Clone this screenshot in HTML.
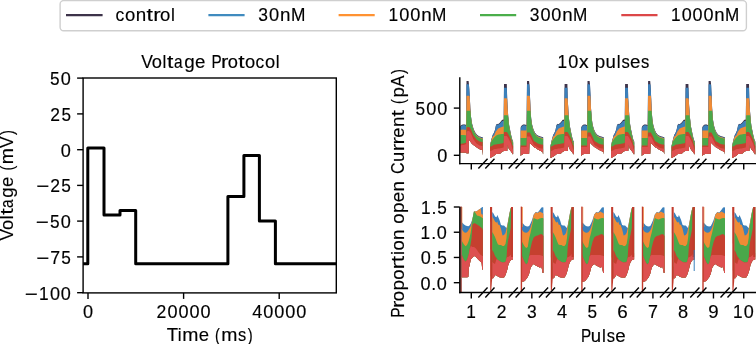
<!DOCTYPE html>
<html><head><meta charset="utf-8"><style>
html,body{margin:0;padding:0;background:#fff;}
svg{display:block;}
text{font-family:"Liberation Sans",sans-serif;font-size:17.7px;fill:#000;stroke:#000;stroke-width:0.15px;}
svg{will-change:transform;}
</style></head><body>
<svg width="756" height="344" viewBox="0 0 756 344">
<rect width="756" height="344" fill="#fff"/>
<path d="M460.2,125.9 L460.5,125.7 L460.9,125.4 L461.2,125.2 L461.6,125.0 L461.9,124.8 L462.3,124.7 L462.6,124.5 L463.0,124.5 L463.3,124.4 L463.7,124.4 L464.0,124.3 L464.4,124.4 L464.7,124.5 L465.1,124.6 L465.4,124.7 L465.8,124.8 L466.1,125.0 L466.5,81.0 L466.8,81.0 L467.2,81.0 L467.5,81.0 L467.9,81.0 L468.2,81.0 L468.6,81.0 L468.9,83.9 L469.3,89.0 L469.6,94.9 L470.0,101.0 L470.3,108.0 L470.7,112.1 L471.0,116.2 L471.4,119.4 L471.7,121.4 L472.1,123.4 L472.4,125.0 L472.8,126.1 L473.1,127.2 L473.5,128.4 L473.8,129.5 L474.2,130.2 L474.5,130.9 L474.9,131.6 L475.2,132.3 L475.6,132.9 L475.9,133.4 L476.3,133.8 L476.6,134.3 L477.0,134.7 L477.3,135.0 L477.7,135.3 L478.0,135.5 L478.4,135.8 L478.7,136.0 L479.1,136.2 L479.4,136.4 L479.8,136.5 L480.1,136.6 L480.5,136.7 L480.8,136.8 L481.2,136.9 L481.5,137.0 L481.9,137.0 L482.2,137.1 L482.6,137.1 L482.6,155.5 L482.2,149.9 L481.9,149.8 L481.5,149.7 L481.2,149.7 L480.8,149.6 L480.5,149.5 L480.1,149.4 L479.8,149.2 L479.4,149.0 L479.1,148.8 L478.7,148.6 L478.4,148.4 L478.0,148.2 L477.7,147.9 L477.3,147.7 L477.0,147.5 L476.6,147.3 L476.3,147.1 L475.9,146.8 L475.6,146.6 L475.2,146.3 L474.9,146.0 L474.5,145.7 L474.2,145.5 L473.8,145.2 L473.5,144.9 L473.1,144.7 L472.8,144.4 L472.4,144.1 L472.1,143.8 L471.7,143.4 L471.4,143.0 L471.0,142.6 L470.7,142.1 L470.3,141.7 L470.0,141.1 L469.6,140.5 L469.3,139.8 L468.9,139.2 L468.6,153.2 L468.2,153.2 L467.9,153.2 L467.5,153.2 L467.2,153.2 L466.8,153.2 L466.5,153.2 L466.1,152.6 L465.8,152.6 L465.4,152.6 L465.1,152.6 L464.7,152.6 L464.4,152.6 L464.0,152.6 L463.7,152.6 L463.3,152.6 L463.0,152.6 L462.6,152.6 L462.3,152.6 L461.9,152.6 L461.6,152.6 L461.2,152.6 L460.9,152.6 L460.5,152.6 L460.2,152.6Z" fill="#3d334a"/>
<path d="M460.2,126.9 L460.5,126.6 L460.9,126.3 L461.2,126.0 L461.6,125.8 L461.9,125.6 L462.3,125.4 L462.6,125.2 L463.0,125.2 L463.3,125.1 L463.7,125.1 L464.0,125.1 L464.4,125.1 L464.7,125.2 L465.1,125.4 L465.4,125.5 L465.8,125.6 L466.1,125.7 L466.5,84.2 L466.8,84.2 L467.2,84.2 L467.5,84.2 L467.9,84.2 L468.2,84.2 L468.6,84.2 L468.9,84.4 L469.3,89.5 L469.6,95.4 L470.0,101.5 L470.3,108.5 L470.7,112.6 L471.0,116.7 L471.4,119.9 L471.7,121.9 L472.1,123.9 L472.4,125.5 L472.8,126.6 L473.1,127.7 L473.5,128.9 L473.8,130.0 L474.2,130.7 L474.5,131.4 L474.9,132.1 L475.2,132.8 L475.6,133.4 L475.9,133.9 L476.3,134.3 L476.6,134.8 L477.0,135.2 L477.3,135.5 L477.7,135.8 L478.0,136.0 L478.4,136.3 L478.7,136.5 L479.1,136.7 L479.4,136.9 L479.8,137.0 L480.1,137.1 L480.5,137.2 L480.8,137.3 L481.2,137.4 L481.5,137.5 L481.9,137.5 L482.2,137.6 L482.6,137.6 L482.6,155.5 L482.2,149.9 L481.9,149.8 L481.5,149.7 L481.2,149.7 L480.8,149.6 L480.5,149.5 L480.1,149.4 L479.8,149.2 L479.4,149.0 L479.1,148.8 L478.7,148.6 L478.4,148.4 L478.0,148.2 L477.7,147.9 L477.3,147.7 L477.0,147.5 L476.6,147.3 L476.3,147.1 L475.9,146.8 L475.6,146.6 L475.2,146.3 L474.9,146.0 L474.5,145.7 L474.2,145.5 L473.8,145.2 L473.5,144.9 L473.1,144.7 L472.8,144.4 L472.4,144.1 L472.1,143.8 L471.7,143.4 L471.4,143.0 L471.0,142.6 L470.7,142.1 L470.3,141.7 L470.0,141.1 L469.6,140.5 L469.3,139.8 L468.9,139.2 L468.6,153.2 L468.2,153.2 L467.9,153.2 L467.5,153.2 L467.2,153.2 L466.8,153.2 L466.5,153.2 L466.1,152.6 L465.8,152.6 L465.4,152.6 L465.1,152.6 L464.7,152.6 L464.4,152.6 L464.0,152.6 L463.7,152.6 L463.3,152.6 L463.0,152.6 L462.6,152.6 L462.3,152.6 L461.9,152.6 L461.6,152.6 L461.2,152.6 L460.9,152.6 L460.5,152.6 L460.2,152.6Z" fill="#3b80bb"/>
<path d="M460.2,129.8 L460.5,129.8 L460.9,129.8 L461.2,129.7 L461.6,129.7 L461.9,129.7 L462.3,129.6 L462.6,129.6 L463.0,129.6 L463.3,129.6 L463.7,129.7 L464.0,129.7 L464.4,129.7 L464.7,129.7 L465.1,129.7 L465.4,129.8 L465.8,129.8 L466.1,129.8 L466.5,95.7 L466.8,95.7 L467.2,95.7 L467.5,95.7 L467.9,95.7 L468.2,95.7 L468.6,95.7 L468.9,95.7 L469.3,95.7 L469.6,95.9 L470.0,102.0 L470.3,109.0 L470.7,113.1 L471.0,117.2 L471.4,120.4 L471.7,122.4 L472.1,124.4 L472.4,126.0 L472.8,127.1 L473.1,128.2 L473.5,129.4 L473.8,130.5 L474.2,131.2 L474.5,131.9 L474.9,132.6 L475.2,133.3 L475.6,133.9 L475.9,134.4 L476.3,134.8 L476.6,135.3 L477.0,135.7 L477.3,136.0 L477.7,136.3 L478.0,136.5 L478.4,136.8 L478.7,137.0 L479.1,137.2 L479.4,137.4 L479.8,137.5 L480.1,137.6 L480.5,137.7 L480.8,137.8 L481.2,137.9 L481.5,138.0 L481.9,138.0 L482.2,138.1 L482.6,138.1 L482.6,155.5 L482.2,149.9 L481.9,149.8 L481.5,149.7 L481.2,149.7 L480.8,149.6 L480.5,149.5 L480.1,149.4 L479.8,149.2 L479.4,149.0 L479.1,148.8 L478.7,148.6 L478.4,148.4 L478.0,148.2 L477.7,147.9 L477.3,147.7 L477.0,147.5 L476.6,147.3 L476.3,147.1 L475.9,146.8 L475.6,146.6 L475.2,146.3 L474.9,146.0 L474.5,145.7 L474.2,145.5 L473.8,145.2 L473.5,144.9 L473.1,144.7 L472.8,144.4 L472.4,144.1 L472.1,143.8 L471.7,143.4 L471.4,143.0 L471.0,142.6 L470.7,142.1 L470.3,141.7 L470.0,141.1 L469.6,140.5 L469.3,139.8 L468.9,139.2 L468.6,153.2 L468.2,153.2 L467.9,153.2 L467.5,153.2 L467.2,153.2 L466.8,153.2 L466.5,153.2 L466.1,152.6 L465.8,152.6 L465.4,152.6 L465.1,152.6 L464.7,152.6 L464.4,152.6 L464.0,152.6 L463.7,152.6 L463.3,152.6 L463.0,152.6 L462.6,152.6 L462.3,152.6 L461.9,152.6 L461.6,152.6 L461.2,152.6 L460.9,152.6 L460.5,152.6 L460.2,152.6Z" fill="#f08b35"/>
<path d="M460.2,135.2 L460.5,135.2 L460.9,135.2 L461.2,135.1 L461.6,135.1 L461.9,135.1 L462.3,135.1 L462.6,135.1 L463.0,135.1 L463.3,135.1 L463.7,135.1 L464.0,135.1 L464.4,135.1 L464.7,135.2 L465.1,135.2 L465.4,135.2 L465.8,135.2 L466.1,135.2 L466.5,110.7 L466.8,110.7 L467.2,110.7 L467.5,110.7 L467.9,110.7 L468.2,110.7 L468.6,110.7 L468.9,110.7 L469.3,110.7 L469.6,110.7 L470.0,110.7 L470.3,110.7 L470.7,113.7 L471.0,117.8 L471.4,121.0 L471.7,123.0 L472.1,125.0 L472.4,126.6 L472.8,127.7 L473.1,128.8 L473.5,130.0 L473.8,131.1 L474.2,131.8 L474.5,132.5 L474.9,133.2 L475.2,133.9 L475.6,134.5 L475.9,135.0 L476.3,135.4 L476.6,135.9 L477.0,136.3 L477.3,136.6 L477.7,136.9 L478.0,137.1 L478.4,137.4 L478.7,137.6 L479.1,137.8 L479.4,138.0 L479.8,138.1 L480.1,138.2 L480.5,138.3 L480.8,138.4 L481.2,138.5 L481.5,138.6 L481.9,138.6 L482.2,138.7 L482.6,138.7 L482.6,155.5 L482.2,149.9 L481.9,149.8 L481.5,149.7 L481.2,149.7 L480.8,149.6 L480.5,149.5 L480.1,149.4 L479.8,149.2 L479.4,149.0 L479.1,148.8 L478.7,148.6 L478.4,148.4 L478.0,148.2 L477.7,147.9 L477.3,147.7 L477.0,147.5 L476.6,147.3 L476.3,147.1 L475.9,146.8 L475.6,146.6 L475.2,146.3 L474.9,146.0 L474.5,145.7 L474.2,145.5 L473.8,145.2 L473.5,144.9 L473.1,144.7 L472.8,144.4 L472.4,144.1 L472.1,143.8 L471.7,143.4 L471.4,143.0 L471.0,142.6 L470.7,142.1 L470.3,141.7 L470.0,141.1 L469.6,140.5 L469.3,139.8 L468.9,139.2 L468.6,153.2 L468.2,153.2 L467.9,153.2 L467.5,153.2 L467.2,153.2 L466.8,153.2 L466.5,153.2 L466.1,152.6 L465.8,152.6 L465.4,152.6 L465.1,152.6 L464.7,152.6 L464.4,152.6 L464.0,152.6 L463.7,152.6 L463.3,152.6 L463.0,152.6 L462.6,152.6 L462.3,152.6 L461.9,152.6 L461.6,152.6 L461.2,152.6 L460.9,152.6 L460.5,152.6 L460.2,152.6Z" fill="#4aa84a"/>
<path d="M460.2,143.9 L460.5,143.9 L460.9,143.8 L461.2,143.8 L461.6,143.7 L461.9,143.7 L462.3,143.6 L462.6,143.5 L463.0,143.5 L463.3,143.4 L463.7,143.4 L464.0,143.3 L464.4,143.2 L464.7,143.1 L465.1,143.0 L465.4,142.8 L465.8,142.7 L466.1,142.6 L466.5,127.5 L466.8,127.4 L467.2,127.3 L467.5,127.2 L467.9,127.1 L468.2,127.1 L468.6,127.0 L468.9,127.1 L469.3,127.3 L469.6,127.4 L470.0,127.7 L470.3,128.3 L470.7,129.0 L471.0,129.6 L471.4,130.4 L471.7,131.2 L472.1,132.1 L472.4,133.0 L472.8,133.9 L473.1,134.8 L473.5,135.4 L473.8,135.8 L474.2,136.3 L474.5,136.8 L474.9,137.3 L475.2,137.8 L475.6,138.3 L475.9,138.8 L476.3,139.3 L476.6,139.6 L477.0,139.9 L477.3,140.1 L477.7,140.3 L478.0,140.5 L478.4,140.8 L478.7,141.0 L479.1,141.2 L479.4,141.4 L479.8,141.4 L480.1,141.5 L480.5,141.6 L480.8,141.7 L481.2,141.8 L481.5,141.9 L481.9,141.9 L482.2,142.0 L482.6,142.1 L482.6,155.5 L482.2,149.9 L481.9,149.8 L481.5,149.7 L481.2,149.7 L480.8,149.6 L480.5,149.5 L480.1,149.4 L479.8,149.2 L479.4,149.0 L479.1,148.8 L478.7,148.6 L478.4,148.4 L478.0,148.2 L477.7,147.9 L477.3,147.7 L477.0,147.5 L476.6,147.3 L476.3,147.1 L475.9,146.8 L475.6,146.6 L475.2,146.3 L474.9,146.0 L474.5,145.7 L474.2,145.5 L473.8,145.2 L473.5,144.9 L473.1,144.7 L472.8,144.4 L472.4,144.1 L472.1,143.8 L471.7,143.4 L471.4,143.0 L471.0,142.6 L470.7,142.1 L470.3,141.7 L470.0,141.1 L469.6,140.5 L469.3,139.8 L468.9,139.2 L468.6,153.2 L468.2,153.2 L467.9,153.2 L467.5,153.2 L467.2,153.2 L466.8,153.2 L466.5,153.2 L466.1,152.6 L465.8,152.6 L465.4,152.6 L465.1,152.6 L464.7,152.6 L464.4,152.6 L464.0,152.6 L463.7,152.6 L463.3,152.6 L463.0,152.6 L462.6,152.6 L462.3,152.6 L461.9,152.6 L461.6,152.6 L461.2,152.6 L460.9,152.6 L460.5,152.6 L460.2,152.6Z" fill="#c5402f"/>
<path d="M460.2,145.4 L460.5,145.4 L460.9,145.3 L461.2,145.3 L461.6,145.2 L461.9,145.2 L462.3,145.1 L462.6,145.0 L463.0,145.0 L463.3,144.9 L463.7,144.9 L464.0,144.8 L464.4,144.7 L464.7,144.6 L465.1,144.5 L465.4,144.3 L465.8,144.2 L466.1,144.1 L466.5,131.5 L466.8,131.4 L467.2,131.3 L467.5,131.2 L467.9,131.1 L468.2,131.1 L468.6,131.0 L468.9,131.1 L469.3,131.3 L469.6,131.4 L470.0,131.7 L470.3,132.3 L470.7,133.0 L471.0,133.6 L471.4,134.4 L471.7,135.2 L472.1,136.1 L472.4,137.0 L472.8,137.9 L473.1,138.8 L473.5,139.4 L473.8,139.8 L474.2,140.3 L474.5,140.8 L474.9,141.3 L475.2,141.8 L475.6,142.3 L475.9,142.8 L476.3,143.3 L476.6,143.6 L477.0,143.9 L477.3,144.1 L477.7,144.3 L478.0,144.5 L478.4,144.8 L478.7,145.0 L479.1,145.2 L479.4,145.4 L479.8,145.4 L480.1,145.5 L480.5,145.6 L480.8,145.7 L481.2,145.8 L481.5,145.9 L481.9,145.9 L482.2,146.0 L482.6,146.1 L482.6,155.5 L482.2,149.9 L481.9,149.8 L481.5,149.7 L481.2,149.7 L480.8,149.6 L480.5,149.5 L480.1,149.4 L479.8,149.2 L479.4,149.0 L479.1,148.8 L478.7,148.6 L478.4,148.4 L478.0,148.2 L477.7,147.9 L477.3,147.7 L477.0,147.5 L476.6,147.3 L476.3,147.1 L475.9,146.8 L475.6,146.6 L475.2,146.3 L474.9,146.0 L474.5,145.7 L474.2,145.5 L473.8,145.2 L473.5,144.9 L473.1,144.7 L472.8,144.4 L472.4,144.1 L472.1,143.8 L471.7,143.4 L471.4,143.0 L471.0,142.6 L470.7,142.1 L470.3,141.7 L470.0,141.1 L469.6,140.5 L469.3,139.8 L468.9,139.2 L468.6,153.2 L468.2,153.2 L467.9,153.2 L467.5,153.2 L467.2,153.2 L466.8,153.2 L466.5,153.2 L466.1,152.6 L465.8,152.6 L465.4,152.6 L465.1,152.6 L464.7,152.6 L464.4,152.6 L464.0,152.6 L463.7,152.6 L463.3,152.6 L463.0,152.6 L462.6,152.6 L462.3,152.6 L461.9,152.6 L461.6,152.6 L461.2,152.6 L460.9,152.6 L460.5,152.6 L460.2,152.6Z" fill="#dd5050"/>
<path d="M490.0,145.5 L490.4,143.9 L490.7,142.3 L491.1,140.7 L491.4,139.3 L491.8,138.0 L492.1,136.8 L492.5,135.5 L492.8,134.6 L493.2,134.0 L493.5,133.4 L493.9,132.8 L494.2,131.9 L494.6,131.0 L494.9,130.0 L495.3,128.4 L495.6,126.8 L496.0,125.1 L496.3,124.6 L496.7,124.2 L497.0,123.8 L497.4,124.0 L497.7,124.1 L498.1,124.3 L498.4,123.9 L498.8,123.6 L499.1,123.3 L499.5,123.0 L499.8,122.7 L500.2,122.3 L500.5,121.8 L500.9,121.4 L501.2,120.9 L501.6,120.5 L501.9,120.0 L502.3,119.8 L502.6,119.8 L503.0,119.7 L503.3,119.6 L503.7,119.6 L504.0,83.9 L504.4,83.9 L504.7,83.9 L505.1,83.9 L505.4,83.9 L505.8,83.9 L506.1,83.9 L506.5,83.9 L506.8,83.9 L507.2,98.4 L507.5,105.2 L507.9,110.9 L508.2,116.0 L508.6,119.6 L508.9,123.2 L509.3,125.9 L509.6,127.6 L510.0,129.3 L510.3,131.1 L510.7,132.8 L511.0,134.6 L511.4,136.0 L511.7,137.4 L512.1,138.7 L512.4,140.0 L512.8,140.7 L513.1,141.3 L513.1,154.3 L512.8,154.2 L512.4,153.6 L512.1,153.0 L511.7,152.5 L511.4,152.1 L511.0,151.6 L510.7,151.1 L510.3,150.7 L510.0,150.2 L509.6,149.8 L509.3,149.3 L508.9,148.8 L508.6,147.9 L508.2,147.0 L507.9,145.9 L507.5,144.7 L507.2,151.0 L506.8,151.0 L506.5,151.0 L506.1,151.0 L505.8,151.0 L505.4,151.0 L505.1,151.0 L504.7,151.0 L504.4,151.0 L504.0,151.0 L503.7,151.1 L503.3,151.2 L503.0,151.3 L502.6,151.4 L502.3,151.6 L501.9,151.9 L501.6,152.2 L501.2,152.6 L500.9,152.9 L500.5,153.2 L500.2,153.5 L499.8,153.6 L499.5,153.7 L499.1,153.7 L498.8,153.7 L498.4,153.8 L498.1,153.8 L497.7,153.8 L497.4,153.9 L497.0,153.9 L496.7,153.9 L496.3,154.0 L496.0,154.0 L495.6,154.4 L495.3,154.7 L494.9,155.0 L494.6,155.3 L494.2,155.6 L493.9,155.9 L493.5,156.1 L493.2,156.3 L492.8,156.5 L492.5,156.7 L492.1,156.9 L491.8,157.1 L491.4,157.3 L491.1,157.5 L490.7,157.7 L490.4,157.9 L490.0,158.0Z" fill="#3d334a"/>
<path d="M490.0,145.8 L490.4,144.2 L490.7,142.6 L491.1,141.0 L491.4,139.6 L491.8,138.4 L492.1,137.1 L492.5,135.9 L492.8,135.0 L493.2,134.4 L493.5,133.8 L493.9,133.2 L494.2,132.4 L494.6,131.4 L494.9,130.4 L495.3,128.8 L495.6,127.2 L496.0,125.6 L496.3,125.0 L496.7,124.7 L497.0,124.3 L497.4,124.5 L497.7,124.6 L498.1,124.8 L498.4,124.5 L498.8,124.3 L499.1,124.0 L499.5,123.8 L499.8,123.5 L500.2,123.2 L500.5,122.8 L500.9,122.4 L501.2,122.0 L501.6,121.6 L501.9,121.2 L502.3,121.1 L502.6,121.1 L503.0,121.0 L503.3,120.9 L503.7,120.9 L504.0,87.8 L504.4,87.8 L504.7,87.8 L505.1,87.8 L505.4,87.8 L505.8,87.8 L506.1,87.8 L506.5,87.8 L506.8,87.8 L507.2,98.9 L507.5,105.7 L507.9,111.4 L508.2,116.5 L508.6,120.1 L508.9,123.7 L509.3,126.4 L509.6,128.1 L510.0,129.8 L510.3,131.6 L510.7,133.3 L511.0,135.1 L511.4,136.5 L511.7,137.9 L512.1,139.2 L512.4,140.5 L512.8,141.2 L513.1,141.8 L513.1,154.3 L512.8,154.2 L512.4,153.6 L512.1,153.0 L511.7,152.5 L511.4,152.1 L511.0,151.6 L510.7,151.1 L510.3,150.7 L510.0,150.2 L509.6,149.8 L509.3,149.3 L508.9,148.8 L508.6,147.9 L508.2,147.0 L507.9,145.9 L507.5,144.7 L507.2,151.0 L506.8,151.0 L506.5,151.0 L506.1,151.0 L505.8,151.0 L505.4,151.0 L505.1,151.0 L504.7,151.0 L504.4,151.0 L504.0,151.0 L503.7,151.1 L503.3,151.2 L503.0,151.3 L502.6,151.4 L502.3,151.6 L501.9,151.9 L501.6,152.2 L501.2,152.6 L500.9,152.9 L500.5,153.2 L500.2,153.5 L499.8,153.6 L499.5,153.7 L499.1,153.7 L498.8,153.7 L498.4,153.8 L498.1,153.8 L497.7,153.8 L497.4,153.9 L497.0,153.9 L496.7,153.9 L496.3,154.0 L496.0,154.0 L495.6,154.4 L495.3,154.7 L494.9,155.0 L494.6,155.3 L494.2,155.6 L493.9,155.9 L493.5,156.1 L493.2,156.3 L492.8,156.5 L492.5,156.7 L492.1,156.9 L491.8,157.1 L491.4,157.3 L491.1,157.5 L490.7,157.7 L490.4,157.9 L490.0,158.0Z" fill="#3b80bb"/>
<path d="M490.0,145.9 L490.4,144.3 L490.7,142.7 L491.1,141.2 L491.4,139.9 L491.8,138.9 L492.1,137.9 L492.5,136.9 L492.8,136.4 L493.2,136.1 L493.5,135.9 L493.9,135.7 L494.2,135.2 L494.6,134.4 L494.9,133.6 L495.3,132.8 L495.6,132.1 L496.0,131.3 L496.3,130.8 L496.7,130.4 L497.0,129.9 L497.4,129.4 L497.7,129.0 L498.1,128.6 L498.4,128.4 L498.8,128.3 L499.1,128.1 L499.5,127.9 L499.8,127.8 L500.2,127.6 L500.5,127.5 L500.9,127.4 L501.2,127.2 L501.6,127.1 L501.9,126.9 L502.3,126.8 L502.6,126.8 L503.0,126.7 L503.3,126.6 L503.7,126.6 L504.0,98.3 L504.4,98.3 L504.7,98.3 L505.1,98.3 L505.4,98.3 L505.8,98.3 L506.1,98.3 L506.5,98.3 L506.8,98.3 L507.2,99.4 L507.5,106.2 L507.9,111.9 L508.2,117.0 L508.6,120.6 L508.9,124.2 L509.3,126.9 L509.6,128.6 L510.0,130.3 L510.3,132.1 L510.7,133.8 L511.0,135.6 L511.4,137.0 L511.7,138.4 L512.1,139.7 L512.4,141.0 L512.8,141.7 L513.1,142.3 L513.1,154.3 L512.8,154.2 L512.4,153.6 L512.1,153.0 L511.7,152.5 L511.4,152.1 L511.0,151.6 L510.7,151.1 L510.3,150.7 L510.0,150.2 L509.6,149.8 L509.3,149.3 L508.9,148.8 L508.6,147.9 L508.2,147.0 L507.9,145.9 L507.5,144.7 L507.2,151.0 L506.8,151.0 L506.5,151.0 L506.1,151.0 L505.8,151.0 L505.4,151.0 L505.1,151.0 L504.7,151.0 L504.4,151.0 L504.0,151.0 L503.7,151.1 L503.3,151.2 L503.0,151.3 L502.6,151.4 L502.3,151.6 L501.9,151.9 L501.6,152.2 L501.2,152.6 L500.9,152.9 L500.5,153.2 L500.2,153.5 L499.8,153.6 L499.5,153.7 L499.1,153.7 L498.8,153.7 L498.4,153.8 L498.1,153.8 L497.7,153.8 L497.4,153.9 L497.0,153.9 L496.7,153.9 L496.3,154.0 L496.0,154.0 L495.6,154.4 L495.3,154.7 L494.9,155.0 L494.6,155.3 L494.2,155.6 L493.9,155.9 L493.5,156.1 L493.2,156.3 L492.8,156.5 L492.5,156.7 L492.1,156.9 L491.8,157.1 L491.4,157.3 L491.1,157.5 L490.7,157.7 L490.4,157.9 L490.0,158.0Z" fill="#f08b35"/>
<path d="M490.0,146.2 L490.4,144.8 L490.7,143.5 L491.1,142.1 L491.4,141.2 L491.8,140.7 L492.1,140.2 L492.5,139.7 L492.8,139.3 L493.2,138.8 L493.5,138.3 L493.9,137.9 L494.2,137.5 L494.6,137.1 L494.9,136.8 L495.3,136.4 L495.6,136.0 L496.0,135.7 L496.3,135.5 L496.7,135.3 L497.0,135.1 L497.4,135.0 L497.7,134.8 L498.1,134.7 L498.4,134.6 L498.8,134.6 L499.1,134.5 L499.5,134.4 L499.8,134.3 L500.2,134.3 L500.5,134.2 L500.9,134.2 L501.2,134.1 L501.6,134.1 L501.9,134.1 L502.3,134.0 L502.6,134.0 L503.0,133.9 L503.3,133.9 L503.7,133.8 L504.0,115.3 L504.4,115.3 L504.7,115.3 L505.1,115.3 L505.4,115.3 L505.8,115.3 L506.1,115.3 L506.5,115.3 L506.8,115.3 L507.2,115.3 L507.5,115.3 L507.9,115.3 L508.2,117.6 L508.6,121.2 L508.9,124.8 L509.3,127.5 L509.6,129.2 L510.0,130.9 L510.3,132.7 L510.7,134.4 L511.0,136.2 L511.4,137.6 L511.7,139.0 L512.1,140.3 L512.4,141.6 L512.8,142.3 L513.1,142.9 L513.1,154.3 L512.8,154.2 L512.4,153.6 L512.1,153.0 L511.7,152.5 L511.4,152.1 L511.0,151.6 L510.7,151.1 L510.3,150.7 L510.0,150.2 L509.6,149.8 L509.3,149.3 L508.9,148.8 L508.6,147.9 L508.2,147.0 L507.9,145.9 L507.5,144.7 L507.2,151.0 L506.8,151.0 L506.5,151.0 L506.1,151.0 L505.8,151.0 L505.4,151.0 L505.1,151.0 L504.7,151.0 L504.4,151.0 L504.0,151.0 L503.7,151.1 L503.3,151.2 L503.0,151.3 L502.6,151.4 L502.3,151.6 L501.9,151.9 L501.6,152.2 L501.2,152.6 L500.9,152.9 L500.5,153.2 L500.2,153.5 L499.8,153.6 L499.5,153.7 L499.1,153.7 L498.8,153.7 L498.4,153.8 L498.1,153.8 L497.7,153.8 L497.4,153.9 L497.0,153.9 L496.7,153.9 L496.3,154.0 L496.0,154.0 L495.6,154.4 L495.3,154.7 L494.9,155.0 L494.6,155.3 L494.2,155.6 L493.9,155.9 L493.5,156.1 L493.2,156.3 L492.8,156.5 L492.5,156.7 L492.1,156.9 L491.8,157.1 L491.4,157.3 L491.1,157.5 L490.7,157.7 L490.4,157.9 L490.0,158.0Z" fill="#4aa84a"/>
<path d="M490.0,146.8 L490.4,146.6 L490.7,146.5 L491.1,146.4 L491.4,146.2 L491.8,146.1 L492.1,145.9 L492.5,145.7 L492.8,145.5 L493.2,145.3 L493.5,145.0 L493.9,144.8 L494.2,144.7 L494.6,144.6 L494.9,144.6 L495.3,144.5 L495.6,144.5 L496.0,144.4 L496.3,144.4 L496.7,144.3 L497.0,144.2 L497.4,144.2 L497.7,144.1 L498.1,144.1 L498.4,144.0 L498.8,144.0 L499.1,143.9 L499.5,143.9 L499.8,143.8 L500.2,143.8 L500.5,143.7 L500.9,143.6 L501.2,143.6 L501.6,143.5 L501.9,143.4 L502.3,143.3 L502.6,143.3 L503.0,143.2 L503.3,143.1 L503.7,143.1 L504.0,132.0 L504.4,132.0 L504.7,132.0 L505.1,132.0 L505.4,132.0 L505.8,132.0 L506.1,132.0 L506.5,132.0 L506.8,132.0 L507.2,132.4 L507.5,133.0 L507.9,133.6 L508.2,134.1 L508.6,134.7 L508.9,135.4 L509.3,136.1 L509.6,136.8 L510.0,137.5 L510.3,138.2 L510.7,138.9 L511.0,139.6 L511.4,140.9 L511.7,142.3 L512.1,143.7 L512.4,145.0 L512.8,145.5 L513.1,145.9 L513.1,154.3 L512.8,154.2 L512.4,153.6 L512.1,153.0 L511.7,152.5 L511.4,152.1 L511.0,151.6 L510.7,151.1 L510.3,150.7 L510.0,150.2 L509.6,149.8 L509.3,149.3 L508.9,148.8 L508.6,147.9 L508.2,147.0 L507.9,145.9 L507.5,144.7 L507.2,151.0 L506.8,151.0 L506.5,151.0 L506.1,151.0 L505.8,151.0 L505.4,151.0 L505.1,151.0 L504.7,151.0 L504.4,151.0 L504.0,151.0 L503.7,151.1 L503.3,151.2 L503.0,151.3 L502.6,151.4 L502.3,151.6 L501.9,151.9 L501.6,152.2 L501.2,152.6 L500.9,152.9 L500.5,153.2 L500.2,153.5 L499.8,153.6 L499.5,153.7 L499.1,153.7 L498.8,153.7 L498.4,153.8 L498.1,153.8 L497.7,153.8 L497.4,153.9 L497.0,153.9 L496.7,153.9 L496.3,154.0 L496.0,154.0 L495.6,154.4 L495.3,154.7 L494.9,155.0 L494.6,155.3 L494.2,155.6 L493.9,155.9 L493.5,156.1 L493.2,156.3 L492.8,156.5 L492.5,156.7 L492.1,156.9 L491.8,157.1 L491.4,157.3 L491.1,157.5 L490.7,157.7 L490.4,157.9 L490.0,158.0Z" fill="#c5402f"/>
<path d="M490.0,151.3 L490.4,151.1 L490.7,151.0 L491.1,150.9 L491.4,150.7 L491.8,150.6 L492.1,150.4 L492.5,150.2 L492.8,150.0 L493.2,149.8 L493.5,149.5 L493.9,149.3 L494.2,149.2 L494.6,149.1 L494.9,149.1 L495.3,149.0 L495.6,149.0 L496.0,148.9 L496.3,148.9 L496.7,148.8 L497.0,148.8 L497.4,148.7 L497.7,148.6 L498.1,148.6 L498.4,148.5 L498.8,148.5 L499.1,148.4 L499.5,148.4 L499.8,148.3 L500.2,148.3 L500.5,148.2 L500.9,148.1 L501.2,148.1 L501.6,148.0 L501.9,147.9 L502.3,147.8 L502.6,147.8 L503.0,147.7 L503.3,147.6 L503.7,147.6 L504.0,136.0 L504.4,136.0 L504.7,136.0 L505.1,136.0 L505.4,136.0 L505.8,136.0 L506.1,136.0 L506.5,136.0 L506.8,136.0 L507.2,136.4 L507.5,137.0 L507.9,137.6 L508.2,138.1 L508.6,138.7 L508.9,139.4 L509.3,140.1 L509.6,140.8 L510.0,141.5 L510.3,142.2 L510.7,142.9 L511.0,143.6 L511.4,144.9 L511.7,146.3 L512.1,147.7 L512.4,149.0 L512.8,149.5 L513.1,149.9 L513.1,154.3 L512.8,154.2 L512.4,153.6 L512.1,153.0 L511.7,152.5 L511.4,152.1 L511.0,151.6 L510.7,151.1 L510.3,150.7 L510.0,150.2 L509.6,149.8 L509.3,149.3 L508.9,148.8 L508.6,147.9 L508.2,147.0 L507.9,145.9 L507.5,144.7 L507.2,151.0 L506.8,151.0 L506.5,151.0 L506.1,151.0 L505.8,151.0 L505.4,151.0 L505.1,151.0 L504.7,151.0 L504.4,151.0 L504.0,151.0 L503.7,151.1 L503.3,151.2 L503.0,151.3 L502.6,151.4 L502.3,151.6 L501.9,151.9 L501.6,152.2 L501.2,152.6 L500.9,152.9 L500.5,153.2 L500.2,153.5 L499.8,153.6 L499.5,153.7 L499.1,153.7 L498.8,153.7 L498.4,153.8 L498.1,153.8 L497.7,153.8 L497.4,153.9 L497.0,153.9 L496.7,153.9 L496.3,154.0 L496.0,154.0 L495.6,154.4 L495.3,154.7 L494.9,155.0 L494.6,155.3 L494.2,155.6 L493.9,155.9 L493.5,156.1 L493.2,156.3 L492.8,156.5 L492.5,156.7 L492.1,156.9 L491.8,157.1 L491.4,157.3 L491.1,157.5 L490.7,157.7 L490.4,157.9 L490.0,158.0Z" fill="#dd5050"/>
<path d="M520.7,127.2 L521.0,126.6 L521.4,126.0 L521.7,125.5 L522.1,125.2 L522.4,125.0 L522.8,124.8 L523.1,124.5 L523.5,124.5 L523.8,124.5 L524.2,124.5 L524.5,124.6 L524.9,124.6 L525.2,124.6 L525.6,124.8 L525.9,124.9 L526.3,125.0 L526.6,125.1 L527.0,81.0 L527.3,81.0 L527.7,81.0 L528.0,81.0 L528.4,81.0 L528.7,81.0 L529.1,81.0 L529.4,84.6 L529.8,91.2 L530.1,98.9 L530.5,108.0 L530.8,113.2 L531.2,118.5 L531.5,120.8 L531.9,123.2 L532.2,125.0 L532.6,126.3 L532.9,127.5 L533.3,128.8 L533.6,129.8 L534.0,130.5 L534.3,131.3 L534.7,132.0 L535.0,132.7 L535.4,133.2 L535.7,133.6 L536.1,134.0 L536.4,134.4 L536.8,134.8 L537.1,135.0 L537.5,135.2 L537.8,135.4 L538.2,135.6 L538.5,135.8 L538.9,136.0 L539.2,136.1 L539.6,136.2 L539.9,136.3 L540.3,136.4 L540.6,136.5 L541.0,136.6 L541.3,136.7 L541.7,136.8 L542.0,136.9 L542.4,137.0 L542.7,137.0 L543.1,137.1 L543.1,154.5 L542.7,152.0 L542.4,151.8 L542.0,151.6 L541.7,151.4 L541.3,151.3 L541.0,151.1 L540.6,150.9 L540.3,150.7 L539.9,150.5 L539.6,150.4 L539.2,150.2 L538.9,150.0 L538.5,149.8 L538.2,149.6 L537.8,149.4 L537.5,149.2 L537.1,148.9 L536.8,148.7 L536.4,148.5 L536.1,148.3 L535.7,148.1 L535.4,147.9 L535.0,147.7 L534.7,147.5 L534.3,147.3 L534.0,147.1 L533.6,146.8 L533.3,146.4 L532.9,146.1 L532.6,145.8 L532.2,145.5 L531.9,145.1 L531.5,144.8 L531.2,144.5 L530.8,144.1 L530.5,143.7 L530.1,143.3 L529.8,142.9 L529.4,142.5 L529.1,153.8 L528.7,153.8 L528.4,153.8 L528.0,153.8 L527.7,153.8 L527.3,153.8 L527.0,153.8 L526.6,153.8 L526.3,153.8 L525.9,153.8 L525.6,153.9 L525.2,153.9 L524.9,153.9 L524.5,153.9 L524.2,153.9 L523.8,154.0 L523.5,154.0 L523.1,154.0 L522.8,154.2 L522.4,154.4 L522.1,154.6 L521.7,154.7 L521.4,154.9 L521.0,155.4 L520.7,156.2Z" fill="#3d334a"/>
<path d="M520.7,128.1 L521.0,127.5 L521.4,126.9 L521.7,126.3 L522.1,126.0 L522.4,125.8 L522.8,125.5 L523.1,125.2 L523.5,125.2 L523.8,125.3 L524.2,125.3 L524.5,125.3 L524.9,125.3 L525.2,125.4 L525.6,125.5 L525.9,125.7 L526.3,125.8 L526.6,125.9 L527.0,84.2 L527.3,84.2 L527.7,84.2 L528.0,84.2 L528.4,84.2 L528.7,84.2 L529.1,84.2 L529.4,85.1 L529.8,91.7 L530.1,99.4 L530.5,108.5 L530.8,113.7 L531.2,119.0 L531.5,121.3 L531.9,123.7 L532.2,125.5 L532.6,126.8 L532.9,128.0 L533.3,129.3 L533.6,130.3 L534.0,131.0 L534.3,131.8 L534.7,132.5 L535.0,133.2 L535.4,133.7 L535.7,134.1 L536.1,134.5 L536.4,134.9 L536.8,135.3 L537.1,135.5 L537.5,135.7 L537.8,135.9 L538.2,136.1 L538.5,136.3 L538.9,136.5 L539.2,136.6 L539.6,136.7 L539.9,136.8 L540.3,136.9 L540.6,137.0 L541.0,137.1 L541.3,137.2 L541.7,137.3 L542.0,137.4 L542.4,137.5 L542.7,137.5 L543.1,137.6 L543.1,154.5 L542.7,152.0 L542.4,151.8 L542.0,151.6 L541.7,151.4 L541.3,151.3 L541.0,151.1 L540.6,150.9 L540.3,150.7 L539.9,150.5 L539.6,150.4 L539.2,150.2 L538.9,150.0 L538.5,149.8 L538.2,149.6 L537.8,149.4 L537.5,149.2 L537.1,148.9 L536.8,148.7 L536.4,148.5 L536.1,148.3 L535.7,148.1 L535.4,147.9 L535.0,147.7 L534.7,147.5 L534.3,147.3 L534.0,147.1 L533.6,146.8 L533.3,146.4 L532.9,146.1 L532.6,145.8 L532.2,145.5 L531.9,145.1 L531.5,144.8 L531.2,144.5 L530.8,144.1 L530.5,143.7 L530.1,143.3 L529.8,142.9 L529.4,142.5 L529.1,153.8 L528.7,153.8 L528.4,153.8 L528.0,153.8 L527.7,153.8 L527.3,153.8 L527.0,153.8 L526.6,153.8 L526.3,153.8 L525.9,153.8 L525.6,153.9 L525.2,153.9 L524.9,153.9 L524.5,153.9 L524.2,153.9 L523.8,154.0 L523.5,154.0 L523.1,154.0 L522.8,154.2 L522.4,154.4 L522.1,154.6 L521.7,154.7 L521.4,154.9 L521.0,155.4 L520.7,156.2Z" fill="#3b80bb"/>
<path d="M520.7,130.6 L521.0,130.6 L521.4,130.6 L521.7,130.6 L522.1,130.6 L522.4,130.6 L522.8,130.6 L523.1,130.6 L523.5,130.6 L523.8,130.6 L524.2,130.6 L524.5,130.6 L524.9,130.6 L525.2,130.6 L525.6,130.6 L525.9,130.6 L526.3,130.6 L526.6,130.6 L527.0,95.7 L527.3,95.7 L527.7,95.7 L528.0,95.7 L528.4,95.7 L528.7,95.7 L529.1,95.7 L529.4,95.7 L529.8,95.7 L530.1,99.9 L530.5,109.0 L530.8,114.2 L531.2,119.5 L531.5,121.8 L531.9,124.2 L532.2,126.0 L532.6,127.3 L532.9,128.5 L533.3,129.8 L533.6,130.8 L534.0,131.5 L534.3,132.3 L534.7,133.0 L535.0,133.7 L535.4,134.2 L535.7,134.6 L536.1,135.0 L536.4,135.4 L536.8,135.8 L537.1,136.0 L537.5,136.2 L537.8,136.4 L538.2,136.6 L538.5,136.8 L538.9,137.0 L539.2,137.1 L539.6,137.2 L539.9,137.3 L540.3,137.4 L540.6,137.5 L541.0,137.6 L541.3,137.7 L541.7,137.8 L542.0,137.9 L542.4,138.0 L542.7,138.0 L543.1,138.1 L543.1,154.5 L542.7,152.0 L542.4,151.8 L542.0,151.6 L541.7,151.4 L541.3,151.3 L541.0,151.1 L540.6,150.9 L540.3,150.7 L539.9,150.5 L539.6,150.4 L539.2,150.2 L538.9,150.0 L538.5,149.8 L538.2,149.6 L537.8,149.4 L537.5,149.2 L537.1,148.9 L536.8,148.7 L536.4,148.5 L536.1,148.3 L535.7,148.1 L535.4,147.9 L535.0,147.7 L534.7,147.5 L534.3,147.3 L534.0,147.1 L533.6,146.8 L533.3,146.4 L532.9,146.1 L532.6,145.8 L532.2,145.5 L531.9,145.1 L531.5,144.8 L531.2,144.5 L530.8,144.1 L530.5,143.7 L530.1,143.3 L529.8,142.9 L529.4,142.5 L529.1,153.8 L528.7,153.8 L528.4,153.8 L528.0,153.8 L527.7,153.8 L527.3,153.8 L527.0,153.8 L526.6,153.8 L526.3,153.8 L525.9,153.8 L525.6,153.9 L525.2,153.9 L524.9,153.9 L524.5,153.9 L524.2,153.9 L523.8,154.0 L523.5,154.0 L523.1,154.0 L522.8,154.2 L522.4,154.4 L522.1,154.6 L521.7,154.7 L521.4,154.9 L521.0,155.4 L520.7,156.2Z" fill="#f08b35"/>
<path d="M520.7,137.9 L521.0,137.9 L521.4,137.9 L521.7,137.9 L522.1,137.9 L522.4,137.9 L522.8,137.9 L523.1,137.9 L523.5,137.9 L523.8,137.9 L524.2,137.9 L524.5,137.9 L524.9,137.9 L525.2,137.9 L525.6,137.9 L525.9,137.9 L526.3,137.9 L526.6,137.9 L527.0,110.7 L527.3,110.7 L527.7,110.7 L528.0,110.7 L528.4,110.7 L528.7,110.7 L529.1,110.7 L529.4,110.7 L529.8,110.7 L530.1,110.7 L530.5,110.7 L530.8,114.8 L531.2,120.1 L531.5,122.4 L531.9,124.8 L532.2,126.6 L532.6,127.9 L532.9,129.1 L533.3,130.4 L533.6,131.4 L534.0,132.1 L534.3,132.9 L534.7,133.6 L535.0,134.3 L535.4,134.8 L535.7,135.2 L536.1,135.6 L536.4,136.0 L536.8,136.4 L537.1,136.6 L537.5,136.8 L537.8,137.0 L538.2,137.2 L538.5,137.4 L538.9,137.6 L539.2,137.7 L539.6,137.8 L539.9,137.9 L540.3,138.0 L540.6,138.1 L541.0,138.2 L541.3,138.3 L541.7,138.4 L542.0,138.5 L542.4,138.6 L542.7,138.6 L543.1,138.7 L543.1,154.5 L542.7,152.0 L542.4,151.8 L542.0,151.6 L541.7,151.4 L541.3,151.3 L541.0,151.1 L540.6,150.9 L540.3,150.7 L539.9,150.5 L539.6,150.4 L539.2,150.2 L538.9,150.0 L538.5,149.8 L538.2,149.6 L537.8,149.4 L537.5,149.2 L537.1,148.9 L536.8,148.7 L536.4,148.5 L536.1,148.3 L535.7,148.1 L535.4,147.9 L535.0,147.7 L534.7,147.5 L534.3,147.3 L534.0,147.1 L533.6,146.8 L533.3,146.4 L532.9,146.1 L532.6,145.8 L532.2,145.5 L531.9,145.1 L531.5,144.8 L531.2,144.5 L530.8,144.1 L530.5,143.7 L530.1,143.3 L529.8,142.9 L529.4,142.5 L529.1,153.8 L528.7,153.8 L528.4,153.8 L528.0,153.8 L527.7,153.8 L527.3,153.8 L527.0,153.8 L526.6,153.8 L526.3,153.8 L525.9,153.8 L525.6,153.9 L525.2,153.9 L524.9,153.9 L524.5,153.9 L524.2,153.9 L523.8,154.0 L523.5,154.0 L523.1,154.0 L522.8,154.2 L522.4,154.4 L522.1,154.6 L521.7,154.7 L521.4,154.9 L521.0,155.4 L520.7,156.2Z" fill="#4aa84a"/>
<path d="M520.7,145.5 L521.0,145.5 L521.4,145.5 L521.7,145.5 L522.1,145.5 L522.4,145.5 L522.8,145.5 L523.1,145.5 L523.5,145.5 L523.8,145.5 L524.2,145.5 L524.5,145.5 L524.9,145.5 L525.2,145.5 L525.6,145.5 L525.9,145.5 L526.3,145.5 L526.6,145.5 L527.0,132.6 L527.3,132.6 L527.7,132.6 L528.0,132.6 L528.4,132.6 L528.7,132.6 L529.1,132.6 L529.4,132.6 L529.8,132.6 L530.1,133.1 L530.5,133.7 L530.8,134.4 L531.2,135.1 L531.5,135.7 L531.9,136.5 L532.2,137.2 L532.6,138.0 L532.9,138.8 L533.3,139.6 L533.6,140.4 L534.0,141.1 L534.3,141.3 L534.7,141.5 L535.0,141.7 L535.4,141.9 L535.7,142.1 L536.1,142.3 L536.4,142.5 L536.8,142.7 L537.1,142.9 L537.5,143.2 L537.8,143.4 L538.2,143.6 L538.5,143.8 L538.9,144.0 L539.2,144.1 L539.6,144.1 L539.9,144.2 L540.3,144.2 L540.6,144.3 L541.0,144.4 L541.3,144.4 L541.7,144.5 L542.0,144.5 L542.4,144.6 L542.7,144.7 L543.1,144.7 L543.1,154.5 L542.7,152.0 L542.4,151.8 L542.0,151.6 L541.7,151.4 L541.3,151.3 L541.0,151.1 L540.6,150.9 L540.3,150.7 L539.9,150.5 L539.6,150.4 L539.2,150.2 L538.9,150.0 L538.5,149.8 L538.2,149.6 L537.8,149.4 L537.5,149.2 L537.1,148.9 L536.8,148.7 L536.4,148.5 L536.1,148.3 L535.7,148.1 L535.4,147.9 L535.0,147.7 L534.7,147.5 L534.3,147.3 L534.0,147.1 L533.6,146.8 L533.3,146.4 L532.9,146.1 L532.6,145.8 L532.2,145.5 L531.9,145.1 L531.5,144.8 L531.2,144.5 L530.8,144.1 L530.5,143.7 L530.1,143.3 L529.8,142.9 L529.4,142.5 L529.1,153.8 L528.7,153.8 L528.4,153.8 L528.0,153.8 L527.7,153.8 L527.3,153.8 L527.0,153.8 L526.6,153.8 L526.3,153.8 L525.9,153.8 L525.6,153.9 L525.2,153.9 L524.9,153.9 L524.5,153.9 L524.2,153.9 L523.8,154.0 L523.5,154.0 L523.1,154.0 L522.8,154.2 L522.4,154.4 L522.1,154.6 L521.7,154.7 L521.4,154.9 L521.0,155.4 L520.7,156.2Z" fill="#c5402f"/>
<path d="M520.7,147.0 L521.0,147.0 L521.4,147.0 L521.7,147.0 L522.1,147.0 L522.4,147.0 L522.8,147.0 L523.1,147.0 L523.5,147.0 L523.8,147.0 L524.2,147.0 L524.5,147.0 L524.9,147.0 L525.2,147.0 L525.6,147.0 L525.9,147.0 L526.3,147.0 L526.6,147.0 L527.0,136.6 L527.3,136.6 L527.7,136.6 L528.0,136.6 L528.4,136.6 L528.7,136.6 L529.1,136.6 L529.4,136.6 L529.8,136.6 L530.1,137.1 L530.5,137.7 L530.8,138.4 L531.2,139.1 L531.5,139.7 L531.9,140.5 L532.2,141.2 L532.6,142.0 L532.9,142.8 L533.3,143.6 L533.6,144.4 L534.0,145.1 L534.3,145.3 L534.7,145.5 L535.0,145.7 L535.4,145.9 L535.7,146.1 L536.1,146.3 L536.4,146.5 L536.8,146.7 L537.1,146.9 L537.5,147.2 L537.8,147.4 L538.2,147.6 L538.5,147.8 L538.9,148.0 L539.2,148.1 L539.6,148.1 L539.9,148.2 L540.3,148.2 L540.6,148.3 L541.0,148.4 L541.3,148.4 L541.7,148.5 L542.0,148.5 L542.4,148.6 L542.7,148.7 L543.1,148.7 L543.1,154.5 L542.7,152.0 L542.4,151.8 L542.0,151.6 L541.7,151.4 L541.3,151.3 L541.0,151.1 L540.6,150.9 L540.3,150.7 L539.9,150.5 L539.6,150.4 L539.2,150.2 L538.9,150.0 L538.5,149.8 L538.2,149.6 L537.8,149.4 L537.5,149.2 L537.1,148.9 L536.8,148.7 L536.4,148.5 L536.1,148.3 L535.7,148.1 L535.4,147.9 L535.0,147.7 L534.7,147.5 L534.3,147.3 L534.0,147.1 L533.6,146.8 L533.3,146.4 L532.9,146.1 L532.6,145.8 L532.2,145.5 L531.9,145.1 L531.5,144.8 L531.2,144.5 L530.8,144.1 L530.5,143.7 L530.1,143.3 L529.8,142.9 L529.4,142.5 L529.1,153.8 L528.7,153.8 L528.4,153.8 L528.0,153.8 L527.7,153.8 L527.3,153.8 L527.0,153.8 L526.6,153.8 L526.3,153.8 L525.9,153.8 L525.6,153.9 L525.2,153.9 L524.9,153.9 L524.5,153.9 L524.2,153.9 L523.8,154.0 L523.5,154.0 L523.1,154.0 L522.8,154.2 L522.4,154.4 L522.1,154.6 L521.7,154.7 L521.4,154.9 L521.0,155.4 L520.7,156.2Z" fill="#dd5050"/>
<path d="M550.6,145.5 L550.9,143.9 L551.3,142.3 L551.6,140.7 L552.0,139.3 L552.3,138.0 L552.7,136.8 L553.0,135.5 L553.4,134.6 L553.7,134.0 L554.1,133.4 L554.4,132.8 L554.8,131.9 L555.1,131.0 L555.5,130.0 L555.8,128.4 L556.2,126.8 L556.5,125.1 L556.9,124.6 L557.2,124.2 L557.6,123.8 L557.9,124.0 L558.3,124.1 L558.6,124.3 L559.0,123.9 L559.3,123.6 L559.7,123.3 L560.0,123.0 L560.4,122.7 L560.7,122.3 L561.1,121.8 L561.4,121.4 L561.8,120.9 L562.1,120.5 L562.5,120.0 L562.8,119.8 L563.2,119.8 L563.5,119.7 L563.9,119.6 L564.2,119.6 L564.6,83.9 L564.9,83.9 L565.3,83.9 L565.6,83.9 L566.0,83.9 L566.3,83.9 L566.7,83.9 L567.0,83.9 L567.4,83.9 L567.7,98.4 L568.1,105.2 L568.4,110.9 L568.8,116.0 L569.1,119.6 L569.5,123.2 L569.8,125.9 L570.2,127.6 L570.5,129.3 L570.9,131.1 L571.2,132.8 L571.6,134.6 L571.9,136.0 L572.3,137.4 L572.6,138.7 L573.0,140.0 L573.3,140.7 L573.7,141.3 L573.7,154.3 L573.3,154.2 L573.0,153.6 L572.6,153.0 L572.3,152.5 L571.9,152.1 L571.6,151.6 L571.2,151.1 L570.9,150.7 L570.5,150.2 L570.2,149.8 L569.8,149.3 L569.5,148.8 L569.1,147.9 L568.8,147.0 L568.4,145.9 L568.1,144.7 L567.7,151.0 L567.4,151.0 L567.0,151.0 L566.7,151.0 L566.3,151.0 L566.0,151.0 L565.6,151.0 L565.3,151.0 L564.9,151.0 L564.6,151.0 L564.2,151.1 L563.9,151.2 L563.5,151.3 L563.2,151.4 L562.8,151.6 L562.5,151.9 L562.1,152.2 L561.8,152.6 L561.4,152.9 L561.1,153.2 L560.7,153.5 L560.4,153.6 L560.0,153.7 L559.7,153.7 L559.3,153.7 L559.0,153.8 L558.6,153.8 L558.3,153.8 L557.9,153.9 L557.6,153.9 L557.2,153.9 L556.9,154.0 L556.5,154.0 L556.2,154.4 L555.8,154.7 L555.5,155.0 L555.1,155.3 L554.8,155.6 L554.4,155.9 L554.1,156.1 L553.7,156.3 L553.4,156.5 L553.0,156.7 L552.7,156.9 L552.3,157.1 L552.0,157.3 L551.6,157.5 L551.3,157.7 L550.9,157.9 L550.6,158.0Z" fill="#3d334a"/>
<path d="M550.6,145.8 L550.9,144.2 L551.3,142.6 L551.6,141.0 L552.0,139.6 L552.3,138.4 L552.7,137.1 L553.0,135.9 L553.4,135.0 L553.7,134.4 L554.1,133.8 L554.4,133.2 L554.8,132.4 L555.1,131.4 L555.5,130.4 L555.8,128.8 L556.2,127.2 L556.5,125.6 L556.9,125.0 L557.2,124.7 L557.6,124.3 L557.9,124.5 L558.3,124.6 L558.6,124.8 L559.0,124.5 L559.3,124.3 L559.7,124.0 L560.0,123.8 L560.4,123.5 L560.7,123.2 L561.1,122.8 L561.4,122.4 L561.8,122.0 L562.1,121.6 L562.5,121.2 L562.8,121.1 L563.2,121.1 L563.5,121.0 L563.9,120.9 L564.2,120.9 L564.6,87.8 L564.9,87.8 L565.3,87.8 L565.6,87.8 L566.0,87.8 L566.3,87.8 L566.7,87.8 L567.0,87.8 L567.4,87.8 L567.7,98.9 L568.1,105.7 L568.4,111.4 L568.8,116.5 L569.1,120.1 L569.5,123.7 L569.8,126.4 L570.2,128.1 L570.5,129.8 L570.9,131.6 L571.2,133.3 L571.6,135.1 L571.9,136.5 L572.3,137.9 L572.6,139.2 L573.0,140.5 L573.3,141.2 L573.7,141.8 L573.7,154.3 L573.3,154.2 L573.0,153.6 L572.6,153.0 L572.3,152.5 L571.9,152.1 L571.6,151.6 L571.2,151.1 L570.9,150.7 L570.5,150.2 L570.2,149.8 L569.8,149.3 L569.5,148.8 L569.1,147.9 L568.8,147.0 L568.4,145.9 L568.1,144.7 L567.7,151.0 L567.4,151.0 L567.0,151.0 L566.7,151.0 L566.3,151.0 L566.0,151.0 L565.6,151.0 L565.3,151.0 L564.9,151.0 L564.6,151.0 L564.2,151.1 L563.9,151.2 L563.5,151.3 L563.2,151.4 L562.8,151.6 L562.5,151.9 L562.1,152.2 L561.8,152.6 L561.4,152.9 L561.1,153.2 L560.7,153.5 L560.4,153.6 L560.0,153.7 L559.7,153.7 L559.3,153.7 L559.0,153.8 L558.6,153.8 L558.3,153.8 L557.9,153.9 L557.6,153.9 L557.2,153.9 L556.9,154.0 L556.5,154.0 L556.2,154.4 L555.8,154.7 L555.5,155.0 L555.1,155.3 L554.8,155.6 L554.4,155.9 L554.1,156.1 L553.7,156.3 L553.4,156.5 L553.0,156.7 L552.7,156.9 L552.3,157.1 L552.0,157.3 L551.6,157.5 L551.3,157.7 L550.9,157.9 L550.6,158.0Z" fill="#3b80bb"/>
<path d="M550.6,145.9 L550.9,144.3 L551.3,142.7 L551.6,141.2 L552.0,139.9 L552.3,138.9 L552.7,137.9 L553.0,136.9 L553.4,136.4 L553.7,136.1 L554.1,135.9 L554.4,135.7 L554.8,135.2 L555.1,134.4 L555.5,133.6 L555.8,132.8 L556.2,132.1 L556.5,131.3 L556.9,130.8 L557.2,130.4 L557.6,129.9 L557.9,129.4 L558.3,129.0 L558.6,128.6 L559.0,128.4 L559.3,128.3 L559.7,128.1 L560.0,127.9 L560.4,127.8 L560.7,127.6 L561.1,127.5 L561.4,127.4 L561.8,127.2 L562.1,127.1 L562.5,126.9 L562.8,126.8 L563.2,126.8 L563.5,126.7 L563.9,126.6 L564.2,126.6 L564.6,98.3 L564.9,98.3 L565.3,98.3 L565.6,98.3 L566.0,98.3 L566.3,98.3 L566.7,98.3 L567.0,98.3 L567.4,98.3 L567.7,99.4 L568.1,106.2 L568.4,111.9 L568.8,117.0 L569.1,120.6 L569.5,124.2 L569.8,126.9 L570.2,128.6 L570.5,130.3 L570.9,132.1 L571.2,133.8 L571.6,135.6 L571.9,137.0 L572.3,138.4 L572.6,139.7 L573.0,141.0 L573.3,141.7 L573.7,142.3 L573.7,154.3 L573.3,154.2 L573.0,153.6 L572.6,153.0 L572.3,152.5 L571.9,152.1 L571.6,151.6 L571.2,151.1 L570.9,150.7 L570.5,150.2 L570.2,149.8 L569.8,149.3 L569.5,148.8 L569.1,147.9 L568.8,147.0 L568.4,145.9 L568.1,144.7 L567.7,151.0 L567.4,151.0 L567.0,151.0 L566.7,151.0 L566.3,151.0 L566.0,151.0 L565.6,151.0 L565.3,151.0 L564.9,151.0 L564.6,151.0 L564.2,151.1 L563.9,151.2 L563.5,151.3 L563.2,151.4 L562.8,151.6 L562.5,151.9 L562.1,152.2 L561.8,152.6 L561.4,152.9 L561.1,153.2 L560.7,153.5 L560.4,153.6 L560.0,153.7 L559.7,153.7 L559.3,153.7 L559.0,153.8 L558.6,153.8 L558.3,153.8 L557.9,153.9 L557.6,153.9 L557.2,153.9 L556.9,154.0 L556.5,154.0 L556.2,154.4 L555.8,154.7 L555.5,155.0 L555.1,155.3 L554.8,155.6 L554.4,155.9 L554.1,156.1 L553.7,156.3 L553.4,156.5 L553.0,156.7 L552.7,156.9 L552.3,157.1 L552.0,157.3 L551.6,157.5 L551.3,157.7 L550.9,157.9 L550.6,158.0Z" fill="#f08b35"/>
<path d="M550.6,146.2 L550.9,144.8 L551.3,143.5 L551.6,142.1 L552.0,141.2 L552.3,140.7 L552.7,140.2 L553.0,139.7 L553.4,139.3 L553.7,138.8 L554.1,138.3 L554.4,137.9 L554.8,137.5 L555.1,137.1 L555.5,136.8 L555.8,136.4 L556.2,136.0 L556.5,135.7 L556.9,135.5 L557.2,135.3 L557.6,135.1 L557.9,135.0 L558.3,134.8 L558.6,134.7 L559.0,134.6 L559.3,134.6 L559.7,134.5 L560.0,134.4 L560.4,134.3 L560.7,134.3 L561.1,134.2 L561.4,134.2 L561.8,134.1 L562.1,134.1 L562.5,134.1 L562.8,134.0 L563.2,134.0 L563.5,133.9 L563.9,133.9 L564.2,133.8 L564.6,115.3 L564.9,115.3 L565.3,115.3 L565.6,115.3 L566.0,115.3 L566.3,115.3 L566.7,115.3 L567.0,115.3 L567.4,115.3 L567.7,115.3 L568.1,115.3 L568.4,115.3 L568.8,117.6 L569.1,121.2 L569.5,124.8 L569.8,127.5 L570.2,129.2 L570.5,130.9 L570.9,132.7 L571.2,134.4 L571.6,136.2 L571.9,137.6 L572.3,139.0 L572.6,140.3 L573.0,141.6 L573.3,142.3 L573.7,142.9 L573.7,154.3 L573.3,154.2 L573.0,153.6 L572.6,153.0 L572.3,152.5 L571.9,152.1 L571.6,151.6 L571.2,151.1 L570.9,150.7 L570.5,150.2 L570.2,149.8 L569.8,149.3 L569.5,148.8 L569.1,147.9 L568.8,147.0 L568.4,145.9 L568.1,144.7 L567.7,151.0 L567.4,151.0 L567.0,151.0 L566.7,151.0 L566.3,151.0 L566.0,151.0 L565.6,151.0 L565.3,151.0 L564.9,151.0 L564.6,151.0 L564.2,151.1 L563.9,151.2 L563.5,151.3 L563.2,151.4 L562.8,151.6 L562.5,151.9 L562.1,152.2 L561.8,152.6 L561.4,152.9 L561.1,153.2 L560.7,153.5 L560.4,153.6 L560.0,153.7 L559.7,153.7 L559.3,153.7 L559.0,153.8 L558.6,153.8 L558.3,153.8 L557.9,153.9 L557.6,153.9 L557.2,153.9 L556.9,154.0 L556.5,154.0 L556.2,154.4 L555.8,154.7 L555.5,155.0 L555.1,155.3 L554.8,155.6 L554.4,155.9 L554.1,156.1 L553.7,156.3 L553.4,156.5 L553.0,156.7 L552.7,156.9 L552.3,157.1 L552.0,157.3 L551.6,157.5 L551.3,157.7 L550.9,157.9 L550.6,158.0Z" fill="#4aa84a"/>
<path d="M550.6,146.8 L550.9,146.6 L551.3,146.5 L551.6,146.4 L552.0,146.2 L552.3,146.1 L552.7,145.9 L553.0,145.7 L553.4,145.5 L553.7,145.3 L554.1,145.0 L554.4,144.8 L554.8,144.7 L555.1,144.6 L555.5,144.6 L555.8,144.5 L556.2,144.5 L556.5,144.4 L556.9,144.4 L557.2,144.3 L557.6,144.2 L557.9,144.2 L558.3,144.1 L558.6,144.1 L559.0,144.0 L559.3,144.0 L559.7,143.9 L560.0,143.9 L560.4,143.8 L560.7,143.8 L561.1,143.7 L561.4,143.6 L561.8,143.6 L562.1,143.5 L562.5,143.4 L562.8,143.3 L563.2,143.3 L563.5,143.2 L563.9,143.1 L564.2,143.1 L564.6,132.0 L564.9,132.0 L565.3,132.0 L565.6,132.0 L566.0,132.0 L566.3,132.0 L566.7,132.0 L567.0,132.0 L567.4,132.0 L567.7,132.4 L568.1,133.0 L568.4,133.6 L568.8,134.1 L569.1,134.7 L569.5,135.4 L569.8,136.1 L570.2,136.8 L570.5,137.5 L570.9,138.2 L571.2,138.9 L571.6,139.6 L571.9,140.9 L572.3,142.3 L572.6,143.7 L573.0,145.0 L573.3,145.5 L573.7,145.9 L573.7,154.3 L573.3,154.2 L573.0,153.6 L572.6,153.0 L572.3,152.5 L571.9,152.1 L571.6,151.6 L571.2,151.1 L570.9,150.7 L570.5,150.2 L570.2,149.8 L569.8,149.3 L569.5,148.8 L569.1,147.9 L568.8,147.0 L568.4,145.9 L568.1,144.7 L567.7,151.0 L567.4,151.0 L567.0,151.0 L566.7,151.0 L566.3,151.0 L566.0,151.0 L565.6,151.0 L565.3,151.0 L564.9,151.0 L564.6,151.0 L564.2,151.1 L563.9,151.2 L563.5,151.3 L563.2,151.4 L562.8,151.6 L562.5,151.9 L562.1,152.2 L561.8,152.6 L561.4,152.9 L561.1,153.2 L560.7,153.5 L560.4,153.6 L560.0,153.7 L559.7,153.7 L559.3,153.7 L559.0,153.8 L558.6,153.8 L558.3,153.8 L557.9,153.9 L557.6,153.9 L557.2,153.9 L556.9,154.0 L556.5,154.0 L556.2,154.4 L555.8,154.7 L555.5,155.0 L555.1,155.3 L554.8,155.6 L554.4,155.9 L554.1,156.1 L553.7,156.3 L553.4,156.5 L553.0,156.7 L552.7,156.9 L552.3,157.1 L552.0,157.3 L551.6,157.5 L551.3,157.7 L550.9,157.9 L550.6,158.0Z" fill="#c5402f"/>
<path d="M550.6,151.3 L550.9,151.1 L551.3,151.0 L551.6,150.9 L552.0,150.7 L552.3,150.6 L552.7,150.4 L553.0,150.2 L553.4,150.0 L553.7,149.8 L554.1,149.5 L554.4,149.3 L554.8,149.2 L555.1,149.1 L555.5,149.1 L555.8,149.0 L556.2,149.0 L556.5,148.9 L556.9,148.9 L557.2,148.8 L557.6,148.8 L557.9,148.7 L558.3,148.6 L558.6,148.6 L559.0,148.5 L559.3,148.5 L559.7,148.4 L560.0,148.4 L560.4,148.3 L560.7,148.3 L561.1,148.2 L561.4,148.1 L561.8,148.1 L562.1,148.0 L562.5,147.9 L562.8,147.8 L563.2,147.8 L563.5,147.7 L563.9,147.6 L564.2,147.6 L564.6,136.0 L564.9,136.0 L565.3,136.0 L565.6,136.0 L566.0,136.0 L566.3,136.0 L566.7,136.0 L567.0,136.0 L567.4,136.0 L567.7,136.4 L568.1,137.0 L568.4,137.6 L568.8,138.1 L569.1,138.7 L569.5,139.4 L569.8,140.1 L570.2,140.8 L570.5,141.5 L570.9,142.2 L571.2,142.9 L571.6,143.6 L571.9,144.9 L572.3,146.3 L572.6,147.7 L573.0,149.0 L573.3,149.5 L573.7,149.9 L573.7,154.3 L573.3,154.2 L573.0,153.6 L572.6,153.0 L572.3,152.5 L571.9,152.1 L571.6,151.6 L571.2,151.1 L570.9,150.7 L570.5,150.2 L570.2,149.8 L569.8,149.3 L569.5,148.8 L569.1,147.9 L568.8,147.0 L568.4,145.9 L568.1,144.7 L567.7,151.0 L567.4,151.0 L567.0,151.0 L566.7,151.0 L566.3,151.0 L566.0,151.0 L565.6,151.0 L565.3,151.0 L564.9,151.0 L564.6,151.0 L564.2,151.1 L563.9,151.2 L563.5,151.3 L563.2,151.4 L562.8,151.6 L562.5,151.9 L562.1,152.2 L561.8,152.6 L561.4,152.9 L561.1,153.2 L560.7,153.5 L560.4,153.6 L560.0,153.7 L559.7,153.7 L559.3,153.7 L559.0,153.8 L558.6,153.8 L558.3,153.8 L557.9,153.9 L557.6,153.9 L557.2,153.9 L556.9,154.0 L556.5,154.0 L556.2,154.4 L555.8,154.7 L555.5,155.0 L555.1,155.3 L554.8,155.6 L554.4,155.9 L554.1,156.1 L553.7,156.3 L553.4,156.5 L553.0,156.7 L552.7,156.9 L552.3,157.1 L552.0,157.3 L551.6,157.5 L551.3,157.7 L550.9,157.9 L550.6,158.0Z" fill="#dd5050"/>
<path d="M581.2,127.2 L581.6,126.6 L581.9,126.0 L582.3,125.5 L582.6,125.2 L583.0,125.0 L583.3,124.8 L583.7,124.5 L584.0,124.5 L584.4,124.5 L584.7,124.5 L585.1,124.6 L585.4,124.6 L585.8,124.6 L586.1,124.8 L586.5,124.9 L586.8,125.0 L587.2,125.1 L587.5,81.0 L587.9,81.0 L588.2,81.0 L588.6,81.0 L588.9,81.0 L589.3,81.0 L589.6,81.0 L590.0,84.6 L590.3,91.2 L590.7,98.9 L591.0,108.0 L591.4,113.2 L591.7,118.5 L592.1,120.8 L592.4,123.2 L592.8,125.0 L593.1,126.3 L593.5,127.5 L593.8,128.8 L594.2,129.8 L594.5,130.5 L594.9,131.3 L595.2,132.0 L595.6,132.7 L595.9,133.2 L596.3,133.6 L596.6,134.0 L597.0,134.4 L597.3,134.8 L597.7,135.0 L598.0,135.2 L598.4,135.4 L598.7,135.6 L599.1,135.8 L599.4,136.0 L599.8,136.1 L600.1,136.2 L600.5,136.3 L600.8,136.4 L601.2,136.5 L601.5,136.6 L601.9,136.7 L602.2,136.8 L602.6,136.9 L602.9,137.0 L603.3,137.0 L603.6,137.1 L603.6,154.5 L603.3,152.0 L602.9,151.8 L602.6,151.6 L602.2,151.4 L601.9,151.3 L601.5,151.1 L601.2,150.9 L600.8,150.7 L600.5,150.5 L600.1,150.4 L599.8,150.2 L599.4,150.0 L599.1,149.8 L598.7,149.6 L598.4,149.4 L598.0,149.2 L597.7,148.9 L597.3,148.7 L597.0,148.5 L596.6,148.3 L596.3,148.1 L595.9,147.9 L595.6,147.7 L595.2,147.5 L594.9,147.3 L594.5,147.1 L594.2,146.8 L593.8,146.4 L593.5,146.1 L593.1,145.8 L592.8,145.5 L592.4,145.1 L592.1,144.8 L591.7,144.5 L591.4,144.1 L591.0,143.7 L590.7,143.3 L590.3,142.9 L590.0,142.5 L589.6,153.8 L589.3,153.8 L588.9,153.8 L588.6,153.8 L588.2,153.8 L587.9,153.8 L587.5,153.8 L587.2,153.8 L586.8,153.8 L586.5,153.8 L586.1,153.9 L585.8,153.9 L585.4,153.9 L585.1,153.9 L584.7,153.9 L584.4,154.0 L584.0,154.0 L583.7,154.0 L583.3,154.2 L583.0,154.4 L582.6,154.6 L582.3,154.7 L581.9,154.9 L581.6,155.4 L581.2,156.2Z" fill="#3d334a"/>
<path d="M581.2,128.1 L581.6,127.5 L581.9,126.9 L582.3,126.3 L582.6,126.0 L583.0,125.8 L583.3,125.5 L583.7,125.2 L584.0,125.2 L584.4,125.3 L584.7,125.3 L585.1,125.3 L585.4,125.3 L585.8,125.4 L586.1,125.5 L586.5,125.7 L586.8,125.8 L587.2,125.9 L587.5,84.2 L587.9,84.2 L588.2,84.2 L588.6,84.2 L588.9,84.2 L589.3,84.2 L589.6,84.2 L590.0,85.1 L590.3,91.7 L590.7,99.4 L591.0,108.5 L591.4,113.7 L591.7,119.0 L592.1,121.3 L592.4,123.7 L592.8,125.5 L593.1,126.8 L593.5,128.0 L593.8,129.3 L594.2,130.3 L594.5,131.0 L594.9,131.8 L595.2,132.5 L595.6,133.2 L595.9,133.7 L596.3,134.1 L596.6,134.5 L597.0,134.9 L597.3,135.3 L597.7,135.5 L598.0,135.7 L598.4,135.9 L598.7,136.1 L599.1,136.3 L599.4,136.5 L599.8,136.6 L600.1,136.7 L600.5,136.8 L600.8,136.9 L601.2,137.0 L601.5,137.1 L601.9,137.2 L602.2,137.3 L602.6,137.4 L602.9,137.5 L603.3,137.5 L603.6,137.6 L603.6,154.5 L603.3,152.0 L602.9,151.8 L602.6,151.6 L602.2,151.4 L601.9,151.3 L601.5,151.1 L601.2,150.9 L600.8,150.7 L600.5,150.5 L600.1,150.4 L599.8,150.2 L599.4,150.0 L599.1,149.8 L598.7,149.6 L598.4,149.4 L598.0,149.2 L597.7,148.9 L597.3,148.7 L597.0,148.5 L596.6,148.3 L596.3,148.1 L595.9,147.9 L595.6,147.7 L595.2,147.5 L594.9,147.3 L594.5,147.1 L594.2,146.8 L593.8,146.4 L593.5,146.1 L593.1,145.8 L592.8,145.5 L592.4,145.1 L592.1,144.8 L591.7,144.5 L591.4,144.1 L591.0,143.7 L590.7,143.3 L590.3,142.9 L590.0,142.5 L589.6,153.8 L589.3,153.8 L588.9,153.8 L588.6,153.8 L588.2,153.8 L587.9,153.8 L587.5,153.8 L587.2,153.8 L586.8,153.8 L586.5,153.8 L586.1,153.9 L585.8,153.9 L585.4,153.9 L585.1,153.9 L584.7,153.9 L584.4,154.0 L584.0,154.0 L583.7,154.0 L583.3,154.2 L583.0,154.4 L582.6,154.6 L582.3,154.7 L581.9,154.9 L581.6,155.4 L581.2,156.2Z" fill="#3b80bb"/>
<path d="M581.2,130.6 L581.6,130.6 L581.9,130.6 L582.3,130.6 L582.6,130.6 L583.0,130.6 L583.3,130.6 L583.7,130.6 L584.0,130.6 L584.4,130.6 L584.7,130.6 L585.1,130.6 L585.4,130.6 L585.8,130.6 L586.1,130.6 L586.5,130.6 L586.8,130.6 L587.2,130.6 L587.5,95.7 L587.9,95.7 L588.2,95.7 L588.6,95.7 L588.9,95.7 L589.3,95.7 L589.6,95.7 L590.0,95.7 L590.3,95.7 L590.7,99.9 L591.0,109.0 L591.4,114.2 L591.7,119.5 L592.1,121.8 L592.4,124.2 L592.8,126.0 L593.1,127.3 L593.5,128.5 L593.8,129.8 L594.2,130.8 L594.5,131.5 L594.9,132.3 L595.2,133.0 L595.6,133.7 L595.9,134.2 L596.3,134.6 L596.6,135.0 L597.0,135.4 L597.3,135.8 L597.7,136.0 L598.0,136.2 L598.4,136.4 L598.7,136.6 L599.1,136.8 L599.4,137.0 L599.8,137.1 L600.1,137.2 L600.5,137.3 L600.8,137.4 L601.2,137.5 L601.5,137.6 L601.9,137.7 L602.2,137.8 L602.6,137.9 L602.9,138.0 L603.3,138.0 L603.6,138.1 L603.6,154.5 L603.3,152.0 L602.9,151.8 L602.6,151.6 L602.2,151.4 L601.9,151.3 L601.5,151.1 L601.2,150.9 L600.8,150.7 L600.5,150.5 L600.1,150.4 L599.8,150.2 L599.4,150.0 L599.1,149.8 L598.7,149.6 L598.4,149.4 L598.0,149.2 L597.7,148.9 L597.3,148.7 L597.0,148.5 L596.6,148.3 L596.3,148.1 L595.9,147.9 L595.6,147.7 L595.2,147.5 L594.9,147.3 L594.5,147.1 L594.2,146.8 L593.8,146.4 L593.5,146.1 L593.1,145.8 L592.8,145.5 L592.4,145.1 L592.1,144.8 L591.7,144.5 L591.4,144.1 L591.0,143.7 L590.7,143.3 L590.3,142.9 L590.0,142.5 L589.6,153.8 L589.3,153.8 L588.9,153.8 L588.6,153.8 L588.2,153.8 L587.9,153.8 L587.5,153.8 L587.2,153.8 L586.8,153.8 L586.5,153.8 L586.1,153.9 L585.8,153.9 L585.4,153.9 L585.1,153.9 L584.7,153.9 L584.4,154.0 L584.0,154.0 L583.7,154.0 L583.3,154.2 L583.0,154.4 L582.6,154.6 L582.3,154.7 L581.9,154.9 L581.6,155.4 L581.2,156.2Z" fill="#f08b35"/>
<path d="M581.2,137.9 L581.6,137.9 L581.9,137.9 L582.3,137.9 L582.6,137.9 L583.0,137.9 L583.3,137.9 L583.7,137.9 L584.0,137.9 L584.4,137.9 L584.7,137.9 L585.1,137.9 L585.4,137.9 L585.8,137.9 L586.1,137.9 L586.5,137.9 L586.8,137.9 L587.2,137.9 L587.5,110.7 L587.9,110.7 L588.2,110.7 L588.6,110.7 L588.9,110.7 L589.3,110.7 L589.6,110.7 L590.0,110.7 L590.3,110.7 L590.7,110.7 L591.0,110.7 L591.4,114.8 L591.7,120.1 L592.1,122.4 L592.4,124.8 L592.8,126.6 L593.1,127.9 L593.5,129.1 L593.8,130.4 L594.2,131.4 L594.5,132.1 L594.9,132.9 L595.2,133.6 L595.6,134.3 L595.9,134.8 L596.3,135.2 L596.6,135.6 L597.0,136.0 L597.3,136.4 L597.7,136.6 L598.0,136.8 L598.4,137.0 L598.7,137.2 L599.1,137.4 L599.4,137.6 L599.8,137.7 L600.1,137.8 L600.5,137.9 L600.8,138.0 L601.2,138.1 L601.5,138.2 L601.9,138.3 L602.2,138.4 L602.6,138.5 L602.9,138.6 L603.3,138.6 L603.6,138.7 L603.6,154.5 L603.3,152.0 L602.9,151.8 L602.6,151.6 L602.2,151.4 L601.9,151.3 L601.5,151.1 L601.2,150.9 L600.8,150.7 L600.5,150.5 L600.1,150.4 L599.8,150.2 L599.4,150.0 L599.1,149.8 L598.7,149.6 L598.4,149.4 L598.0,149.2 L597.7,148.9 L597.3,148.7 L597.0,148.5 L596.6,148.3 L596.3,148.1 L595.9,147.9 L595.6,147.7 L595.2,147.5 L594.9,147.3 L594.5,147.1 L594.2,146.8 L593.8,146.4 L593.5,146.1 L593.1,145.8 L592.8,145.5 L592.4,145.1 L592.1,144.8 L591.7,144.5 L591.4,144.1 L591.0,143.7 L590.7,143.3 L590.3,142.9 L590.0,142.5 L589.6,153.8 L589.3,153.8 L588.9,153.8 L588.6,153.8 L588.2,153.8 L587.9,153.8 L587.5,153.8 L587.2,153.8 L586.8,153.8 L586.5,153.8 L586.1,153.9 L585.8,153.9 L585.4,153.9 L585.1,153.9 L584.7,153.9 L584.4,154.0 L584.0,154.0 L583.7,154.0 L583.3,154.2 L583.0,154.4 L582.6,154.6 L582.3,154.7 L581.9,154.9 L581.6,155.4 L581.2,156.2Z" fill="#4aa84a"/>
<path d="M581.2,145.5 L581.6,145.5 L581.9,145.5 L582.3,145.5 L582.6,145.5 L583.0,145.5 L583.3,145.5 L583.7,145.5 L584.0,145.5 L584.4,145.5 L584.7,145.5 L585.1,145.5 L585.4,145.5 L585.8,145.5 L586.1,145.5 L586.5,145.5 L586.8,145.5 L587.2,145.5 L587.5,132.6 L587.9,132.6 L588.2,132.6 L588.6,132.6 L588.9,132.6 L589.3,132.6 L589.6,132.6 L590.0,132.6 L590.3,132.6 L590.7,133.1 L591.0,133.7 L591.4,134.4 L591.7,135.1 L592.1,135.7 L592.4,136.5 L592.8,137.2 L593.1,138.0 L593.5,138.8 L593.8,139.6 L594.2,140.4 L594.5,141.1 L594.9,141.3 L595.2,141.5 L595.6,141.7 L595.9,141.9 L596.3,142.1 L596.6,142.3 L597.0,142.5 L597.3,142.7 L597.7,142.9 L598.0,143.2 L598.4,143.4 L598.7,143.6 L599.1,143.8 L599.4,144.0 L599.8,144.1 L600.1,144.1 L600.5,144.2 L600.8,144.2 L601.2,144.3 L601.5,144.4 L601.9,144.4 L602.2,144.5 L602.6,144.5 L602.9,144.6 L603.3,144.7 L603.6,144.7 L603.6,154.5 L603.3,152.0 L602.9,151.8 L602.6,151.6 L602.2,151.4 L601.9,151.3 L601.5,151.1 L601.2,150.9 L600.8,150.7 L600.5,150.5 L600.1,150.4 L599.8,150.2 L599.4,150.0 L599.1,149.8 L598.7,149.6 L598.4,149.4 L598.0,149.2 L597.7,148.9 L597.3,148.7 L597.0,148.5 L596.6,148.3 L596.3,148.1 L595.9,147.9 L595.6,147.7 L595.2,147.5 L594.9,147.3 L594.5,147.1 L594.2,146.8 L593.8,146.4 L593.5,146.1 L593.1,145.8 L592.8,145.5 L592.4,145.1 L592.1,144.8 L591.7,144.5 L591.4,144.1 L591.0,143.7 L590.7,143.3 L590.3,142.9 L590.0,142.5 L589.6,153.8 L589.3,153.8 L588.9,153.8 L588.6,153.8 L588.2,153.8 L587.9,153.8 L587.5,153.8 L587.2,153.8 L586.8,153.8 L586.5,153.8 L586.1,153.9 L585.8,153.9 L585.4,153.9 L585.1,153.9 L584.7,153.9 L584.4,154.0 L584.0,154.0 L583.7,154.0 L583.3,154.2 L583.0,154.4 L582.6,154.6 L582.3,154.7 L581.9,154.9 L581.6,155.4 L581.2,156.2Z" fill="#c5402f"/>
<path d="M581.2,147.0 L581.6,147.0 L581.9,147.0 L582.3,147.0 L582.6,147.0 L583.0,147.0 L583.3,147.0 L583.7,147.0 L584.0,147.0 L584.4,147.0 L584.7,147.0 L585.1,147.0 L585.4,147.0 L585.8,147.0 L586.1,147.0 L586.5,147.0 L586.8,147.0 L587.2,147.0 L587.5,136.6 L587.9,136.6 L588.2,136.6 L588.6,136.6 L588.9,136.6 L589.3,136.6 L589.6,136.6 L590.0,136.6 L590.3,136.6 L590.7,137.1 L591.0,137.7 L591.4,138.4 L591.7,139.1 L592.1,139.7 L592.4,140.5 L592.8,141.2 L593.1,142.0 L593.5,142.8 L593.8,143.6 L594.2,144.4 L594.5,145.1 L594.9,145.3 L595.2,145.5 L595.6,145.7 L595.9,145.9 L596.3,146.1 L596.6,146.3 L597.0,146.5 L597.3,146.7 L597.7,146.9 L598.0,147.2 L598.4,147.4 L598.7,147.6 L599.1,147.8 L599.4,148.0 L599.8,148.1 L600.1,148.1 L600.5,148.2 L600.8,148.2 L601.2,148.3 L601.5,148.4 L601.9,148.4 L602.2,148.5 L602.6,148.5 L602.9,148.6 L603.3,148.7 L603.6,148.7 L603.6,154.5 L603.3,152.0 L602.9,151.8 L602.6,151.6 L602.2,151.4 L601.9,151.3 L601.5,151.1 L601.2,150.9 L600.8,150.7 L600.5,150.5 L600.1,150.4 L599.8,150.2 L599.4,150.0 L599.1,149.8 L598.7,149.6 L598.4,149.4 L598.0,149.2 L597.7,148.9 L597.3,148.7 L597.0,148.5 L596.6,148.3 L596.3,148.1 L595.9,147.9 L595.6,147.7 L595.2,147.5 L594.9,147.3 L594.5,147.1 L594.2,146.8 L593.8,146.4 L593.5,146.1 L593.1,145.8 L592.8,145.5 L592.4,145.1 L592.1,144.8 L591.7,144.5 L591.4,144.1 L591.0,143.7 L590.7,143.3 L590.3,142.9 L590.0,142.5 L589.6,153.8 L589.3,153.8 L588.9,153.8 L588.6,153.8 L588.2,153.8 L587.9,153.8 L587.5,153.8 L587.2,153.8 L586.8,153.8 L586.5,153.8 L586.1,153.9 L585.8,153.9 L585.4,153.9 L585.1,153.9 L584.7,153.9 L584.4,154.0 L584.0,154.0 L583.7,154.0 L583.3,154.2 L583.0,154.4 L582.6,154.6 L582.3,154.7 L581.9,154.9 L581.6,155.4 L581.2,156.2Z" fill="#dd5050"/>
<path d="M611.1,145.5 L611.5,143.9 L611.8,142.3 L612.1,140.7 L612.5,139.3 L612.9,138.0 L613.2,136.8 L613.5,135.5 L613.9,134.6 L614.2,134.0 L614.6,133.4 L615.0,132.8 L615.3,131.9 L615.6,131.0 L616.0,130.0 L616.4,128.4 L616.7,126.8 L617.0,125.1 L617.4,124.6 L617.8,124.2 L618.1,123.8 L618.5,124.0 L618.8,124.1 L619.1,124.3 L619.5,123.9 L619.9,123.6 L620.2,123.3 L620.5,123.0 L620.9,122.7 L621.2,122.3 L621.6,121.8 L622.0,121.4 L622.3,120.9 L622.6,120.5 L623.0,120.0 L623.4,119.8 L623.7,119.8 L624.0,119.7 L624.4,119.6 L624.8,119.6 L625.1,83.9 L625.5,83.9 L625.8,83.9 L626.1,83.9 L626.5,83.9 L626.9,83.9 L627.2,83.9 L627.5,83.9 L627.9,83.9 L628.2,98.4 L628.6,105.2 L629.0,110.9 L629.3,116.0 L629.6,119.6 L630.0,123.2 L630.4,125.9 L630.7,127.6 L631.0,129.3 L631.4,131.1 L631.8,132.8 L632.1,134.6 L632.5,136.0 L632.8,137.4 L633.1,138.7 L633.5,140.0 L633.9,140.7 L634.2,141.3 L634.2,154.3 L633.9,154.2 L633.5,153.6 L633.1,153.0 L632.8,152.5 L632.5,152.1 L632.1,151.6 L631.8,151.1 L631.4,150.7 L631.0,150.2 L630.7,149.8 L630.4,149.3 L630.0,148.8 L629.6,147.9 L629.3,147.0 L629.0,145.9 L628.6,144.7 L628.2,151.0 L627.9,151.0 L627.5,151.0 L627.2,151.0 L626.9,151.0 L626.5,151.0 L626.1,151.0 L625.8,151.0 L625.5,151.0 L625.1,151.0 L624.8,151.1 L624.4,151.2 L624.0,151.3 L623.7,151.4 L623.4,151.6 L623.0,151.9 L622.6,152.2 L622.3,152.6 L622.0,152.9 L621.6,153.2 L621.2,153.5 L620.9,153.6 L620.5,153.7 L620.2,153.7 L619.9,153.7 L619.5,153.8 L619.1,153.8 L618.8,153.8 L618.5,153.9 L618.1,153.9 L617.8,153.9 L617.4,154.0 L617.0,154.0 L616.7,154.4 L616.4,154.7 L616.0,155.0 L615.6,155.3 L615.3,155.6 L615.0,155.9 L614.6,156.1 L614.2,156.3 L613.9,156.5 L613.5,156.7 L613.2,156.9 L612.9,157.1 L612.5,157.3 L612.1,157.5 L611.8,157.7 L611.5,157.9 L611.1,158.0Z" fill="#3d334a"/>
<path d="M611.1,145.8 L611.5,144.2 L611.8,142.6 L612.1,141.0 L612.5,139.6 L612.9,138.4 L613.2,137.1 L613.5,135.9 L613.9,135.0 L614.2,134.4 L614.6,133.8 L615.0,133.2 L615.3,132.4 L615.6,131.4 L616.0,130.4 L616.4,128.8 L616.7,127.2 L617.0,125.6 L617.4,125.0 L617.8,124.7 L618.1,124.3 L618.5,124.5 L618.8,124.6 L619.1,124.8 L619.5,124.5 L619.9,124.3 L620.2,124.0 L620.5,123.8 L620.9,123.5 L621.2,123.2 L621.6,122.8 L622.0,122.4 L622.3,122.0 L622.6,121.6 L623.0,121.2 L623.4,121.1 L623.7,121.1 L624.0,121.0 L624.4,120.9 L624.8,120.9 L625.1,87.8 L625.5,87.8 L625.8,87.8 L626.1,87.8 L626.5,87.8 L626.9,87.8 L627.2,87.8 L627.5,87.8 L627.9,87.8 L628.2,98.9 L628.6,105.7 L629.0,111.4 L629.3,116.5 L629.6,120.1 L630.0,123.7 L630.4,126.4 L630.7,128.1 L631.0,129.8 L631.4,131.6 L631.8,133.3 L632.1,135.1 L632.5,136.5 L632.8,137.9 L633.1,139.2 L633.5,140.5 L633.9,141.2 L634.2,141.8 L634.2,154.3 L633.9,154.2 L633.5,153.6 L633.1,153.0 L632.8,152.5 L632.5,152.1 L632.1,151.6 L631.8,151.1 L631.4,150.7 L631.0,150.2 L630.7,149.8 L630.4,149.3 L630.0,148.8 L629.6,147.9 L629.3,147.0 L629.0,145.9 L628.6,144.7 L628.2,151.0 L627.9,151.0 L627.5,151.0 L627.2,151.0 L626.9,151.0 L626.5,151.0 L626.1,151.0 L625.8,151.0 L625.5,151.0 L625.1,151.0 L624.8,151.1 L624.4,151.2 L624.0,151.3 L623.7,151.4 L623.4,151.6 L623.0,151.9 L622.6,152.2 L622.3,152.6 L622.0,152.9 L621.6,153.2 L621.2,153.5 L620.9,153.6 L620.5,153.7 L620.2,153.7 L619.9,153.7 L619.5,153.8 L619.1,153.8 L618.8,153.8 L618.5,153.9 L618.1,153.9 L617.8,153.9 L617.4,154.0 L617.0,154.0 L616.7,154.4 L616.4,154.7 L616.0,155.0 L615.6,155.3 L615.3,155.6 L615.0,155.9 L614.6,156.1 L614.2,156.3 L613.9,156.5 L613.5,156.7 L613.2,156.9 L612.9,157.1 L612.5,157.3 L612.1,157.5 L611.8,157.7 L611.5,157.9 L611.1,158.0Z" fill="#3b80bb"/>
<path d="M611.1,145.9 L611.5,144.3 L611.8,142.7 L612.1,141.2 L612.5,139.9 L612.9,138.9 L613.2,137.9 L613.5,136.9 L613.9,136.4 L614.2,136.1 L614.6,135.9 L615.0,135.7 L615.3,135.2 L615.6,134.4 L616.0,133.6 L616.4,132.8 L616.7,132.1 L617.0,131.3 L617.4,130.8 L617.8,130.4 L618.1,129.9 L618.5,129.4 L618.8,129.0 L619.1,128.6 L619.5,128.4 L619.9,128.3 L620.2,128.1 L620.5,127.9 L620.9,127.8 L621.2,127.6 L621.6,127.5 L622.0,127.4 L622.3,127.2 L622.6,127.1 L623.0,126.9 L623.4,126.8 L623.7,126.8 L624.0,126.7 L624.4,126.6 L624.8,126.6 L625.1,98.3 L625.5,98.3 L625.8,98.3 L626.1,98.3 L626.5,98.3 L626.9,98.3 L627.2,98.3 L627.5,98.3 L627.9,98.3 L628.2,99.4 L628.6,106.2 L629.0,111.9 L629.3,117.0 L629.6,120.6 L630.0,124.2 L630.4,126.9 L630.7,128.6 L631.0,130.3 L631.4,132.1 L631.8,133.8 L632.1,135.6 L632.5,137.0 L632.8,138.4 L633.1,139.7 L633.5,141.0 L633.9,141.7 L634.2,142.3 L634.2,154.3 L633.9,154.2 L633.5,153.6 L633.1,153.0 L632.8,152.5 L632.5,152.1 L632.1,151.6 L631.8,151.1 L631.4,150.7 L631.0,150.2 L630.7,149.8 L630.4,149.3 L630.0,148.8 L629.6,147.9 L629.3,147.0 L629.0,145.9 L628.6,144.7 L628.2,151.0 L627.9,151.0 L627.5,151.0 L627.2,151.0 L626.9,151.0 L626.5,151.0 L626.1,151.0 L625.8,151.0 L625.5,151.0 L625.1,151.0 L624.8,151.1 L624.4,151.2 L624.0,151.3 L623.7,151.4 L623.4,151.6 L623.0,151.9 L622.6,152.2 L622.3,152.6 L622.0,152.9 L621.6,153.2 L621.2,153.5 L620.9,153.6 L620.5,153.7 L620.2,153.7 L619.9,153.7 L619.5,153.8 L619.1,153.8 L618.8,153.8 L618.5,153.9 L618.1,153.9 L617.8,153.9 L617.4,154.0 L617.0,154.0 L616.7,154.4 L616.4,154.7 L616.0,155.0 L615.6,155.3 L615.3,155.6 L615.0,155.9 L614.6,156.1 L614.2,156.3 L613.9,156.5 L613.5,156.7 L613.2,156.9 L612.9,157.1 L612.5,157.3 L612.1,157.5 L611.8,157.7 L611.5,157.9 L611.1,158.0Z" fill="#f08b35"/>
<path d="M611.1,146.2 L611.5,144.8 L611.8,143.5 L612.1,142.1 L612.5,141.2 L612.9,140.7 L613.2,140.2 L613.5,139.7 L613.9,139.3 L614.2,138.8 L614.6,138.3 L615.0,137.9 L615.3,137.5 L615.6,137.1 L616.0,136.8 L616.4,136.4 L616.7,136.0 L617.0,135.7 L617.4,135.5 L617.8,135.3 L618.1,135.1 L618.5,135.0 L618.8,134.8 L619.1,134.7 L619.5,134.6 L619.9,134.6 L620.2,134.5 L620.5,134.4 L620.9,134.3 L621.2,134.3 L621.6,134.2 L622.0,134.2 L622.3,134.1 L622.6,134.1 L623.0,134.1 L623.4,134.0 L623.7,134.0 L624.0,133.9 L624.4,133.9 L624.8,133.8 L625.1,115.3 L625.5,115.3 L625.8,115.3 L626.1,115.3 L626.5,115.3 L626.9,115.3 L627.2,115.3 L627.5,115.3 L627.9,115.3 L628.2,115.3 L628.6,115.3 L629.0,115.3 L629.3,117.6 L629.6,121.2 L630.0,124.8 L630.4,127.5 L630.7,129.2 L631.0,130.9 L631.4,132.7 L631.8,134.4 L632.1,136.2 L632.5,137.6 L632.8,139.0 L633.1,140.3 L633.5,141.6 L633.9,142.3 L634.2,142.9 L634.2,154.3 L633.9,154.2 L633.5,153.6 L633.1,153.0 L632.8,152.5 L632.5,152.1 L632.1,151.6 L631.8,151.1 L631.4,150.7 L631.0,150.2 L630.7,149.8 L630.4,149.3 L630.0,148.8 L629.6,147.9 L629.3,147.0 L629.0,145.9 L628.6,144.7 L628.2,151.0 L627.9,151.0 L627.5,151.0 L627.2,151.0 L626.9,151.0 L626.5,151.0 L626.1,151.0 L625.8,151.0 L625.5,151.0 L625.1,151.0 L624.8,151.1 L624.4,151.2 L624.0,151.3 L623.7,151.4 L623.4,151.6 L623.0,151.9 L622.6,152.2 L622.3,152.6 L622.0,152.9 L621.6,153.2 L621.2,153.5 L620.9,153.6 L620.5,153.7 L620.2,153.7 L619.9,153.7 L619.5,153.8 L619.1,153.8 L618.8,153.8 L618.5,153.9 L618.1,153.9 L617.8,153.9 L617.4,154.0 L617.0,154.0 L616.7,154.4 L616.4,154.7 L616.0,155.0 L615.6,155.3 L615.3,155.6 L615.0,155.9 L614.6,156.1 L614.2,156.3 L613.9,156.5 L613.5,156.7 L613.2,156.9 L612.9,157.1 L612.5,157.3 L612.1,157.5 L611.8,157.7 L611.5,157.9 L611.1,158.0Z" fill="#4aa84a"/>
<path d="M611.1,146.8 L611.5,146.6 L611.8,146.5 L612.1,146.4 L612.5,146.2 L612.9,146.1 L613.2,145.9 L613.5,145.7 L613.9,145.5 L614.2,145.3 L614.6,145.0 L615.0,144.8 L615.3,144.7 L615.6,144.6 L616.0,144.6 L616.4,144.5 L616.7,144.5 L617.0,144.4 L617.4,144.4 L617.8,144.3 L618.1,144.2 L618.5,144.2 L618.8,144.1 L619.1,144.1 L619.5,144.0 L619.9,144.0 L620.2,143.9 L620.5,143.9 L620.9,143.8 L621.2,143.8 L621.6,143.7 L622.0,143.6 L622.3,143.6 L622.6,143.5 L623.0,143.4 L623.4,143.3 L623.7,143.3 L624.0,143.2 L624.4,143.1 L624.8,143.1 L625.1,132.0 L625.5,132.0 L625.8,132.0 L626.1,132.0 L626.5,132.0 L626.9,132.0 L627.2,132.0 L627.5,132.0 L627.9,132.0 L628.2,132.4 L628.6,133.0 L629.0,133.6 L629.3,134.1 L629.6,134.7 L630.0,135.4 L630.4,136.1 L630.7,136.8 L631.0,137.5 L631.4,138.2 L631.8,138.9 L632.1,139.6 L632.5,140.9 L632.8,142.3 L633.1,143.7 L633.5,145.0 L633.9,145.5 L634.2,145.9 L634.2,154.3 L633.9,154.2 L633.5,153.6 L633.1,153.0 L632.8,152.5 L632.5,152.1 L632.1,151.6 L631.8,151.1 L631.4,150.7 L631.0,150.2 L630.7,149.8 L630.4,149.3 L630.0,148.8 L629.6,147.9 L629.3,147.0 L629.0,145.9 L628.6,144.7 L628.2,151.0 L627.9,151.0 L627.5,151.0 L627.2,151.0 L626.9,151.0 L626.5,151.0 L626.1,151.0 L625.8,151.0 L625.5,151.0 L625.1,151.0 L624.8,151.1 L624.4,151.2 L624.0,151.3 L623.7,151.4 L623.4,151.6 L623.0,151.9 L622.6,152.2 L622.3,152.6 L622.0,152.9 L621.6,153.2 L621.2,153.5 L620.9,153.6 L620.5,153.7 L620.2,153.7 L619.9,153.7 L619.5,153.8 L619.1,153.8 L618.8,153.8 L618.5,153.9 L618.1,153.9 L617.8,153.9 L617.4,154.0 L617.0,154.0 L616.7,154.4 L616.4,154.7 L616.0,155.0 L615.6,155.3 L615.3,155.6 L615.0,155.9 L614.6,156.1 L614.2,156.3 L613.9,156.5 L613.5,156.7 L613.2,156.9 L612.9,157.1 L612.5,157.3 L612.1,157.5 L611.8,157.7 L611.5,157.9 L611.1,158.0Z" fill="#c5402f"/>
<path d="M611.1,151.3 L611.5,151.1 L611.8,151.0 L612.1,150.9 L612.5,150.7 L612.9,150.6 L613.2,150.4 L613.5,150.2 L613.9,150.0 L614.2,149.8 L614.6,149.5 L615.0,149.3 L615.3,149.2 L615.6,149.1 L616.0,149.1 L616.4,149.0 L616.7,149.0 L617.0,148.9 L617.4,148.9 L617.8,148.8 L618.1,148.8 L618.5,148.7 L618.8,148.6 L619.1,148.6 L619.5,148.5 L619.9,148.5 L620.2,148.4 L620.5,148.4 L620.9,148.3 L621.2,148.3 L621.6,148.2 L622.0,148.1 L622.3,148.1 L622.6,148.0 L623.0,147.9 L623.4,147.8 L623.7,147.8 L624.0,147.7 L624.4,147.6 L624.8,147.6 L625.1,136.0 L625.5,136.0 L625.8,136.0 L626.1,136.0 L626.5,136.0 L626.9,136.0 L627.2,136.0 L627.5,136.0 L627.9,136.0 L628.2,136.4 L628.6,137.0 L629.0,137.6 L629.3,138.1 L629.6,138.7 L630.0,139.4 L630.4,140.1 L630.7,140.8 L631.0,141.5 L631.4,142.2 L631.8,142.9 L632.1,143.6 L632.5,144.9 L632.8,146.3 L633.1,147.7 L633.5,149.0 L633.9,149.5 L634.2,149.9 L634.2,154.3 L633.9,154.2 L633.5,153.6 L633.1,153.0 L632.8,152.5 L632.5,152.1 L632.1,151.6 L631.8,151.1 L631.4,150.7 L631.0,150.2 L630.7,149.8 L630.4,149.3 L630.0,148.8 L629.6,147.9 L629.3,147.0 L629.0,145.9 L628.6,144.7 L628.2,151.0 L627.9,151.0 L627.5,151.0 L627.2,151.0 L626.9,151.0 L626.5,151.0 L626.1,151.0 L625.8,151.0 L625.5,151.0 L625.1,151.0 L624.8,151.1 L624.4,151.2 L624.0,151.3 L623.7,151.4 L623.4,151.6 L623.0,151.9 L622.6,152.2 L622.3,152.6 L622.0,152.9 L621.6,153.2 L621.2,153.5 L620.9,153.6 L620.5,153.7 L620.2,153.7 L619.9,153.7 L619.5,153.8 L619.1,153.8 L618.8,153.8 L618.5,153.9 L618.1,153.9 L617.8,153.9 L617.4,154.0 L617.0,154.0 L616.7,154.4 L616.4,154.7 L616.0,155.0 L615.6,155.3 L615.3,155.6 L615.0,155.9 L614.6,156.1 L614.2,156.3 L613.9,156.5 L613.5,156.7 L613.2,156.9 L612.9,157.1 L612.5,157.3 L612.1,157.5 L611.8,157.7 L611.5,157.9 L611.1,158.0Z" fill="#dd5050"/>
<path d="M641.8,127.2 L642.1,126.6 L642.5,126.0 L642.8,125.5 L643.2,125.2 L643.5,125.0 L643.9,124.8 L644.2,124.5 L644.6,124.5 L644.9,124.5 L645.3,124.5 L645.6,124.6 L646.0,124.6 L646.3,124.6 L646.7,124.8 L647.0,124.9 L647.4,125.0 L647.7,125.1 L648.1,81.0 L648.4,81.0 L648.8,81.0 L649.1,81.0 L649.5,81.0 L649.8,81.0 L650.2,81.0 L650.5,84.6 L650.9,91.2 L651.2,98.9 L651.6,108.0 L651.9,113.2 L652.3,118.5 L652.6,120.8 L653.0,123.2 L653.3,125.0 L653.7,126.3 L654.0,127.5 L654.4,128.8 L654.7,129.8 L655.1,130.5 L655.4,131.3 L655.8,132.0 L656.1,132.7 L656.5,133.2 L656.8,133.6 L657.2,134.0 L657.5,134.4 L657.9,134.8 L658.2,135.0 L658.6,135.2 L658.9,135.4 L659.3,135.6 L659.6,135.8 L660.0,136.0 L660.3,136.1 L660.7,136.2 L661.0,136.3 L661.4,136.4 L661.7,136.5 L662.1,136.6 L662.4,136.7 L662.8,136.8 L663.1,136.9 L663.5,137.0 L663.8,137.0 L664.2,137.1 L664.2,154.5 L663.8,152.0 L663.5,151.8 L663.1,151.6 L662.8,151.4 L662.4,151.3 L662.1,151.1 L661.7,150.9 L661.4,150.7 L661.0,150.5 L660.7,150.4 L660.3,150.2 L660.0,150.0 L659.6,149.8 L659.3,149.6 L658.9,149.4 L658.6,149.2 L658.2,148.9 L657.9,148.7 L657.5,148.5 L657.2,148.3 L656.8,148.1 L656.5,147.9 L656.1,147.7 L655.8,147.5 L655.4,147.3 L655.1,147.1 L654.7,146.8 L654.4,146.4 L654.0,146.1 L653.7,145.8 L653.3,145.5 L653.0,145.1 L652.6,144.8 L652.3,144.5 L651.9,144.1 L651.6,143.7 L651.2,143.3 L650.9,142.9 L650.5,142.5 L650.2,153.8 L649.8,153.8 L649.5,153.8 L649.1,153.8 L648.8,153.8 L648.4,153.8 L648.1,153.8 L647.7,153.8 L647.4,153.8 L647.0,153.8 L646.7,153.9 L646.3,153.9 L646.0,153.9 L645.6,153.9 L645.3,153.9 L644.9,154.0 L644.6,154.0 L644.2,154.0 L643.9,154.2 L643.5,154.4 L643.2,154.6 L642.8,154.7 L642.5,154.9 L642.1,155.4 L641.8,156.2Z" fill="#3d334a"/>
<path d="M641.8,128.1 L642.1,127.5 L642.5,126.9 L642.8,126.3 L643.2,126.0 L643.5,125.8 L643.9,125.5 L644.2,125.2 L644.6,125.2 L644.9,125.3 L645.3,125.3 L645.6,125.3 L646.0,125.3 L646.3,125.4 L646.7,125.5 L647.0,125.7 L647.4,125.8 L647.7,125.9 L648.1,84.2 L648.4,84.2 L648.8,84.2 L649.1,84.2 L649.5,84.2 L649.8,84.2 L650.2,84.2 L650.5,85.1 L650.9,91.7 L651.2,99.4 L651.6,108.5 L651.9,113.7 L652.3,119.0 L652.6,121.3 L653.0,123.7 L653.3,125.5 L653.7,126.8 L654.0,128.0 L654.4,129.3 L654.7,130.3 L655.1,131.0 L655.4,131.8 L655.8,132.5 L656.1,133.2 L656.5,133.7 L656.8,134.1 L657.2,134.5 L657.5,134.9 L657.9,135.3 L658.2,135.5 L658.6,135.7 L658.9,135.9 L659.3,136.1 L659.6,136.3 L660.0,136.5 L660.3,136.6 L660.7,136.7 L661.0,136.8 L661.4,136.9 L661.7,137.0 L662.1,137.1 L662.4,137.2 L662.8,137.3 L663.1,137.4 L663.5,137.5 L663.8,137.5 L664.2,137.6 L664.2,154.5 L663.8,152.0 L663.5,151.8 L663.1,151.6 L662.8,151.4 L662.4,151.3 L662.1,151.1 L661.7,150.9 L661.4,150.7 L661.0,150.5 L660.7,150.4 L660.3,150.2 L660.0,150.0 L659.6,149.8 L659.3,149.6 L658.9,149.4 L658.6,149.2 L658.2,148.9 L657.9,148.7 L657.5,148.5 L657.2,148.3 L656.8,148.1 L656.5,147.9 L656.1,147.7 L655.8,147.5 L655.4,147.3 L655.1,147.1 L654.7,146.8 L654.4,146.4 L654.0,146.1 L653.7,145.8 L653.3,145.5 L653.0,145.1 L652.6,144.8 L652.3,144.5 L651.9,144.1 L651.6,143.7 L651.2,143.3 L650.9,142.9 L650.5,142.5 L650.2,153.8 L649.8,153.8 L649.5,153.8 L649.1,153.8 L648.8,153.8 L648.4,153.8 L648.1,153.8 L647.7,153.8 L647.4,153.8 L647.0,153.8 L646.7,153.9 L646.3,153.9 L646.0,153.9 L645.6,153.9 L645.3,153.9 L644.9,154.0 L644.6,154.0 L644.2,154.0 L643.9,154.2 L643.5,154.4 L643.2,154.6 L642.8,154.7 L642.5,154.9 L642.1,155.4 L641.8,156.2Z" fill="#3b80bb"/>
<path d="M641.8,130.6 L642.1,130.6 L642.5,130.6 L642.8,130.6 L643.2,130.6 L643.5,130.6 L643.9,130.6 L644.2,130.6 L644.6,130.6 L644.9,130.6 L645.3,130.6 L645.6,130.6 L646.0,130.6 L646.3,130.6 L646.7,130.6 L647.0,130.6 L647.4,130.6 L647.7,130.6 L648.1,95.7 L648.4,95.7 L648.8,95.7 L649.1,95.7 L649.5,95.7 L649.8,95.7 L650.2,95.7 L650.5,95.7 L650.9,95.7 L651.2,99.9 L651.6,109.0 L651.9,114.2 L652.3,119.5 L652.6,121.8 L653.0,124.2 L653.3,126.0 L653.7,127.3 L654.0,128.5 L654.4,129.8 L654.7,130.8 L655.1,131.5 L655.4,132.3 L655.8,133.0 L656.1,133.7 L656.5,134.2 L656.8,134.6 L657.2,135.0 L657.5,135.4 L657.9,135.8 L658.2,136.0 L658.6,136.2 L658.9,136.4 L659.3,136.6 L659.6,136.8 L660.0,137.0 L660.3,137.1 L660.7,137.2 L661.0,137.3 L661.4,137.4 L661.7,137.5 L662.1,137.6 L662.4,137.7 L662.8,137.8 L663.1,137.9 L663.5,138.0 L663.8,138.0 L664.2,138.1 L664.2,154.5 L663.8,152.0 L663.5,151.8 L663.1,151.6 L662.8,151.4 L662.4,151.3 L662.1,151.1 L661.7,150.9 L661.4,150.7 L661.0,150.5 L660.7,150.4 L660.3,150.2 L660.0,150.0 L659.6,149.8 L659.3,149.6 L658.9,149.4 L658.6,149.2 L658.2,148.9 L657.9,148.7 L657.5,148.5 L657.2,148.3 L656.8,148.1 L656.5,147.9 L656.1,147.7 L655.8,147.5 L655.4,147.3 L655.1,147.1 L654.7,146.8 L654.4,146.4 L654.0,146.1 L653.7,145.8 L653.3,145.5 L653.0,145.1 L652.6,144.8 L652.3,144.5 L651.9,144.1 L651.6,143.7 L651.2,143.3 L650.9,142.9 L650.5,142.5 L650.2,153.8 L649.8,153.8 L649.5,153.8 L649.1,153.8 L648.8,153.8 L648.4,153.8 L648.1,153.8 L647.7,153.8 L647.4,153.8 L647.0,153.8 L646.7,153.9 L646.3,153.9 L646.0,153.9 L645.6,153.9 L645.3,153.9 L644.9,154.0 L644.6,154.0 L644.2,154.0 L643.9,154.2 L643.5,154.4 L643.2,154.6 L642.8,154.7 L642.5,154.9 L642.1,155.4 L641.8,156.2Z" fill="#f08b35"/>
<path d="M641.8,137.9 L642.1,137.9 L642.5,137.9 L642.8,137.9 L643.2,137.9 L643.5,137.9 L643.9,137.9 L644.2,137.9 L644.6,137.9 L644.9,137.9 L645.3,137.9 L645.6,137.9 L646.0,137.9 L646.3,137.9 L646.7,137.9 L647.0,137.9 L647.4,137.9 L647.7,137.9 L648.1,110.7 L648.4,110.7 L648.8,110.7 L649.1,110.7 L649.5,110.7 L649.8,110.7 L650.2,110.7 L650.5,110.7 L650.9,110.7 L651.2,110.7 L651.6,110.7 L651.9,114.8 L652.3,120.1 L652.6,122.4 L653.0,124.8 L653.3,126.6 L653.7,127.9 L654.0,129.1 L654.4,130.4 L654.7,131.4 L655.1,132.1 L655.4,132.9 L655.8,133.6 L656.1,134.3 L656.5,134.8 L656.8,135.2 L657.2,135.6 L657.5,136.0 L657.9,136.4 L658.2,136.6 L658.6,136.8 L658.9,137.0 L659.3,137.2 L659.6,137.4 L660.0,137.6 L660.3,137.7 L660.7,137.8 L661.0,137.9 L661.4,138.0 L661.7,138.1 L662.1,138.2 L662.4,138.3 L662.8,138.4 L663.1,138.5 L663.5,138.6 L663.8,138.6 L664.2,138.7 L664.2,154.5 L663.8,152.0 L663.5,151.8 L663.1,151.6 L662.8,151.4 L662.4,151.3 L662.1,151.1 L661.7,150.9 L661.4,150.7 L661.0,150.5 L660.7,150.4 L660.3,150.2 L660.0,150.0 L659.6,149.8 L659.3,149.6 L658.9,149.4 L658.6,149.2 L658.2,148.9 L657.9,148.7 L657.5,148.5 L657.2,148.3 L656.8,148.1 L656.5,147.9 L656.1,147.7 L655.8,147.5 L655.4,147.3 L655.1,147.1 L654.7,146.8 L654.4,146.4 L654.0,146.1 L653.7,145.8 L653.3,145.5 L653.0,145.1 L652.6,144.8 L652.3,144.5 L651.9,144.1 L651.6,143.7 L651.2,143.3 L650.9,142.9 L650.5,142.5 L650.2,153.8 L649.8,153.8 L649.5,153.8 L649.1,153.8 L648.8,153.8 L648.4,153.8 L648.1,153.8 L647.7,153.8 L647.4,153.8 L647.0,153.8 L646.7,153.9 L646.3,153.9 L646.0,153.9 L645.6,153.9 L645.3,153.9 L644.9,154.0 L644.6,154.0 L644.2,154.0 L643.9,154.2 L643.5,154.4 L643.2,154.6 L642.8,154.7 L642.5,154.9 L642.1,155.4 L641.8,156.2Z" fill="#4aa84a"/>
<path d="M641.8,145.5 L642.1,145.5 L642.5,145.5 L642.8,145.5 L643.2,145.5 L643.5,145.5 L643.9,145.5 L644.2,145.5 L644.6,145.5 L644.9,145.5 L645.3,145.5 L645.6,145.5 L646.0,145.5 L646.3,145.5 L646.7,145.5 L647.0,145.5 L647.4,145.5 L647.7,145.5 L648.1,132.6 L648.4,132.6 L648.8,132.6 L649.1,132.6 L649.5,132.6 L649.8,132.6 L650.2,132.6 L650.5,132.6 L650.9,132.6 L651.2,133.1 L651.6,133.7 L651.9,134.4 L652.3,135.1 L652.6,135.7 L653.0,136.5 L653.3,137.2 L653.7,138.0 L654.0,138.8 L654.4,139.6 L654.7,140.4 L655.1,141.1 L655.4,141.3 L655.8,141.5 L656.1,141.7 L656.5,141.9 L656.8,142.1 L657.2,142.3 L657.5,142.5 L657.9,142.7 L658.2,142.9 L658.6,143.2 L658.9,143.4 L659.3,143.6 L659.6,143.8 L660.0,144.0 L660.3,144.1 L660.7,144.1 L661.0,144.2 L661.4,144.2 L661.7,144.3 L662.1,144.4 L662.4,144.4 L662.8,144.5 L663.1,144.5 L663.5,144.6 L663.8,144.7 L664.2,144.7 L664.2,154.5 L663.8,152.0 L663.5,151.8 L663.1,151.6 L662.8,151.4 L662.4,151.3 L662.1,151.1 L661.7,150.9 L661.4,150.7 L661.0,150.5 L660.7,150.4 L660.3,150.2 L660.0,150.0 L659.6,149.8 L659.3,149.6 L658.9,149.4 L658.6,149.2 L658.2,148.9 L657.9,148.7 L657.5,148.5 L657.2,148.3 L656.8,148.1 L656.5,147.9 L656.1,147.7 L655.8,147.5 L655.4,147.3 L655.1,147.1 L654.7,146.8 L654.4,146.4 L654.0,146.1 L653.7,145.8 L653.3,145.5 L653.0,145.1 L652.6,144.8 L652.3,144.5 L651.9,144.1 L651.6,143.7 L651.2,143.3 L650.9,142.9 L650.5,142.5 L650.2,153.8 L649.8,153.8 L649.5,153.8 L649.1,153.8 L648.8,153.8 L648.4,153.8 L648.1,153.8 L647.7,153.8 L647.4,153.8 L647.0,153.8 L646.7,153.9 L646.3,153.9 L646.0,153.9 L645.6,153.9 L645.3,153.9 L644.9,154.0 L644.6,154.0 L644.2,154.0 L643.9,154.2 L643.5,154.4 L643.2,154.6 L642.8,154.7 L642.5,154.9 L642.1,155.4 L641.8,156.2Z" fill="#c5402f"/>
<path d="M641.8,147.0 L642.1,147.0 L642.5,147.0 L642.8,147.0 L643.2,147.0 L643.5,147.0 L643.9,147.0 L644.2,147.0 L644.6,147.0 L644.9,147.0 L645.3,147.0 L645.6,147.0 L646.0,147.0 L646.3,147.0 L646.7,147.0 L647.0,147.0 L647.4,147.0 L647.7,147.0 L648.1,136.6 L648.4,136.6 L648.8,136.6 L649.1,136.6 L649.5,136.6 L649.8,136.6 L650.2,136.6 L650.5,136.6 L650.9,136.6 L651.2,137.1 L651.6,137.7 L651.9,138.4 L652.3,139.1 L652.6,139.7 L653.0,140.5 L653.3,141.2 L653.7,142.0 L654.0,142.8 L654.4,143.6 L654.7,144.4 L655.1,145.1 L655.4,145.3 L655.8,145.5 L656.1,145.7 L656.5,145.9 L656.8,146.1 L657.2,146.3 L657.5,146.5 L657.9,146.7 L658.2,146.9 L658.6,147.2 L658.9,147.4 L659.3,147.6 L659.6,147.8 L660.0,148.0 L660.3,148.1 L660.7,148.1 L661.0,148.2 L661.4,148.2 L661.7,148.3 L662.1,148.4 L662.4,148.4 L662.8,148.5 L663.1,148.5 L663.5,148.6 L663.8,148.7 L664.2,148.7 L664.2,154.5 L663.8,152.0 L663.5,151.8 L663.1,151.6 L662.8,151.4 L662.4,151.3 L662.1,151.1 L661.7,150.9 L661.4,150.7 L661.0,150.5 L660.7,150.4 L660.3,150.2 L660.0,150.0 L659.6,149.8 L659.3,149.6 L658.9,149.4 L658.6,149.2 L658.2,148.9 L657.9,148.7 L657.5,148.5 L657.2,148.3 L656.8,148.1 L656.5,147.9 L656.1,147.7 L655.8,147.5 L655.4,147.3 L655.1,147.1 L654.7,146.8 L654.4,146.4 L654.0,146.1 L653.7,145.8 L653.3,145.5 L653.0,145.1 L652.6,144.8 L652.3,144.5 L651.9,144.1 L651.6,143.7 L651.2,143.3 L650.9,142.9 L650.5,142.5 L650.2,153.8 L649.8,153.8 L649.5,153.8 L649.1,153.8 L648.8,153.8 L648.4,153.8 L648.1,153.8 L647.7,153.8 L647.4,153.8 L647.0,153.8 L646.7,153.9 L646.3,153.9 L646.0,153.9 L645.6,153.9 L645.3,153.9 L644.9,154.0 L644.6,154.0 L644.2,154.0 L643.9,154.2 L643.5,154.4 L643.2,154.6 L642.8,154.7 L642.5,154.9 L642.1,155.4 L641.8,156.2Z" fill="#dd5050"/>
<path d="M671.6,145.5 L672.0,143.9 L672.3,142.3 L672.7,140.7 L673.0,139.3 L673.4,138.0 L673.7,136.8 L674.1,135.5 L674.4,134.6 L674.8,134.0 L675.1,133.4 L675.5,132.8 L675.8,131.9 L676.2,131.0 L676.5,130.0 L676.9,128.4 L677.2,126.8 L677.6,125.1 L677.9,124.6 L678.3,124.2 L678.6,123.8 L679.0,124.0 L679.3,124.1 L679.7,124.3 L680.0,123.9 L680.4,123.6 L680.7,123.3 L681.1,123.0 L681.4,122.7 L681.8,122.3 L682.1,121.8 L682.5,121.4 L682.8,120.9 L683.2,120.5 L683.5,120.0 L683.9,119.8 L684.2,119.8 L684.6,119.7 L684.9,119.6 L685.3,119.6 L685.6,83.9 L686.0,83.9 L686.3,83.9 L686.7,83.9 L687.0,83.9 L687.4,83.9 L687.7,83.9 L688.1,83.9 L688.4,83.9 L688.8,98.4 L689.1,105.2 L689.5,110.9 L689.8,116.0 L690.2,119.6 L690.5,123.2 L690.9,125.9 L691.2,127.6 L691.6,129.3 L691.9,131.1 L692.3,132.8 L692.6,134.6 L693.0,136.0 L693.3,137.4 L693.7,138.7 L694.0,140.0 L694.4,140.7 L694.7,141.3 L694.7,154.3 L694.4,154.2 L694.0,153.6 L693.7,153.0 L693.3,152.5 L693.0,152.1 L692.6,151.6 L692.3,151.1 L691.9,150.7 L691.6,150.2 L691.2,149.8 L690.9,149.3 L690.5,148.8 L690.2,147.9 L689.8,147.0 L689.5,145.9 L689.1,144.7 L688.8,151.0 L688.4,151.0 L688.1,151.0 L687.7,151.0 L687.4,151.0 L687.0,151.0 L686.7,151.0 L686.3,151.0 L686.0,151.0 L685.6,151.0 L685.3,151.1 L684.9,151.2 L684.6,151.3 L684.2,151.4 L683.9,151.6 L683.5,151.9 L683.2,152.2 L682.8,152.6 L682.5,152.9 L682.1,153.2 L681.8,153.5 L681.4,153.6 L681.1,153.7 L680.7,153.7 L680.4,153.7 L680.0,153.8 L679.7,153.8 L679.3,153.8 L679.0,153.9 L678.6,153.9 L678.3,153.9 L677.9,154.0 L677.6,154.0 L677.2,154.4 L676.9,154.7 L676.5,155.0 L676.2,155.3 L675.8,155.6 L675.5,155.9 L675.1,156.1 L674.8,156.3 L674.4,156.5 L674.1,156.7 L673.7,156.9 L673.4,157.1 L673.0,157.3 L672.7,157.5 L672.3,157.7 L672.0,157.9 L671.6,158.0Z" fill="#3d334a"/>
<path d="M671.6,145.8 L672.0,144.2 L672.3,142.6 L672.7,141.0 L673.0,139.6 L673.4,138.4 L673.7,137.1 L674.1,135.9 L674.4,135.0 L674.8,134.4 L675.1,133.8 L675.5,133.2 L675.8,132.4 L676.2,131.4 L676.5,130.4 L676.9,128.8 L677.2,127.2 L677.6,125.6 L677.9,125.0 L678.3,124.7 L678.6,124.3 L679.0,124.5 L679.3,124.6 L679.7,124.8 L680.0,124.5 L680.4,124.3 L680.7,124.0 L681.1,123.8 L681.4,123.5 L681.8,123.2 L682.1,122.8 L682.5,122.4 L682.8,122.0 L683.2,121.6 L683.5,121.2 L683.9,121.1 L684.2,121.1 L684.6,121.0 L684.9,120.9 L685.3,120.9 L685.6,87.8 L686.0,87.8 L686.3,87.8 L686.7,87.8 L687.0,87.8 L687.4,87.8 L687.7,87.8 L688.1,87.8 L688.4,87.8 L688.8,98.9 L689.1,105.7 L689.5,111.4 L689.8,116.5 L690.2,120.1 L690.5,123.7 L690.9,126.4 L691.2,128.1 L691.6,129.8 L691.9,131.6 L692.3,133.3 L692.6,135.1 L693.0,136.5 L693.3,137.9 L693.7,139.2 L694.0,140.5 L694.4,141.2 L694.7,141.8 L694.7,154.3 L694.4,154.2 L694.0,153.6 L693.7,153.0 L693.3,152.5 L693.0,152.1 L692.6,151.6 L692.3,151.1 L691.9,150.7 L691.6,150.2 L691.2,149.8 L690.9,149.3 L690.5,148.8 L690.2,147.9 L689.8,147.0 L689.5,145.9 L689.1,144.7 L688.8,151.0 L688.4,151.0 L688.1,151.0 L687.7,151.0 L687.4,151.0 L687.0,151.0 L686.7,151.0 L686.3,151.0 L686.0,151.0 L685.6,151.0 L685.3,151.1 L684.9,151.2 L684.6,151.3 L684.2,151.4 L683.9,151.6 L683.5,151.9 L683.2,152.2 L682.8,152.6 L682.5,152.9 L682.1,153.2 L681.8,153.5 L681.4,153.6 L681.1,153.7 L680.7,153.7 L680.4,153.7 L680.0,153.8 L679.7,153.8 L679.3,153.8 L679.0,153.9 L678.6,153.9 L678.3,153.9 L677.9,154.0 L677.6,154.0 L677.2,154.4 L676.9,154.7 L676.5,155.0 L676.2,155.3 L675.8,155.6 L675.5,155.9 L675.1,156.1 L674.8,156.3 L674.4,156.5 L674.1,156.7 L673.7,156.9 L673.4,157.1 L673.0,157.3 L672.7,157.5 L672.3,157.7 L672.0,157.9 L671.6,158.0Z" fill="#3b80bb"/>
<path d="M671.6,145.9 L672.0,144.3 L672.3,142.7 L672.7,141.2 L673.0,139.9 L673.4,138.9 L673.7,137.9 L674.1,136.9 L674.4,136.4 L674.8,136.1 L675.1,135.9 L675.5,135.7 L675.8,135.2 L676.2,134.4 L676.5,133.6 L676.9,132.8 L677.2,132.1 L677.6,131.3 L677.9,130.8 L678.3,130.4 L678.6,129.9 L679.0,129.4 L679.3,129.0 L679.7,128.6 L680.0,128.4 L680.4,128.3 L680.7,128.1 L681.1,127.9 L681.4,127.8 L681.8,127.6 L682.1,127.5 L682.5,127.4 L682.8,127.2 L683.2,127.1 L683.5,126.9 L683.9,126.8 L684.2,126.8 L684.6,126.7 L684.9,126.6 L685.3,126.6 L685.6,98.3 L686.0,98.3 L686.3,98.3 L686.7,98.3 L687.0,98.3 L687.4,98.3 L687.7,98.3 L688.1,98.3 L688.4,98.3 L688.8,99.4 L689.1,106.2 L689.5,111.9 L689.8,117.0 L690.2,120.6 L690.5,124.2 L690.9,126.9 L691.2,128.6 L691.6,130.3 L691.9,132.1 L692.3,133.8 L692.6,135.6 L693.0,137.0 L693.3,138.4 L693.7,139.7 L694.0,141.0 L694.4,141.7 L694.7,142.3 L694.7,154.3 L694.4,154.2 L694.0,153.6 L693.7,153.0 L693.3,152.5 L693.0,152.1 L692.6,151.6 L692.3,151.1 L691.9,150.7 L691.6,150.2 L691.2,149.8 L690.9,149.3 L690.5,148.8 L690.2,147.9 L689.8,147.0 L689.5,145.9 L689.1,144.7 L688.8,151.0 L688.4,151.0 L688.1,151.0 L687.7,151.0 L687.4,151.0 L687.0,151.0 L686.7,151.0 L686.3,151.0 L686.0,151.0 L685.6,151.0 L685.3,151.1 L684.9,151.2 L684.6,151.3 L684.2,151.4 L683.9,151.6 L683.5,151.9 L683.2,152.2 L682.8,152.6 L682.5,152.9 L682.1,153.2 L681.8,153.5 L681.4,153.6 L681.1,153.7 L680.7,153.7 L680.4,153.7 L680.0,153.8 L679.7,153.8 L679.3,153.8 L679.0,153.9 L678.6,153.9 L678.3,153.9 L677.9,154.0 L677.6,154.0 L677.2,154.4 L676.9,154.7 L676.5,155.0 L676.2,155.3 L675.8,155.6 L675.5,155.9 L675.1,156.1 L674.8,156.3 L674.4,156.5 L674.1,156.7 L673.7,156.9 L673.4,157.1 L673.0,157.3 L672.7,157.5 L672.3,157.7 L672.0,157.9 L671.6,158.0Z" fill="#f08b35"/>
<path d="M671.6,146.2 L672.0,144.8 L672.3,143.5 L672.7,142.1 L673.0,141.2 L673.4,140.7 L673.7,140.2 L674.1,139.7 L674.4,139.3 L674.8,138.8 L675.1,138.3 L675.5,137.9 L675.8,137.5 L676.2,137.1 L676.5,136.8 L676.9,136.4 L677.2,136.0 L677.6,135.7 L677.9,135.5 L678.3,135.3 L678.6,135.1 L679.0,135.0 L679.3,134.8 L679.7,134.7 L680.0,134.6 L680.4,134.6 L680.7,134.5 L681.1,134.4 L681.4,134.3 L681.8,134.3 L682.1,134.2 L682.5,134.2 L682.8,134.1 L683.2,134.1 L683.5,134.1 L683.9,134.0 L684.2,134.0 L684.6,133.9 L684.9,133.9 L685.3,133.8 L685.6,115.3 L686.0,115.3 L686.3,115.3 L686.7,115.3 L687.0,115.3 L687.4,115.3 L687.7,115.3 L688.1,115.3 L688.4,115.3 L688.8,115.3 L689.1,115.3 L689.5,115.3 L689.8,117.6 L690.2,121.2 L690.5,124.8 L690.9,127.5 L691.2,129.2 L691.6,130.9 L691.9,132.7 L692.3,134.4 L692.6,136.2 L693.0,137.6 L693.3,139.0 L693.7,140.3 L694.0,141.6 L694.4,142.3 L694.7,142.9 L694.7,154.3 L694.4,154.2 L694.0,153.6 L693.7,153.0 L693.3,152.5 L693.0,152.1 L692.6,151.6 L692.3,151.1 L691.9,150.7 L691.6,150.2 L691.2,149.8 L690.9,149.3 L690.5,148.8 L690.2,147.9 L689.8,147.0 L689.5,145.9 L689.1,144.7 L688.8,151.0 L688.4,151.0 L688.1,151.0 L687.7,151.0 L687.4,151.0 L687.0,151.0 L686.7,151.0 L686.3,151.0 L686.0,151.0 L685.6,151.0 L685.3,151.1 L684.9,151.2 L684.6,151.3 L684.2,151.4 L683.9,151.6 L683.5,151.9 L683.2,152.2 L682.8,152.6 L682.5,152.9 L682.1,153.2 L681.8,153.5 L681.4,153.6 L681.1,153.7 L680.7,153.7 L680.4,153.7 L680.0,153.8 L679.7,153.8 L679.3,153.8 L679.0,153.9 L678.6,153.9 L678.3,153.9 L677.9,154.0 L677.6,154.0 L677.2,154.4 L676.9,154.7 L676.5,155.0 L676.2,155.3 L675.8,155.6 L675.5,155.9 L675.1,156.1 L674.8,156.3 L674.4,156.5 L674.1,156.7 L673.7,156.9 L673.4,157.1 L673.0,157.3 L672.7,157.5 L672.3,157.7 L672.0,157.9 L671.6,158.0Z" fill="#4aa84a"/>
<path d="M671.6,146.8 L672.0,146.6 L672.3,146.5 L672.7,146.4 L673.0,146.2 L673.4,146.1 L673.7,145.9 L674.1,145.7 L674.4,145.5 L674.8,145.3 L675.1,145.0 L675.5,144.8 L675.8,144.7 L676.2,144.6 L676.5,144.6 L676.9,144.5 L677.2,144.5 L677.6,144.4 L677.9,144.4 L678.3,144.3 L678.6,144.2 L679.0,144.2 L679.3,144.1 L679.7,144.1 L680.0,144.0 L680.4,144.0 L680.7,143.9 L681.1,143.9 L681.4,143.8 L681.8,143.8 L682.1,143.7 L682.5,143.6 L682.8,143.6 L683.2,143.5 L683.5,143.4 L683.9,143.3 L684.2,143.3 L684.6,143.2 L684.9,143.1 L685.3,143.1 L685.6,132.0 L686.0,132.0 L686.3,132.0 L686.7,132.0 L687.0,132.0 L687.4,132.0 L687.7,132.0 L688.1,132.0 L688.4,132.0 L688.8,132.4 L689.1,133.0 L689.5,133.6 L689.8,134.1 L690.2,134.7 L690.5,135.4 L690.9,136.1 L691.2,136.8 L691.6,137.5 L691.9,138.2 L692.3,138.9 L692.6,139.6 L693.0,140.9 L693.3,142.3 L693.7,143.7 L694.0,145.0 L694.4,145.5 L694.7,145.9 L694.7,154.3 L694.4,154.2 L694.0,153.6 L693.7,153.0 L693.3,152.5 L693.0,152.1 L692.6,151.6 L692.3,151.1 L691.9,150.7 L691.6,150.2 L691.2,149.8 L690.9,149.3 L690.5,148.8 L690.2,147.9 L689.8,147.0 L689.5,145.9 L689.1,144.7 L688.8,151.0 L688.4,151.0 L688.1,151.0 L687.7,151.0 L687.4,151.0 L687.0,151.0 L686.7,151.0 L686.3,151.0 L686.0,151.0 L685.6,151.0 L685.3,151.1 L684.9,151.2 L684.6,151.3 L684.2,151.4 L683.9,151.6 L683.5,151.9 L683.2,152.2 L682.8,152.6 L682.5,152.9 L682.1,153.2 L681.8,153.5 L681.4,153.6 L681.1,153.7 L680.7,153.7 L680.4,153.7 L680.0,153.8 L679.7,153.8 L679.3,153.8 L679.0,153.9 L678.6,153.9 L678.3,153.9 L677.9,154.0 L677.6,154.0 L677.2,154.4 L676.9,154.7 L676.5,155.0 L676.2,155.3 L675.8,155.6 L675.5,155.9 L675.1,156.1 L674.8,156.3 L674.4,156.5 L674.1,156.7 L673.7,156.9 L673.4,157.1 L673.0,157.3 L672.7,157.5 L672.3,157.7 L672.0,157.9 L671.6,158.0Z" fill="#c5402f"/>
<path d="M671.6,151.3 L672.0,151.1 L672.3,151.0 L672.7,150.9 L673.0,150.7 L673.4,150.6 L673.7,150.4 L674.1,150.2 L674.4,150.0 L674.8,149.8 L675.1,149.5 L675.5,149.3 L675.8,149.2 L676.2,149.1 L676.5,149.1 L676.9,149.0 L677.2,149.0 L677.6,148.9 L677.9,148.9 L678.3,148.8 L678.6,148.8 L679.0,148.7 L679.3,148.6 L679.7,148.6 L680.0,148.5 L680.4,148.5 L680.7,148.4 L681.1,148.4 L681.4,148.3 L681.8,148.3 L682.1,148.2 L682.5,148.1 L682.8,148.1 L683.2,148.0 L683.5,147.9 L683.9,147.8 L684.2,147.8 L684.6,147.7 L684.9,147.6 L685.3,147.6 L685.6,136.0 L686.0,136.0 L686.3,136.0 L686.7,136.0 L687.0,136.0 L687.4,136.0 L687.7,136.0 L688.1,136.0 L688.4,136.0 L688.8,136.4 L689.1,137.0 L689.5,137.6 L689.8,138.1 L690.2,138.7 L690.5,139.4 L690.9,140.1 L691.2,140.8 L691.6,141.5 L691.9,142.2 L692.3,142.9 L692.6,143.6 L693.0,144.9 L693.3,146.3 L693.7,147.7 L694.0,149.0 L694.4,149.5 L694.7,149.9 L694.7,154.3 L694.4,154.2 L694.0,153.6 L693.7,153.0 L693.3,152.5 L693.0,152.1 L692.6,151.6 L692.3,151.1 L691.9,150.7 L691.6,150.2 L691.2,149.8 L690.9,149.3 L690.5,148.8 L690.2,147.9 L689.8,147.0 L689.5,145.9 L689.1,144.7 L688.8,151.0 L688.4,151.0 L688.1,151.0 L687.7,151.0 L687.4,151.0 L687.0,151.0 L686.7,151.0 L686.3,151.0 L686.0,151.0 L685.6,151.0 L685.3,151.1 L684.9,151.2 L684.6,151.3 L684.2,151.4 L683.9,151.6 L683.5,151.9 L683.2,152.2 L682.8,152.6 L682.5,152.9 L682.1,153.2 L681.8,153.5 L681.4,153.6 L681.1,153.7 L680.7,153.7 L680.4,153.7 L680.0,153.8 L679.7,153.8 L679.3,153.8 L679.0,153.9 L678.6,153.9 L678.3,153.9 L677.9,154.0 L677.6,154.0 L677.2,154.4 L676.9,154.7 L676.5,155.0 L676.2,155.3 L675.8,155.6 L675.5,155.9 L675.1,156.1 L674.8,156.3 L674.4,156.5 L674.1,156.7 L673.7,156.9 L673.4,157.1 L673.0,157.3 L672.7,157.5 L672.3,157.7 L672.0,157.9 L671.6,158.0Z" fill="#dd5050"/>
<path d="M702.3,127.2 L702.7,126.6 L703.0,126.0 L703.4,125.5 L703.7,125.2 L704.1,125.0 L704.4,124.8 L704.8,124.5 L705.1,124.5 L705.5,124.5 L705.8,124.5 L706.2,124.6 L706.5,124.6 L706.9,124.6 L707.2,124.8 L707.6,124.9 L707.9,125.0 L708.3,125.1 L708.6,81.0 L709.0,81.0 L709.3,81.0 L709.7,81.0 L710.0,81.0 L710.4,81.0 L710.7,81.0 L711.1,84.6 L711.4,91.2 L711.8,98.9 L712.1,108.0 L712.5,113.2 L712.8,118.5 L713.2,120.8 L713.5,123.2 L713.9,125.0 L714.2,126.3 L714.6,127.5 L714.9,128.8 L715.3,129.8 L715.6,130.5 L716.0,131.3 L716.3,132.0 L716.7,132.7 L717.0,133.2 L717.4,133.6 L717.7,134.0 L718.1,134.4 L718.4,134.8 L718.8,135.0 L719.1,135.2 L719.5,135.4 L719.8,135.6 L720.2,135.8 L720.5,136.0 L720.9,136.1 L721.2,136.2 L721.6,136.3 L721.9,136.4 L722.3,136.5 L722.6,136.6 L723.0,136.7 L723.3,136.8 L723.7,136.9 L724.0,137.0 L724.4,137.0 L724.7,137.1 L724.7,154.5 L724.4,152.0 L724.0,151.8 L723.7,151.6 L723.3,151.4 L723.0,151.3 L722.6,151.1 L722.3,150.9 L721.9,150.7 L721.6,150.5 L721.2,150.4 L720.9,150.2 L720.5,150.0 L720.2,149.8 L719.8,149.6 L719.5,149.4 L719.1,149.2 L718.8,148.9 L718.4,148.7 L718.1,148.5 L717.7,148.3 L717.4,148.1 L717.0,147.9 L716.7,147.7 L716.3,147.5 L716.0,147.3 L715.6,147.1 L715.3,146.8 L714.9,146.4 L714.6,146.1 L714.2,145.8 L713.9,145.5 L713.5,145.1 L713.2,144.8 L712.8,144.5 L712.5,144.1 L712.1,143.7 L711.8,143.3 L711.4,142.9 L711.1,142.5 L710.7,153.8 L710.4,153.8 L710.0,153.8 L709.7,153.8 L709.3,153.8 L709.0,153.8 L708.6,153.8 L708.3,153.8 L707.9,153.8 L707.6,153.8 L707.2,153.9 L706.9,153.9 L706.5,153.9 L706.2,153.9 L705.8,153.9 L705.5,154.0 L705.1,154.0 L704.8,154.0 L704.4,154.2 L704.1,154.4 L703.7,154.6 L703.4,154.7 L703.0,154.9 L702.7,155.4 L702.3,156.2Z" fill="#3d334a"/>
<path d="M702.3,128.1 L702.7,127.5 L703.0,126.9 L703.4,126.3 L703.7,126.0 L704.1,125.8 L704.4,125.5 L704.8,125.2 L705.1,125.2 L705.5,125.3 L705.8,125.3 L706.2,125.3 L706.5,125.3 L706.9,125.4 L707.2,125.5 L707.6,125.7 L707.9,125.8 L708.3,125.9 L708.6,84.2 L709.0,84.2 L709.3,84.2 L709.7,84.2 L710.0,84.2 L710.4,84.2 L710.7,84.2 L711.1,85.1 L711.4,91.7 L711.8,99.4 L712.1,108.5 L712.5,113.7 L712.8,119.0 L713.2,121.3 L713.5,123.7 L713.9,125.5 L714.2,126.8 L714.6,128.0 L714.9,129.3 L715.3,130.3 L715.6,131.0 L716.0,131.8 L716.3,132.5 L716.7,133.2 L717.0,133.7 L717.4,134.1 L717.7,134.5 L718.1,134.9 L718.4,135.3 L718.8,135.5 L719.1,135.7 L719.5,135.9 L719.8,136.1 L720.2,136.3 L720.5,136.5 L720.9,136.6 L721.2,136.7 L721.6,136.8 L721.9,136.9 L722.3,137.0 L722.6,137.1 L723.0,137.2 L723.3,137.3 L723.7,137.4 L724.0,137.5 L724.4,137.5 L724.7,137.6 L724.7,154.5 L724.4,152.0 L724.0,151.8 L723.7,151.6 L723.3,151.4 L723.0,151.3 L722.6,151.1 L722.3,150.9 L721.9,150.7 L721.6,150.5 L721.2,150.4 L720.9,150.2 L720.5,150.0 L720.2,149.8 L719.8,149.6 L719.5,149.4 L719.1,149.2 L718.8,148.9 L718.4,148.7 L718.1,148.5 L717.7,148.3 L717.4,148.1 L717.0,147.9 L716.7,147.7 L716.3,147.5 L716.0,147.3 L715.6,147.1 L715.3,146.8 L714.9,146.4 L714.6,146.1 L714.2,145.8 L713.9,145.5 L713.5,145.1 L713.2,144.8 L712.8,144.5 L712.5,144.1 L712.1,143.7 L711.8,143.3 L711.4,142.9 L711.1,142.5 L710.7,153.8 L710.4,153.8 L710.0,153.8 L709.7,153.8 L709.3,153.8 L709.0,153.8 L708.6,153.8 L708.3,153.8 L707.9,153.8 L707.6,153.8 L707.2,153.9 L706.9,153.9 L706.5,153.9 L706.2,153.9 L705.8,153.9 L705.5,154.0 L705.1,154.0 L704.8,154.0 L704.4,154.2 L704.1,154.4 L703.7,154.6 L703.4,154.7 L703.0,154.9 L702.7,155.4 L702.3,156.2Z" fill="#3b80bb"/>
<path d="M702.3,130.6 L702.7,130.6 L703.0,130.6 L703.4,130.6 L703.7,130.6 L704.1,130.6 L704.4,130.6 L704.8,130.6 L705.1,130.6 L705.5,130.6 L705.8,130.6 L706.2,130.6 L706.5,130.6 L706.9,130.6 L707.2,130.6 L707.6,130.6 L707.9,130.6 L708.3,130.6 L708.6,95.7 L709.0,95.7 L709.3,95.7 L709.7,95.7 L710.0,95.7 L710.4,95.7 L710.7,95.7 L711.1,95.7 L711.4,95.7 L711.8,99.9 L712.1,109.0 L712.5,114.2 L712.8,119.5 L713.2,121.8 L713.5,124.2 L713.9,126.0 L714.2,127.3 L714.6,128.5 L714.9,129.8 L715.3,130.8 L715.6,131.5 L716.0,132.3 L716.3,133.0 L716.7,133.7 L717.0,134.2 L717.4,134.6 L717.7,135.0 L718.1,135.4 L718.4,135.8 L718.8,136.0 L719.1,136.2 L719.5,136.4 L719.8,136.6 L720.2,136.8 L720.5,137.0 L720.9,137.1 L721.2,137.2 L721.6,137.3 L721.9,137.4 L722.3,137.5 L722.6,137.6 L723.0,137.7 L723.3,137.8 L723.7,137.9 L724.0,138.0 L724.4,138.0 L724.7,138.1 L724.7,154.5 L724.4,152.0 L724.0,151.8 L723.7,151.6 L723.3,151.4 L723.0,151.3 L722.6,151.1 L722.3,150.9 L721.9,150.7 L721.6,150.5 L721.2,150.4 L720.9,150.2 L720.5,150.0 L720.2,149.8 L719.8,149.6 L719.5,149.4 L719.1,149.2 L718.8,148.9 L718.4,148.7 L718.1,148.5 L717.7,148.3 L717.4,148.1 L717.0,147.9 L716.7,147.7 L716.3,147.5 L716.0,147.3 L715.6,147.1 L715.3,146.8 L714.9,146.4 L714.6,146.1 L714.2,145.8 L713.9,145.5 L713.5,145.1 L713.2,144.8 L712.8,144.5 L712.5,144.1 L712.1,143.7 L711.8,143.3 L711.4,142.9 L711.1,142.5 L710.7,153.8 L710.4,153.8 L710.0,153.8 L709.7,153.8 L709.3,153.8 L709.0,153.8 L708.6,153.8 L708.3,153.8 L707.9,153.8 L707.6,153.8 L707.2,153.9 L706.9,153.9 L706.5,153.9 L706.2,153.9 L705.8,153.9 L705.5,154.0 L705.1,154.0 L704.8,154.0 L704.4,154.2 L704.1,154.4 L703.7,154.6 L703.4,154.7 L703.0,154.9 L702.7,155.4 L702.3,156.2Z" fill="#f08b35"/>
<path d="M702.3,137.9 L702.7,137.9 L703.0,137.9 L703.4,137.9 L703.7,137.9 L704.1,137.9 L704.4,137.9 L704.8,137.9 L705.1,137.9 L705.5,137.9 L705.8,137.9 L706.2,137.9 L706.5,137.9 L706.9,137.9 L707.2,137.9 L707.6,137.9 L707.9,137.9 L708.3,137.9 L708.6,110.7 L709.0,110.7 L709.3,110.7 L709.7,110.7 L710.0,110.7 L710.4,110.7 L710.7,110.7 L711.1,110.7 L711.4,110.7 L711.8,110.7 L712.1,110.7 L712.5,114.8 L712.8,120.1 L713.2,122.4 L713.5,124.8 L713.9,126.6 L714.2,127.9 L714.6,129.1 L714.9,130.4 L715.3,131.4 L715.6,132.1 L716.0,132.9 L716.3,133.6 L716.7,134.3 L717.0,134.8 L717.4,135.2 L717.7,135.6 L718.1,136.0 L718.4,136.4 L718.8,136.6 L719.1,136.8 L719.5,137.0 L719.8,137.2 L720.2,137.4 L720.5,137.6 L720.9,137.7 L721.2,137.8 L721.6,137.9 L721.9,138.0 L722.3,138.1 L722.6,138.2 L723.0,138.3 L723.3,138.4 L723.7,138.5 L724.0,138.6 L724.4,138.6 L724.7,138.7 L724.7,154.5 L724.4,152.0 L724.0,151.8 L723.7,151.6 L723.3,151.4 L723.0,151.3 L722.6,151.1 L722.3,150.9 L721.9,150.7 L721.6,150.5 L721.2,150.4 L720.9,150.2 L720.5,150.0 L720.2,149.8 L719.8,149.6 L719.5,149.4 L719.1,149.2 L718.8,148.9 L718.4,148.7 L718.1,148.5 L717.7,148.3 L717.4,148.1 L717.0,147.9 L716.7,147.7 L716.3,147.5 L716.0,147.3 L715.6,147.1 L715.3,146.8 L714.9,146.4 L714.6,146.1 L714.2,145.8 L713.9,145.5 L713.5,145.1 L713.2,144.8 L712.8,144.5 L712.5,144.1 L712.1,143.7 L711.8,143.3 L711.4,142.9 L711.1,142.5 L710.7,153.8 L710.4,153.8 L710.0,153.8 L709.7,153.8 L709.3,153.8 L709.0,153.8 L708.6,153.8 L708.3,153.8 L707.9,153.8 L707.6,153.8 L707.2,153.9 L706.9,153.9 L706.5,153.9 L706.2,153.9 L705.8,153.9 L705.5,154.0 L705.1,154.0 L704.8,154.0 L704.4,154.2 L704.1,154.4 L703.7,154.6 L703.4,154.7 L703.0,154.9 L702.7,155.4 L702.3,156.2Z" fill="#4aa84a"/>
<path d="M702.3,145.5 L702.7,145.5 L703.0,145.5 L703.4,145.5 L703.7,145.5 L704.1,145.5 L704.4,145.5 L704.8,145.5 L705.1,145.5 L705.5,145.5 L705.8,145.5 L706.2,145.5 L706.5,145.5 L706.9,145.5 L707.2,145.5 L707.6,145.5 L707.9,145.5 L708.3,145.5 L708.6,132.6 L709.0,132.6 L709.3,132.6 L709.7,132.6 L710.0,132.6 L710.4,132.6 L710.7,132.6 L711.1,132.6 L711.4,132.6 L711.8,133.1 L712.1,133.7 L712.5,134.4 L712.8,135.1 L713.2,135.7 L713.5,136.5 L713.9,137.2 L714.2,138.0 L714.6,138.8 L714.9,139.6 L715.3,140.4 L715.6,141.1 L716.0,141.3 L716.3,141.5 L716.7,141.7 L717.0,141.9 L717.4,142.1 L717.7,142.3 L718.1,142.5 L718.4,142.7 L718.8,142.9 L719.1,143.2 L719.5,143.4 L719.8,143.6 L720.2,143.8 L720.5,144.0 L720.9,144.1 L721.2,144.1 L721.6,144.2 L721.9,144.2 L722.3,144.3 L722.6,144.4 L723.0,144.4 L723.3,144.5 L723.7,144.5 L724.0,144.6 L724.4,144.7 L724.7,144.7 L724.7,154.5 L724.4,152.0 L724.0,151.8 L723.7,151.6 L723.3,151.4 L723.0,151.3 L722.6,151.1 L722.3,150.9 L721.9,150.7 L721.6,150.5 L721.2,150.4 L720.9,150.2 L720.5,150.0 L720.2,149.8 L719.8,149.6 L719.5,149.4 L719.1,149.2 L718.8,148.9 L718.4,148.7 L718.1,148.5 L717.7,148.3 L717.4,148.1 L717.0,147.9 L716.7,147.7 L716.3,147.5 L716.0,147.3 L715.6,147.1 L715.3,146.8 L714.9,146.4 L714.6,146.1 L714.2,145.8 L713.9,145.5 L713.5,145.1 L713.2,144.8 L712.8,144.5 L712.5,144.1 L712.1,143.7 L711.8,143.3 L711.4,142.9 L711.1,142.5 L710.7,153.8 L710.4,153.8 L710.0,153.8 L709.7,153.8 L709.3,153.8 L709.0,153.8 L708.6,153.8 L708.3,153.8 L707.9,153.8 L707.6,153.8 L707.2,153.9 L706.9,153.9 L706.5,153.9 L706.2,153.9 L705.8,153.9 L705.5,154.0 L705.1,154.0 L704.8,154.0 L704.4,154.2 L704.1,154.4 L703.7,154.6 L703.4,154.7 L703.0,154.9 L702.7,155.4 L702.3,156.2Z" fill="#c5402f"/>
<path d="M702.3,147.0 L702.7,147.0 L703.0,147.0 L703.4,147.0 L703.7,147.0 L704.1,147.0 L704.4,147.0 L704.8,147.0 L705.1,147.0 L705.5,147.0 L705.8,147.0 L706.2,147.0 L706.5,147.0 L706.9,147.0 L707.2,147.0 L707.6,147.0 L707.9,147.0 L708.3,147.0 L708.6,136.6 L709.0,136.6 L709.3,136.6 L709.7,136.6 L710.0,136.6 L710.4,136.6 L710.7,136.6 L711.1,136.6 L711.4,136.6 L711.8,137.1 L712.1,137.7 L712.5,138.4 L712.8,139.1 L713.2,139.7 L713.5,140.5 L713.9,141.2 L714.2,142.0 L714.6,142.8 L714.9,143.6 L715.3,144.4 L715.6,145.1 L716.0,145.3 L716.3,145.5 L716.7,145.7 L717.0,145.9 L717.4,146.1 L717.7,146.3 L718.1,146.5 L718.4,146.7 L718.8,146.9 L719.1,147.2 L719.5,147.4 L719.8,147.6 L720.2,147.8 L720.5,148.0 L720.9,148.1 L721.2,148.1 L721.6,148.2 L721.9,148.2 L722.3,148.3 L722.6,148.4 L723.0,148.4 L723.3,148.5 L723.7,148.5 L724.0,148.6 L724.4,148.7 L724.7,148.7 L724.7,154.5 L724.4,152.0 L724.0,151.8 L723.7,151.6 L723.3,151.4 L723.0,151.3 L722.6,151.1 L722.3,150.9 L721.9,150.7 L721.6,150.5 L721.2,150.4 L720.9,150.2 L720.5,150.0 L720.2,149.8 L719.8,149.6 L719.5,149.4 L719.1,149.2 L718.8,148.9 L718.4,148.7 L718.1,148.5 L717.7,148.3 L717.4,148.1 L717.0,147.9 L716.7,147.7 L716.3,147.5 L716.0,147.3 L715.6,147.1 L715.3,146.8 L714.9,146.4 L714.6,146.1 L714.2,145.8 L713.9,145.5 L713.5,145.1 L713.2,144.8 L712.8,144.5 L712.5,144.1 L712.1,143.7 L711.8,143.3 L711.4,142.9 L711.1,142.5 L710.7,153.8 L710.4,153.8 L710.0,153.8 L709.7,153.8 L709.3,153.8 L709.0,153.8 L708.6,153.8 L708.3,153.8 L707.9,153.8 L707.6,153.8 L707.2,153.9 L706.9,153.9 L706.5,153.9 L706.2,153.9 L705.8,153.9 L705.5,154.0 L705.1,154.0 L704.8,154.0 L704.4,154.2 L704.1,154.4 L703.7,154.6 L703.4,154.7 L703.0,154.9 L702.7,155.4 L702.3,156.2Z" fill="#dd5050"/>
<path d="M732.2,145.5 L732.5,143.9 L732.9,142.3 L733.2,140.7 L733.6,139.3 L733.9,138.0 L734.3,136.8 L734.6,135.5 L735.0,134.6 L735.3,134.0 L735.7,133.4 L736.0,132.8 L736.4,131.9 L736.7,131.0 L737.1,130.0 L737.4,128.4 L737.8,126.8 L738.1,125.1 L738.5,124.6 L738.8,124.2 L739.2,123.8 L739.5,124.0 L739.9,124.1 L740.2,124.3 L740.6,123.9 L740.9,123.6 L741.3,123.3 L741.6,123.0 L742.0,122.7 L742.3,122.3 L742.7,121.8 L743.0,121.4 L743.4,120.9 L743.7,120.5 L744.1,120.0 L744.4,119.8 L744.8,119.8 L745.1,119.7 L745.5,119.6 L745.8,119.6 L746.2,83.9 L746.5,83.9 L746.9,83.9 L747.2,83.9 L747.6,83.9 L747.9,83.9 L748.3,83.9 L748.6,83.9 L749.0,83.9 L749.3,98.4 L749.7,105.2 L750.0,110.9 L750.4,116.0 L750.7,119.6 L751.1,123.2 L751.4,125.9 L751.8,127.6 L752.1,129.3 L752.5,131.1 L752.8,132.8 L753.2,134.6 L753.5,136.0 L753.9,137.4 L754.2,138.7 L754.6,140.0 L754.9,140.7 L755.3,141.3 L755.3,154.3 L754.9,154.2 L754.6,153.6 L754.2,153.0 L753.9,152.5 L753.5,152.1 L753.2,151.6 L752.8,151.1 L752.5,150.7 L752.1,150.2 L751.8,149.8 L751.4,149.3 L751.1,148.8 L750.7,147.9 L750.4,147.0 L750.0,145.9 L749.7,144.7 L749.3,151.0 L749.0,151.0 L748.6,151.0 L748.3,151.0 L747.9,151.0 L747.6,151.0 L747.2,151.0 L746.9,151.0 L746.5,151.0 L746.2,151.0 L745.8,151.1 L745.5,151.2 L745.1,151.3 L744.8,151.4 L744.4,151.6 L744.1,151.9 L743.7,152.2 L743.4,152.6 L743.0,152.9 L742.7,153.2 L742.3,153.5 L742.0,153.6 L741.6,153.7 L741.3,153.7 L740.9,153.7 L740.6,153.8 L740.2,153.8 L739.9,153.8 L739.5,153.9 L739.2,153.9 L738.8,153.9 L738.5,154.0 L738.1,154.0 L737.8,154.4 L737.4,154.7 L737.1,155.0 L736.7,155.3 L736.4,155.6 L736.0,155.9 L735.7,156.1 L735.3,156.3 L735.0,156.5 L734.6,156.7 L734.3,156.9 L733.9,157.1 L733.6,157.3 L733.2,157.5 L732.9,157.7 L732.5,157.9 L732.2,158.0Z" fill="#3d334a"/>
<path d="M732.2,145.8 L732.5,144.2 L732.9,142.6 L733.2,141.0 L733.6,139.6 L733.9,138.4 L734.3,137.1 L734.6,135.9 L735.0,135.0 L735.3,134.4 L735.7,133.8 L736.0,133.2 L736.4,132.4 L736.7,131.4 L737.1,130.4 L737.4,128.8 L737.8,127.2 L738.1,125.6 L738.5,125.0 L738.8,124.7 L739.2,124.3 L739.5,124.5 L739.9,124.6 L740.2,124.8 L740.6,124.5 L740.9,124.3 L741.3,124.0 L741.6,123.8 L742.0,123.5 L742.3,123.2 L742.7,122.8 L743.0,122.4 L743.4,122.0 L743.7,121.6 L744.1,121.2 L744.4,121.1 L744.8,121.1 L745.1,121.0 L745.5,120.9 L745.8,120.9 L746.2,87.8 L746.5,87.8 L746.9,87.8 L747.2,87.8 L747.6,87.8 L747.9,87.8 L748.3,87.8 L748.6,87.8 L749.0,87.8 L749.3,98.9 L749.7,105.7 L750.0,111.4 L750.4,116.5 L750.7,120.1 L751.1,123.7 L751.4,126.4 L751.8,128.1 L752.1,129.8 L752.5,131.6 L752.8,133.3 L753.2,135.1 L753.5,136.5 L753.9,137.9 L754.2,139.2 L754.6,140.5 L754.9,141.2 L755.3,141.8 L755.3,154.3 L754.9,154.2 L754.6,153.6 L754.2,153.0 L753.9,152.5 L753.5,152.1 L753.2,151.6 L752.8,151.1 L752.5,150.7 L752.1,150.2 L751.8,149.8 L751.4,149.3 L751.1,148.8 L750.7,147.9 L750.4,147.0 L750.0,145.9 L749.7,144.7 L749.3,151.0 L749.0,151.0 L748.6,151.0 L748.3,151.0 L747.9,151.0 L747.6,151.0 L747.2,151.0 L746.9,151.0 L746.5,151.0 L746.2,151.0 L745.8,151.1 L745.5,151.2 L745.1,151.3 L744.8,151.4 L744.4,151.6 L744.1,151.9 L743.7,152.2 L743.4,152.6 L743.0,152.9 L742.7,153.2 L742.3,153.5 L742.0,153.6 L741.6,153.7 L741.3,153.7 L740.9,153.7 L740.6,153.8 L740.2,153.8 L739.9,153.8 L739.5,153.9 L739.2,153.9 L738.8,153.9 L738.5,154.0 L738.1,154.0 L737.8,154.4 L737.4,154.7 L737.1,155.0 L736.7,155.3 L736.4,155.6 L736.0,155.9 L735.7,156.1 L735.3,156.3 L735.0,156.5 L734.6,156.7 L734.3,156.9 L733.9,157.1 L733.6,157.3 L733.2,157.5 L732.9,157.7 L732.5,157.9 L732.2,158.0Z" fill="#3b80bb"/>
<path d="M732.2,145.9 L732.5,144.3 L732.9,142.7 L733.2,141.2 L733.6,139.9 L733.9,138.9 L734.3,137.9 L734.6,136.9 L735.0,136.4 L735.3,136.1 L735.7,135.9 L736.0,135.7 L736.4,135.2 L736.7,134.4 L737.1,133.6 L737.4,132.8 L737.8,132.1 L738.1,131.3 L738.5,130.8 L738.8,130.4 L739.2,129.9 L739.5,129.4 L739.9,129.0 L740.2,128.6 L740.6,128.4 L740.9,128.3 L741.3,128.1 L741.6,127.9 L742.0,127.8 L742.3,127.6 L742.7,127.5 L743.0,127.4 L743.4,127.2 L743.7,127.1 L744.1,126.9 L744.4,126.8 L744.8,126.8 L745.1,126.7 L745.5,126.6 L745.8,126.6 L746.2,98.3 L746.5,98.3 L746.9,98.3 L747.2,98.3 L747.6,98.3 L747.9,98.3 L748.3,98.3 L748.6,98.3 L749.0,98.3 L749.3,99.4 L749.7,106.2 L750.0,111.9 L750.4,117.0 L750.7,120.6 L751.1,124.2 L751.4,126.9 L751.8,128.6 L752.1,130.3 L752.5,132.1 L752.8,133.8 L753.2,135.6 L753.5,137.0 L753.9,138.4 L754.2,139.7 L754.6,141.0 L754.9,141.7 L755.3,142.3 L755.3,154.3 L754.9,154.2 L754.6,153.6 L754.2,153.0 L753.9,152.5 L753.5,152.1 L753.2,151.6 L752.8,151.1 L752.5,150.7 L752.1,150.2 L751.8,149.8 L751.4,149.3 L751.1,148.8 L750.7,147.9 L750.4,147.0 L750.0,145.9 L749.7,144.7 L749.3,151.0 L749.0,151.0 L748.6,151.0 L748.3,151.0 L747.9,151.0 L747.6,151.0 L747.2,151.0 L746.9,151.0 L746.5,151.0 L746.2,151.0 L745.8,151.1 L745.5,151.2 L745.1,151.3 L744.8,151.4 L744.4,151.6 L744.1,151.9 L743.7,152.2 L743.4,152.6 L743.0,152.9 L742.7,153.2 L742.3,153.5 L742.0,153.6 L741.6,153.7 L741.3,153.7 L740.9,153.7 L740.6,153.8 L740.2,153.8 L739.9,153.8 L739.5,153.9 L739.2,153.9 L738.8,153.9 L738.5,154.0 L738.1,154.0 L737.8,154.4 L737.4,154.7 L737.1,155.0 L736.7,155.3 L736.4,155.6 L736.0,155.9 L735.7,156.1 L735.3,156.3 L735.0,156.5 L734.6,156.7 L734.3,156.9 L733.9,157.1 L733.6,157.3 L733.2,157.5 L732.9,157.7 L732.5,157.9 L732.2,158.0Z" fill="#f08b35"/>
<path d="M732.2,146.2 L732.5,144.8 L732.9,143.5 L733.2,142.1 L733.6,141.2 L733.9,140.7 L734.3,140.2 L734.6,139.7 L735.0,139.3 L735.3,138.8 L735.7,138.3 L736.0,137.9 L736.4,137.5 L736.7,137.1 L737.1,136.8 L737.4,136.4 L737.8,136.0 L738.1,135.7 L738.5,135.5 L738.8,135.3 L739.2,135.1 L739.5,135.0 L739.9,134.8 L740.2,134.7 L740.6,134.6 L740.9,134.6 L741.3,134.5 L741.6,134.4 L742.0,134.3 L742.3,134.3 L742.7,134.2 L743.0,134.2 L743.4,134.1 L743.7,134.1 L744.1,134.1 L744.4,134.0 L744.8,134.0 L745.1,133.9 L745.5,133.9 L745.8,133.8 L746.2,115.3 L746.5,115.3 L746.9,115.3 L747.2,115.3 L747.6,115.3 L747.9,115.3 L748.3,115.3 L748.6,115.3 L749.0,115.3 L749.3,115.3 L749.7,115.3 L750.0,115.3 L750.4,117.6 L750.7,121.2 L751.1,124.8 L751.4,127.5 L751.8,129.2 L752.1,130.9 L752.5,132.7 L752.8,134.4 L753.2,136.2 L753.5,137.6 L753.9,139.0 L754.2,140.3 L754.6,141.6 L754.9,142.3 L755.3,142.9 L755.3,154.3 L754.9,154.2 L754.6,153.6 L754.2,153.0 L753.9,152.5 L753.5,152.1 L753.2,151.6 L752.8,151.1 L752.5,150.7 L752.1,150.2 L751.8,149.8 L751.4,149.3 L751.1,148.8 L750.7,147.9 L750.4,147.0 L750.0,145.9 L749.7,144.7 L749.3,151.0 L749.0,151.0 L748.6,151.0 L748.3,151.0 L747.9,151.0 L747.6,151.0 L747.2,151.0 L746.9,151.0 L746.5,151.0 L746.2,151.0 L745.8,151.1 L745.5,151.2 L745.1,151.3 L744.8,151.4 L744.4,151.6 L744.1,151.9 L743.7,152.2 L743.4,152.6 L743.0,152.9 L742.7,153.2 L742.3,153.5 L742.0,153.6 L741.6,153.7 L741.3,153.7 L740.9,153.7 L740.6,153.8 L740.2,153.8 L739.9,153.8 L739.5,153.9 L739.2,153.9 L738.8,153.9 L738.5,154.0 L738.1,154.0 L737.8,154.4 L737.4,154.7 L737.1,155.0 L736.7,155.3 L736.4,155.6 L736.0,155.9 L735.7,156.1 L735.3,156.3 L735.0,156.5 L734.6,156.7 L734.3,156.9 L733.9,157.1 L733.6,157.3 L733.2,157.5 L732.9,157.7 L732.5,157.9 L732.2,158.0Z" fill="#4aa84a"/>
<path d="M732.2,146.8 L732.5,146.6 L732.9,146.5 L733.2,146.4 L733.6,146.2 L733.9,146.1 L734.3,145.9 L734.6,145.7 L735.0,145.5 L735.3,145.3 L735.7,145.0 L736.0,144.8 L736.4,144.7 L736.7,144.6 L737.1,144.6 L737.4,144.5 L737.8,144.5 L738.1,144.4 L738.5,144.4 L738.8,144.3 L739.2,144.2 L739.5,144.2 L739.9,144.1 L740.2,144.1 L740.6,144.0 L740.9,144.0 L741.3,143.9 L741.6,143.9 L742.0,143.8 L742.3,143.8 L742.7,143.7 L743.0,143.6 L743.4,143.6 L743.7,143.5 L744.1,143.4 L744.4,143.3 L744.8,143.3 L745.1,143.2 L745.5,143.1 L745.8,143.1 L746.2,132.0 L746.5,132.0 L746.9,132.0 L747.2,132.0 L747.6,132.0 L747.9,132.0 L748.3,132.0 L748.6,132.0 L749.0,132.0 L749.3,132.4 L749.7,133.0 L750.0,133.6 L750.4,134.1 L750.7,134.7 L751.1,135.4 L751.4,136.1 L751.8,136.8 L752.1,137.5 L752.5,138.2 L752.8,138.9 L753.2,139.6 L753.5,140.9 L753.9,142.3 L754.2,143.7 L754.6,145.0 L754.9,145.5 L755.3,145.9 L755.3,154.3 L754.9,154.2 L754.6,153.6 L754.2,153.0 L753.9,152.5 L753.5,152.1 L753.2,151.6 L752.8,151.1 L752.5,150.7 L752.1,150.2 L751.8,149.8 L751.4,149.3 L751.1,148.8 L750.7,147.9 L750.4,147.0 L750.0,145.9 L749.7,144.7 L749.3,151.0 L749.0,151.0 L748.6,151.0 L748.3,151.0 L747.9,151.0 L747.6,151.0 L747.2,151.0 L746.9,151.0 L746.5,151.0 L746.2,151.0 L745.8,151.1 L745.5,151.2 L745.1,151.3 L744.8,151.4 L744.4,151.6 L744.1,151.9 L743.7,152.2 L743.4,152.6 L743.0,152.9 L742.7,153.2 L742.3,153.5 L742.0,153.6 L741.6,153.7 L741.3,153.7 L740.9,153.7 L740.6,153.8 L740.2,153.8 L739.9,153.8 L739.5,153.9 L739.2,153.9 L738.8,153.9 L738.5,154.0 L738.1,154.0 L737.8,154.4 L737.4,154.7 L737.1,155.0 L736.7,155.3 L736.4,155.6 L736.0,155.9 L735.7,156.1 L735.3,156.3 L735.0,156.5 L734.6,156.7 L734.3,156.9 L733.9,157.1 L733.6,157.3 L733.2,157.5 L732.9,157.7 L732.5,157.9 L732.2,158.0Z" fill="#c5402f"/>
<path d="M732.2,151.3 L732.5,151.1 L732.9,151.0 L733.2,150.9 L733.6,150.7 L733.9,150.6 L734.3,150.4 L734.6,150.2 L735.0,150.0 L735.3,149.8 L735.7,149.5 L736.0,149.3 L736.4,149.2 L736.7,149.1 L737.1,149.1 L737.4,149.0 L737.8,149.0 L738.1,148.9 L738.5,148.9 L738.8,148.8 L739.2,148.8 L739.5,148.7 L739.9,148.6 L740.2,148.6 L740.6,148.5 L740.9,148.5 L741.3,148.4 L741.6,148.4 L742.0,148.3 L742.3,148.3 L742.7,148.2 L743.0,148.1 L743.4,148.1 L743.7,148.0 L744.1,147.9 L744.4,147.8 L744.8,147.8 L745.1,147.7 L745.5,147.6 L745.8,147.6 L746.2,136.0 L746.5,136.0 L746.9,136.0 L747.2,136.0 L747.6,136.0 L747.9,136.0 L748.3,136.0 L748.6,136.0 L749.0,136.0 L749.3,136.4 L749.7,137.0 L750.0,137.6 L750.4,138.1 L750.7,138.7 L751.1,139.4 L751.4,140.1 L751.8,140.8 L752.1,141.5 L752.5,142.2 L752.8,142.9 L753.2,143.6 L753.5,144.9 L753.9,146.3 L754.2,147.7 L754.6,149.0 L754.9,149.5 L755.3,149.9 L755.3,154.3 L754.9,154.2 L754.6,153.6 L754.2,153.0 L753.9,152.5 L753.5,152.1 L753.2,151.6 L752.8,151.1 L752.5,150.7 L752.1,150.2 L751.8,149.8 L751.4,149.3 L751.1,148.8 L750.7,147.9 L750.4,147.0 L750.0,145.9 L749.7,144.7 L749.3,151.0 L749.0,151.0 L748.6,151.0 L748.3,151.0 L747.9,151.0 L747.6,151.0 L747.2,151.0 L746.9,151.0 L746.5,151.0 L746.2,151.0 L745.8,151.1 L745.5,151.2 L745.1,151.3 L744.8,151.4 L744.4,151.6 L744.1,151.9 L743.7,152.2 L743.4,152.6 L743.0,152.9 L742.7,153.2 L742.3,153.5 L742.0,153.6 L741.6,153.7 L741.3,153.7 L740.9,153.7 L740.6,153.8 L740.2,153.8 L739.9,153.8 L739.5,153.9 L739.2,153.9 L738.8,153.9 L738.5,154.0 L738.1,154.0 L737.8,154.4 L737.4,154.7 L737.1,155.0 L736.7,155.3 L736.4,155.6 L736.0,155.9 L735.7,156.1 L735.3,156.3 L735.0,156.5 L734.6,156.7 L734.3,156.9 L733.9,157.1 L733.6,157.3 L733.2,157.5 L732.9,157.7 L732.5,157.9 L732.2,158.0Z" fill="#dd5050"/>
<path d="M461.9,222.3 L463.0,223.5 L464.0,224.5 L465.5,225.6 L467.0,226.0 L468.3,226.2 L468.8,226.0 L469.5,225.5 L470.8,223.5 L471.6,221.3 L472.5,218.7 L474.0,211.3 L475.5,211.5 L477.0,211.0 L479.0,209.5 L480.8,208.2 L481.3,207.8 L481.7,207.5 L482.2,207.0 L482.9,207.0 L482.9,269.4 L482.2,269.4 L481.7,263.3 L481.3,262.6 L480.8,262.0 L479.0,260.2 L477.0,258.3 L475.5,256.5 L474.0,256.0 L472.5,257.6 L471.6,258.5 L470.8,259.4 L469.5,265.5 L468.8,268.0 L468.3,277.0 L467.0,277.3 L465.5,277.3 L464.0,277.3 L463.0,277.3 L461.9,277.3Z" fill="#3b80bb"/>
<path d="M461.9,229.0 L463.0,231.0 L464.0,232.3 L465.5,232.7 L467.0,232.3 L468.3,230.5 L468.8,229.8 L469.5,228.5 L470.8,226.0 L471.6,223.0 L472.5,218.7 L474.0,211.3 L475.5,211.5 L477.0,211.0 L479.0,209.5 L480.8,208.4 L481.3,214.0 L481.7,214.2 L482.2,214.4 L482.9,214.6 L482.9,269.4 L482.2,269.4 L481.7,263.3 L481.3,262.6 L480.8,262.0 L479.0,260.2 L477.0,258.3 L475.5,256.5 L474.0,256.0 L472.5,257.6 L471.6,258.5 L470.8,259.4 L469.5,265.5 L468.8,268.0 L468.3,277.0 L467.0,277.3 L465.5,277.3 L464.0,277.3 L463.0,277.3 L461.9,277.3Z" fill="#f08b35"/>
<path d="M461.9,241.0 L463.0,243.0 L464.0,244.5 L465.5,246.3 L467.0,245.0 L468.3,242.0 L468.8,240.5 L469.5,238.0 L470.8,232.0 L471.6,226.0 L472.5,218.7 L474.0,211.3 L475.5,213.0 L477.0,215.4 L479.0,216.0 L480.8,216.8 L481.3,217.2 L481.7,217.5 L482.2,218.0 L482.9,218.3 L482.9,269.4 L482.2,269.4 L481.7,263.3 L481.3,262.6 L480.8,262.0 L479.0,260.2 L477.0,258.3 L475.5,256.5 L474.0,256.0 L472.5,257.6 L471.6,258.5 L470.8,259.4 L469.5,265.5 L468.8,268.0 L468.3,277.0 L467.0,277.3 L465.5,277.3 L464.0,277.3 L463.0,277.3 L461.9,277.3Z" fill="#4aa84a"/>
<path d="M461.9,255.0 L463.0,258.0 L464.0,260.0 L465.5,261.8 L467.0,260.0 L468.3,256.0 L468.8,254.0 L469.5,250.0 L470.8,243.0 L471.6,238.0 L472.5,224.5 L474.0,223.2 L475.5,223.5 L477.0,224.4 L479.0,225.8 L480.8,227.2 L481.3,227.6 L481.7,228.0 L482.2,228.4 L482.9,230.0 L482.9,269.4 L482.2,269.4 L481.7,263.3 L481.3,262.6 L480.8,262.0 L479.0,260.2 L477.0,258.3 L475.5,256.5 L474.0,256.0 L472.5,257.6 L471.6,258.5 L470.8,259.4 L469.5,265.5 L468.8,268.0 L468.3,277.0 L467.0,277.3 L465.5,277.3 L464.0,277.3 L463.0,277.3 L461.9,277.3Z" fill="#c5402f"/>
<path d="M461.9,255.0 L463.0,258.0 L464.0,260.0 L465.5,261.8 L467.0,260.0 L468.3,256.0 L468.8,254.0 L469.5,250.0 L470.8,246.0 L471.6,246.5 L472.5,247.0 L474.0,247.0 L475.5,248.0 L477.0,250.0 L479.0,253.0 L480.8,255.0 L481.3,255.3 L481.7,255.5 L482.2,256.0 L482.9,256.0 L482.9,269.4 L482.2,269.4 L481.7,263.3 L481.3,262.6 L480.8,262.0 L479.0,260.2 L477.0,258.3 L475.5,256.5 L474.0,256.0 L472.5,257.6 L471.6,258.5 L470.8,259.4 L469.5,265.5 L468.8,268.0 L468.3,277.0 L467.0,277.3 L465.5,277.3 L464.0,277.3 L463.0,277.3 L461.9,277.3Z" fill="#dd5050"/>
<rect x="461.5" y="207.0" width="0.8" height="22" fill="#f08b35"/>
<rect x="460.2" y="206.5" width="1.5" height="85.5" fill="#8a2a22"/>
<path d="M492.2,212.0 L493.5,213.5 L495.0,216.5 L496.5,217.2 L497.3,215.0 L498.0,216.5 L499.5,220.0 L501.0,225.0 L502.5,225.6 L504.0,225.5 L505.5,227.0 L506.5,228.3 L507.3,225.0 L508.2,220.3 L509.5,213.0 L510.7,208.0 L511.2,207.5 L512.3,207.0 L513.0,207.0 L513.0,259.6 L512.3,259.6 L511.2,260.0 L510.7,260.2 L509.5,262.1 L508.2,265.3 L507.3,269.5 L506.5,272.0 L505.5,275.0 L504.0,277.5 L502.5,277.5 L501.0,277.5 L499.5,277.3 L498.0,276.5 L497.3,276.0 L496.5,275.5 L495.0,275.0 L493.5,278.0 L492.2,278.5Z" fill="#3b80bb"/>
<path d="M492.2,216.5 L493.5,218.5 L495.0,221.5 L496.5,222.7 L497.3,221.5 L498.0,224.4 L499.5,225.0 L501.0,229.0 L502.5,235.5 L504.0,235.0 L505.5,233.0 L506.5,228.5 L507.3,225.2 L508.2,220.3 L509.5,213.0 L510.7,208.0 L511.2,207.5 L512.3,207.0 L513.0,207.0 L513.0,259.6 L512.3,259.6 L511.2,260.0 L510.7,260.2 L509.5,262.1 L508.2,265.3 L507.3,269.5 L506.5,272.0 L505.5,275.0 L504.0,277.5 L502.5,277.5 L501.0,277.5 L499.5,277.3 L498.0,276.5 L497.3,276.0 L496.5,275.5 L495.0,275.0 L493.5,278.0 L492.2,278.5Z" fill="#f08b35"/>
<path d="M492.2,232.0 L493.5,234.0 L495.0,237.0 L496.5,241.0 L497.3,243.0 L498.0,244.5 L499.5,245.0 L501.0,245.0 L502.5,246.0 L504.0,246.0 L505.5,244.0 L506.5,238.0 L507.3,228.0 L508.2,222.0 L509.5,214.0 L510.7,208.5 L511.2,207.5 L512.3,207.0 L513.0,207.0 L513.0,259.6 L512.3,259.6 L511.2,260.0 L510.7,260.2 L509.5,262.1 L508.2,265.3 L507.3,269.5 L506.5,272.0 L505.5,275.0 L504.0,277.5 L502.5,277.5 L501.0,277.5 L499.5,277.3 L498.0,276.5 L497.3,276.0 L496.5,275.5 L495.0,275.0 L493.5,278.0 L492.2,278.5Z" fill="#4aa84a"/>
<path d="M492.2,250.0 L493.5,252.0 L495.0,256.0 L496.5,258.0 L497.3,259.5 L498.0,260.0 L499.5,261.0 L501.0,262.0 L502.5,262.5 L504.0,262.5 L505.5,262.0 L506.5,258.0 L507.3,246.0 L508.2,240.0 L509.5,234.0 L510.7,228.0 L511.2,207.5 L512.3,207.0 L513.0,207.0 L513.0,259.6 L512.3,259.6 L511.2,260.0 L510.7,260.2 L509.5,262.1 L508.2,265.3 L507.3,269.5 L506.5,272.0 L505.5,275.0 L504.0,277.5 L502.5,277.5 L501.0,277.5 L499.5,277.3 L498.0,276.5 L497.3,276.0 L496.5,275.5 L495.0,275.0 L493.5,278.0 L492.2,278.5Z" fill="#c5402f"/>
<path d="M492.2,262.0 L493.5,263.0 L495.0,264.0 L496.5,259.0 L497.3,259.5 L498.0,260.0 L499.5,261.0 L501.0,262.0 L502.5,262.5 L504.0,262.5 L505.5,262.0 L506.5,258.0 L507.3,257.0 L508.2,257.0 L509.5,256.0 L510.7,255.0 L511.2,254.0 L512.3,253.0 L513.0,253.0 L513.0,259.6 L512.3,259.6 L511.2,260.0 L510.7,260.2 L509.5,262.1 L508.2,265.3 L507.3,269.5 L506.5,272.0 L505.5,275.0 L504.0,277.5 L502.5,277.5 L501.0,277.5 L499.5,277.3 L498.0,276.5 L497.3,276.0 L496.5,275.5 L495.0,275.0 L493.5,278.0 L492.2,278.5Z" fill="#dd5050"/>
<path d="M490.0,207.1 L492.1,207.1 L492.2,278 L491.3,290 L490.2,291 Z" fill="#c23b2c"/>
<rect x="511.0" y="207.0" width="2.0" height="50" fill="#c23b2c"/>
<path d="M521.6,222.3 L523.2,223.8 L524.7,225.5 L526.2,226.3 L527.7,226.5 L529.2,226.0 L530.5,223.5 L532.0,220.0 L533.7,214.5 L535.7,212.0 L537.7,212.5 L539.7,210.0 L541.5,207.5 L542.7,207.3 L543.4,207.5 L543.4,273.0 L542.7,273.0 L541.5,267.0 L539.7,267.5 L537.7,266.5 L535.7,265.5 L533.7,264.0 L532.0,265.4 L530.5,268.0 L529.2,273.5 L527.7,277.0 L526.2,279.0 L524.7,281.0 L523.2,281.5 L521.6,281.5Z" fill="#3b80bb"/>
<path d="M521.6,229.0 L523.2,231.5 L524.7,232.5 L526.2,232.8 L527.7,232.3 L529.2,230.5 L530.5,227.5 L532.0,222.5 L533.7,214.8 L535.7,212.3 L537.7,213.0 L539.7,211.5 L541.5,212.5 L542.7,213.0 L543.4,214.0 L543.4,273.0 L542.7,273.0 L541.5,267.0 L539.7,267.5 L537.7,266.5 L535.7,265.5 L533.7,264.0 L532.0,265.4 L530.5,268.0 L529.2,273.5 L527.7,277.0 L526.2,279.0 L524.7,281.0 L523.2,281.5 L521.6,281.5Z" fill="#f08b35"/>
<path d="M521.6,241.0 L523.2,244.0 L524.7,246.5 L526.2,248.0 L527.7,247.0 L529.2,238.0 L530.5,233.0 L532.0,226.0 L533.7,218.0 L535.7,219.0 L537.7,219.5 L539.7,218.5 L541.5,218.0 L542.7,218.0 L543.4,218.5 L543.4,273.0 L542.7,273.0 L541.5,267.0 L539.7,267.5 L537.7,266.5 L535.7,265.5 L533.7,264.0 L532.0,265.4 L530.5,268.0 L529.2,273.5 L527.7,277.0 L526.2,279.0 L524.7,281.0 L523.2,281.5 L521.6,281.5Z" fill="#4aa84a"/>
<path d="M521.6,255.0 L523.2,259.0 L524.7,262.5 L526.2,264.6 L527.7,263.0 L529.2,256.0 L530.5,248.0 L532.0,242.0 L533.7,237.5 L535.7,236.0 L537.7,235.5 L539.7,234.5 L541.5,234.0 L542.7,235.0 L543.4,236.0 L543.4,273.0 L542.7,273.0 L541.5,267.0 L539.7,267.5 L537.7,266.5 L535.7,265.5 L533.7,264.0 L532.0,265.4 L530.5,268.0 L529.2,273.5 L527.7,277.0 L526.2,279.0 L524.7,281.0 L523.2,281.5 L521.6,281.5Z" fill="#c5402f"/>
<path d="M521.6,255.0 L523.2,259.0 L524.7,262.5 L526.2,264.6 L527.7,263.0 L529.2,256.0 L530.5,255.0 L532.0,255.0 L533.7,255.0 L535.7,255.0 L537.7,255.0 L539.7,255.0 L541.5,255.5 L542.7,256.0 L543.4,256.0 L543.4,273.0 L542.7,273.0 L541.5,267.0 L539.7,267.5 L537.7,266.5 L535.7,265.5 L533.7,264.0 L532.0,265.4 L530.5,268.0 L529.2,273.5 L527.7,277.0 L526.2,279.0 L524.7,281.0 L523.2,281.5 L521.6,281.5Z" fill="#dd5050"/>
<rect x="522.0" y="207.0" width="0.7" height="20" fill="#f08b35"/>
<rect x="520.7" y="206.6" width="1.4" height="85.4" fill="#c23b2c"/>
<path d="M552.7,212.0 L554.0,213.5 L555.5,216.5 L557.0,217.2 L557.8,215.0 L558.5,216.5 L560.0,220.0 L561.5,225.0 L563.0,225.6 L564.5,225.5 L566.0,227.0 L567.0,228.3 L567.8,225.0 L568.7,220.3 L570.0,213.0 L571.2,208.0 L571.7,207.5 L572.8,207.0 L573.5,207.0 L573.5,259.6 L572.8,259.6 L571.7,260.0 L571.2,260.2 L570.0,262.1 L568.7,265.3 L567.8,269.5 L567.0,272.0 L566.0,275.0 L564.5,277.5 L563.0,277.5 L561.5,277.5 L560.0,277.3 L558.5,276.5 L557.8,276.0 L557.0,275.5 L555.5,275.0 L554.0,278.0 L552.7,278.5Z" fill="#3b80bb"/>
<path d="M552.7,216.5 L554.0,218.5 L555.5,221.5 L557.0,222.7 L557.8,221.5 L558.5,224.4 L560.0,225.0 L561.5,229.0 L563.0,235.5 L564.5,235.0 L566.0,233.0 L567.0,228.5 L567.8,225.2 L568.7,220.3 L570.0,213.0 L571.2,208.0 L571.7,207.5 L572.8,207.0 L573.5,207.0 L573.5,259.6 L572.8,259.6 L571.7,260.0 L571.2,260.2 L570.0,262.1 L568.7,265.3 L567.8,269.5 L567.0,272.0 L566.0,275.0 L564.5,277.5 L563.0,277.5 L561.5,277.5 L560.0,277.3 L558.5,276.5 L557.8,276.0 L557.0,275.5 L555.5,275.0 L554.0,278.0 L552.7,278.5Z" fill="#f08b35"/>
<path d="M552.7,232.0 L554.0,234.0 L555.5,237.0 L557.0,241.0 L557.8,243.0 L558.5,244.5 L560.0,245.0 L561.5,245.0 L563.0,246.0 L564.5,246.0 L566.0,244.0 L567.0,238.0 L567.8,228.0 L568.7,222.0 L570.0,214.0 L571.2,208.5 L571.7,207.5 L572.8,207.0 L573.5,207.0 L573.5,259.6 L572.8,259.6 L571.7,260.0 L571.2,260.2 L570.0,262.1 L568.7,265.3 L567.8,269.5 L567.0,272.0 L566.0,275.0 L564.5,277.5 L563.0,277.5 L561.5,277.5 L560.0,277.3 L558.5,276.5 L557.8,276.0 L557.0,275.5 L555.5,275.0 L554.0,278.0 L552.7,278.5Z" fill="#4aa84a"/>
<path d="M552.7,250.0 L554.0,252.0 L555.5,256.0 L557.0,258.0 L557.8,259.5 L558.5,260.0 L560.0,261.0 L561.5,262.0 L563.0,262.5 L564.5,262.5 L566.0,262.0 L567.0,258.0 L567.8,246.0 L568.7,240.0 L570.0,234.0 L571.2,228.0 L571.7,207.5 L572.8,207.0 L573.5,207.0 L573.5,259.6 L572.8,259.6 L571.7,260.0 L571.2,260.2 L570.0,262.1 L568.7,265.3 L567.8,269.5 L567.0,272.0 L566.0,275.0 L564.5,277.5 L563.0,277.5 L561.5,277.5 L560.0,277.3 L558.5,276.5 L557.8,276.0 L557.0,275.5 L555.5,275.0 L554.0,278.0 L552.7,278.5Z" fill="#c5402f"/>
<path d="M552.7,262.0 L554.0,263.0 L555.5,264.0 L557.0,259.0 L557.8,259.5 L558.5,260.0 L560.0,261.0 L561.5,262.0 L563.0,262.5 L564.5,262.5 L566.0,262.0 L567.0,258.0 L567.8,257.0 L568.7,257.0 L570.0,256.0 L571.2,255.0 L571.7,254.0 L572.8,253.0 L573.5,253.0 L573.5,259.6 L572.8,259.6 L571.7,260.0 L571.2,260.2 L570.0,262.1 L568.7,265.3 L567.8,269.5 L567.0,272.0 L566.0,275.0 L564.5,277.5 L563.0,277.5 L561.5,277.5 L560.0,277.3 L558.5,276.5 L557.8,276.0 L557.0,275.5 L555.5,275.0 L554.0,278.0 L552.7,278.5Z" fill="#dd5050"/>
<path d="M550.6,207.1 L552.7,207.1 L552.8,278 L551.9,290 L550.8,291 Z" fill="#c23b2c"/>
<rect x="571.6" y="207.0" width="2.0" height="50" fill="#c23b2c"/>
<path d="M582.1,222.3 L583.7,223.8 L585.2,225.5 L586.7,226.3 L588.2,226.5 L589.7,226.0 L591.0,223.5 L592.5,220.0 L594.2,214.5 L596.2,212.0 L598.2,212.5 L600.2,210.0 L602.0,207.5 L603.2,207.3 L603.9,207.5 L603.9,273.0 L603.2,273.0 L602.0,267.0 L600.2,267.5 L598.2,266.5 L596.2,265.5 L594.2,264.0 L592.5,265.4 L591.0,268.0 L589.7,273.5 L588.2,277.0 L586.7,279.0 L585.2,281.0 L583.7,281.5 L582.1,281.5Z" fill="#3b80bb"/>
<path d="M582.1,229.0 L583.7,231.5 L585.2,232.5 L586.7,232.8 L588.2,232.3 L589.7,230.5 L591.0,227.5 L592.5,222.5 L594.2,214.8 L596.2,212.3 L598.2,213.0 L600.2,211.5 L602.0,212.5 L603.2,213.0 L603.9,214.0 L603.9,273.0 L603.2,273.0 L602.0,267.0 L600.2,267.5 L598.2,266.5 L596.2,265.5 L594.2,264.0 L592.5,265.4 L591.0,268.0 L589.7,273.5 L588.2,277.0 L586.7,279.0 L585.2,281.0 L583.7,281.5 L582.1,281.5Z" fill="#f08b35"/>
<path d="M582.1,241.0 L583.7,244.0 L585.2,246.5 L586.7,248.0 L588.2,247.0 L589.7,238.0 L591.0,233.0 L592.5,226.0 L594.2,218.0 L596.2,219.0 L598.2,219.5 L600.2,218.5 L602.0,218.0 L603.2,218.0 L603.9,218.5 L603.9,273.0 L603.2,273.0 L602.0,267.0 L600.2,267.5 L598.2,266.5 L596.2,265.5 L594.2,264.0 L592.5,265.4 L591.0,268.0 L589.7,273.5 L588.2,277.0 L586.7,279.0 L585.2,281.0 L583.7,281.5 L582.1,281.5Z" fill="#4aa84a"/>
<path d="M582.1,255.0 L583.7,259.0 L585.2,262.5 L586.7,264.6 L588.2,263.0 L589.7,256.0 L591.0,248.0 L592.5,242.0 L594.2,237.5 L596.2,236.0 L598.2,235.5 L600.2,234.5 L602.0,234.0 L603.2,235.0 L603.9,236.0 L603.9,273.0 L603.2,273.0 L602.0,267.0 L600.2,267.5 L598.2,266.5 L596.2,265.5 L594.2,264.0 L592.5,265.4 L591.0,268.0 L589.7,273.5 L588.2,277.0 L586.7,279.0 L585.2,281.0 L583.7,281.5 L582.1,281.5Z" fill="#c5402f"/>
<path d="M582.1,255.0 L583.7,259.0 L585.2,262.5 L586.7,264.6 L588.2,263.0 L589.7,256.0 L591.0,255.0 L592.5,255.0 L594.2,255.0 L596.2,255.0 L598.2,255.0 L600.2,255.0 L602.0,255.5 L603.2,256.0 L603.9,256.0 L603.9,273.0 L603.2,273.0 L602.0,267.0 L600.2,267.5 L598.2,266.5 L596.2,265.5 L594.2,264.0 L592.5,265.4 L591.0,268.0 L589.7,273.5 L588.2,277.0 L586.7,279.0 L585.2,281.0 L583.7,281.5 L582.1,281.5Z" fill="#dd5050"/>
<rect x="582.5" y="207.0" width="0.7" height="20" fill="#f08b35"/>
<rect x="581.2" y="206.6" width="1.4" height="85.4" fill="#c23b2c"/>
<path d="M613.3,212.0 L614.6,213.5 L616.1,216.5 L617.6,217.2 L618.4,215.0 L619.1,216.5 L620.6,220.0 L622.1,225.0 L623.6,225.6 L625.1,225.5 L626.6,227.0 L627.6,228.3 L628.4,225.0 L629.3,220.3 L630.6,213.0 L631.8,208.0 L632.3,207.5 L633.4,207.0 L634.1,207.0 L634.1,259.6 L633.4,259.6 L632.3,260.0 L631.8,260.2 L630.6,262.1 L629.3,265.3 L628.4,269.5 L627.6,272.0 L626.6,275.0 L625.1,277.5 L623.6,277.5 L622.1,277.5 L620.6,277.3 L619.1,276.5 L618.4,276.0 L617.6,275.5 L616.1,275.0 L614.6,278.0 L613.3,278.5Z" fill="#3b80bb"/>
<path d="M613.3,216.5 L614.6,218.5 L616.1,221.5 L617.6,222.7 L618.4,221.5 L619.1,224.4 L620.6,225.0 L622.1,229.0 L623.6,235.5 L625.1,235.0 L626.6,233.0 L627.6,228.5 L628.4,225.2 L629.3,220.3 L630.6,213.0 L631.8,208.0 L632.3,207.5 L633.4,207.0 L634.1,207.0 L634.1,259.6 L633.4,259.6 L632.3,260.0 L631.8,260.2 L630.6,262.1 L629.3,265.3 L628.4,269.5 L627.6,272.0 L626.6,275.0 L625.1,277.5 L623.6,277.5 L622.1,277.5 L620.6,277.3 L619.1,276.5 L618.4,276.0 L617.6,275.5 L616.1,275.0 L614.6,278.0 L613.3,278.5Z" fill="#f08b35"/>
<path d="M613.3,232.0 L614.6,234.0 L616.1,237.0 L617.6,241.0 L618.4,243.0 L619.1,244.5 L620.6,245.0 L622.1,245.0 L623.6,246.0 L625.1,246.0 L626.6,244.0 L627.6,238.0 L628.4,228.0 L629.3,222.0 L630.6,214.0 L631.8,208.5 L632.3,207.5 L633.4,207.0 L634.1,207.0 L634.1,259.6 L633.4,259.6 L632.3,260.0 L631.8,260.2 L630.6,262.1 L629.3,265.3 L628.4,269.5 L627.6,272.0 L626.6,275.0 L625.1,277.5 L623.6,277.5 L622.1,277.5 L620.6,277.3 L619.1,276.5 L618.4,276.0 L617.6,275.5 L616.1,275.0 L614.6,278.0 L613.3,278.5Z" fill="#4aa84a"/>
<path d="M613.3,250.0 L614.6,252.0 L616.1,256.0 L617.6,258.0 L618.4,259.5 L619.1,260.0 L620.6,261.0 L622.1,262.0 L623.6,262.5 L625.1,262.5 L626.6,262.0 L627.6,258.0 L628.4,246.0 L629.3,240.0 L630.6,234.0 L631.8,228.0 L632.3,207.5 L633.4,207.0 L634.1,207.0 L634.1,259.6 L633.4,259.6 L632.3,260.0 L631.8,260.2 L630.6,262.1 L629.3,265.3 L628.4,269.5 L627.6,272.0 L626.6,275.0 L625.1,277.5 L623.6,277.5 L622.1,277.5 L620.6,277.3 L619.1,276.5 L618.4,276.0 L617.6,275.5 L616.1,275.0 L614.6,278.0 L613.3,278.5Z" fill="#c5402f"/>
<path d="M613.3,262.0 L614.6,263.0 L616.1,264.0 L617.6,259.0 L618.4,259.5 L619.1,260.0 L620.6,261.0 L622.1,262.0 L623.6,262.5 L625.1,262.5 L626.6,262.0 L627.6,258.0 L628.4,257.0 L629.3,257.0 L630.6,256.0 L631.8,255.0 L632.3,254.0 L633.4,253.0 L634.1,253.0 L634.1,259.6 L633.4,259.6 L632.3,260.0 L631.8,260.2 L630.6,262.1 L629.3,265.3 L628.4,269.5 L627.6,272.0 L626.6,275.0 L625.1,277.5 L623.6,277.5 L622.1,277.5 L620.6,277.3 L619.1,276.5 L618.4,276.0 L617.6,275.5 L616.1,275.0 L614.6,278.0 L613.3,278.5Z" fill="#dd5050"/>
<path d="M611.1,207.1 L613.2,207.1 L613.3,278 L612.4,290 L611.3,291 Z" fill="#c23b2c"/>
<rect x="632.1" y="207.0" width="2.0" height="50" fill="#c23b2c"/>
<path d="M642.7,222.3 L644.3,223.8 L645.8,225.5 L647.3,226.3 L648.8,226.5 L650.3,226.0 L651.6,223.5 L653.1,220.0 L654.8,214.5 L656.8,212.0 L658.8,212.5 L660.8,210.0 L662.6,207.5 L663.8,207.3 L664.5,207.5 L664.5,273.0 L663.8,273.0 L662.6,267.0 L660.8,267.5 L658.8,266.5 L656.8,265.5 L654.8,264.0 L653.1,265.4 L651.6,268.0 L650.3,273.5 L648.8,277.0 L647.3,279.0 L645.8,281.0 L644.3,281.5 L642.7,281.5Z" fill="#3b80bb"/>
<path d="M642.7,229.0 L644.3,231.5 L645.8,232.5 L647.3,232.8 L648.8,232.3 L650.3,230.5 L651.6,227.5 L653.1,222.5 L654.8,214.8 L656.8,212.3 L658.8,213.0 L660.8,211.5 L662.6,212.5 L663.8,213.0 L664.5,214.0 L664.5,273.0 L663.8,273.0 L662.6,267.0 L660.8,267.5 L658.8,266.5 L656.8,265.5 L654.8,264.0 L653.1,265.4 L651.6,268.0 L650.3,273.5 L648.8,277.0 L647.3,279.0 L645.8,281.0 L644.3,281.5 L642.7,281.5Z" fill="#f08b35"/>
<path d="M642.7,241.0 L644.3,244.0 L645.8,246.5 L647.3,248.0 L648.8,247.0 L650.3,238.0 L651.6,233.0 L653.1,226.0 L654.8,218.0 L656.8,219.0 L658.8,219.5 L660.8,218.5 L662.6,218.0 L663.8,218.0 L664.5,218.5 L664.5,273.0 L663.8,273.0 L662.6,267.0 L660.8,267.5 L658.8,266.5 L656.8,265.5 L654.8,264.0 L653.1,265.4 L651.6,268.0 L650.3,273.5 L648.8,277.0 L647.3,279.0 L645.8,281.0 L644.3,281.5 L642.7,281.5Z" fill="#4aa84a"/>
<path d="M642.7,255.0 L644.3,259.0 L645.8,262.5 L647.3,264.6 L648.8,263.0 L650.3,256.0 L651.6,248.0 L653.1,242.0 L654.8,237.5 L656.8,236.0 L658.8,235.5 L660.8,234.5 L662.6,234.0 L663.8,235.0 L664.5,236.0 L664.5,273.0 L663.8,273.0 L662.6,267.0 L660.8,267.5 L658.8,266.5 L656.8,265.5 L654.8,264.0 L653.1,265.4 L651.6,268.0 L650.3,273.5 L648.8,277.0 L647.3,279.0 L645.8,281.0 L644.3,281.5 L642.7,281.5Z" fill="#c5402f"/>
<path d="M642.7,255.0 L644.3,259.0 L645.8,262.5 L647.3,264.6 L648.8,263.0 L650.3,256.0 L651.6,255.0 L653.1,255.0 L654.8,255.0 L656.8,255.0 L658.8,255.0 L660.8,255.0 L662.6,255.5 L663.8,256.0 L664.5,256.0 L664.5,273.0 L663.8,273.0 L662.6,267.0 L660.8,267.5 L658.8,266.5 L656.8,265.5 L654.8,264.0 L653.1,265.4 L651.6,268.0 L650.3,273.5 L648.8,277.0 L647.3,279.0 L645.8,281.0 L644.3,281.5 L642.7,281.5Z" fill="#dd5050"/>
<rect x="643.1" y="207.0" width="0.7" height="20" fill="#f08b35"/>
<rect x="641.8" y="206.6" width="1.4" height="85.4" fill="#c23b2c"/>
<path d="M673.8,212.0 L675.1,213.5 L676.6,216.5 L678.1,217.2 L678.9,215.0 L679.6,216.5 L681.1,220.0 L682.6,225.0 L684.1,225.6 L685.6,225.5 L687.1,227.0 L688.1,228.3 L688.9,225.0 L689.8,220.3 L691.1,213.0 L692.3,208.0 L692.8,207.5 L693.9,207.0 L694.6,207.0 L694.6,259.6 L693.9,259.6 L692.8,260.0 L692.3,260.2 L691.1,262.1 L689.8,265.3 L688.9,269.5 L688.1,272.0 L687.1,275.0 L685.6,277.5 L684.1,277.5 L682.6,277.5 L681.1,277.3 L679.6,276.5 L678.9,276.0 L678.1,275.5 L676.6,275.0 L675.1,278.0 L673.8,278.5Z" fill="#3b80bb"/>
<path d="M673.8,216.5 L675.1,218.5 L676.6,221.5 L678.1,222.7 L678.9,221.5 L679.6,224.4 L681.1,225.0 L682.6,229.0 L684.1,235.5 L685.6,235.0 L687.1,233.0 L688.1,228.5 L688.9,225.2 L689.8,220.3 L691.1,213.0 L692.3,208.0 L692.8,207.5 L693.9,207.0 L694.6,207.0 L694.6,259.6 L693.9,259.6 L692.8,260.0 L692.3,260.2 L691.1,262.1 L689.8,265.3 L688.9,269.5 L688.1,272.0 L687.1,275.0 L685.6,277.5 L684.1,277.5 L682.6,277.5 L681.1,277.3 L679.6,276.5 L678.9,276.0 L678.1,275.5 L676.6,275.0 L675.1,278.0 L673.8,278.5Z" fill="#f08b35"/>
<path d="M673.8,232.0 L675.1,234.0 L676.6,237.0 L678.1,241.0 L678.9,243.0 L679.6,244.5 L681.1,245.0 L682.6,245.0 L684.1,246.0 L685.6,246.0 L687.1,244.0 L688.1,238.0 L688.9,228.0 L689.8,222.0 L691.1,214.0 L692.3,208.5 L692.8,207.5 L693.9,207.0 L694.6,207.0 L694.6,259.6 L693.9,259.6 L692.8,260.0 L692.3,260.2 L691.1,262.1 L689.8,265.3 L688.9,269.5 L688.1,272.0 L687.1,275.0 L685.6,277.5 L684.1,277.5 L682.6,277.5 L681.1,277.3 L679.6,276.5 L678.9,276.0 L678.1,275.5 L676.6,275.0 L675.1,278.0 L673.8,278.5Z" fill="#4aa84a"/>
<path d="M673.8,250.0 L675.1,252.0 L676.6,256.0 L678.1,258.0 L678.9,259.5 L679.6,260.0 L681.1,261.0 L682.6,262.0 L684.1,262.5 L685.6,262.5 L687.1,262.0 L688.1,258.0 L688.9,246.0 L689.8,240.0 L691.1,234.0 L692.3,228.0 L692.8,207.5 L693.9,207.0 L694.6,207.0 L694.6,259.6 L693.9,259.6 L692.8,260.0 L692.3,260.2 L691.1,262.1 L689.8,265.3 L688.9,269.5 L688.1,272.0 L687.1,275.0 L685.6,277.5 L684.1,277.5 L682.6,277.5 L681.1,277.3 L679.6,276.5 L678.9,276.0 L678.1,275.5 L676.6,275.0 L675.1,278.0 L673.8,278.5Z" fill="#c5402f"/>
<path d="M673.8,262.0 L675.1,263.0 L676.6,264.0 L678.1,259.0 L678.9,259.5 L679.6,260.0 L681.1,261.0 L682.6,262.0 L684.1,262.5 L685.6,262.5 L687.1,262.0 L688.1,258.0 L688.9,257.0 L689.8,257.0 L691.1,256.0 L692.3,255.0 L692.8,254.0 L693.9,253.0 L694.6,253.0 L694.6,259.6 L693.9,259.6 L692.8,260.0 L692.3,260.2 L691.1,262.1 L689.8,265.3 L688.9,269.5 L688.1,272.0 L687.1,275.0 L685.6,277.5 L684.1,277.5 L682.6,277.5 L681.1,277.3 L679.6,276.5 L678.9,276.0 L678.1,275.5 L676.6,275.0 L675.1,278.0 L673.8,278.5Z" fill="#dd5050"/>
<path d="M671.6,207.1 L673.7,207.1 L673.8,278 L672.9,290 L671.8,291 Z" fill="#c23b2c"/>
<rect x="692.6" y="207.0" width="2.0" height="50" fill="#c23b2c"/>
<rect x="693.7" y="250.0" width="1.0" height="21" fill="#3b80bb"/>
<path d="M703.2,222.3 L704.8,223.8 L706.3,225.5 L707.8,226.3 L709.3,226.5 L710.8,226.0 L712.1,223.5 L713.6,220.0 L715.3,214.5 L717.3,212.0 L719.3,212.5 L721.3,210.0 L723.1,207.5 L724.3,207.3 L725.0,207.5 L725.0,273.0 L724.3,273.0 L723.1,267.0 L721.3,267.5 L719.3,266.5 L717.3,265.5 L715.3,264.0 L713.6,265.4 L712.1,268.0 L710.8,273.5 L709.3,277.0 L707.8,279.0 L706.3,281.0 L704.8,281.5 L703.2,281.5Z" fill="#3b80bb"/>
<path d="M703.2,229.0 L704.8,231.5 L706.3,232.5 L707.8,232.8 L709.3,232.3 L710.8,230.5 L712.1,227.5 L713.6,222.5 L715.3,214.8 L717.3,212.3 L719.3,213.0 L721.3,211.5 L723.1,212.5 L724.3,213.0 L725.0,214.0 L725.0,273.0 L724.3,273.0 L723.1,267.0 L721.3,267.5 L719.3,266.5 L717.3,265.5 L715.3,264.0 L713.6,265.4 L712.1,268.0 L710.8,273.5 L709.3,277.0 L707.8,279.0 L706.3,281.0 L704.8,281.5 L703.2,281.5Z" fill="#f08b35"/>
<path d="M703.2,241.0 L704.8,244.0 L706.3,246.5 L707.8,248.0 L709.3,247.0 L710.8,238.0 L712.1,233.0 L713.6,226.0 L715.3,218.0 L717.3,219.0 L719.3,219.5 L721.3,218.5 L723.1,218.0 L724.3,218.0 L725.0,218.5 L725.0,273.0 L724.3,273.0 L723.1,267.0 L721.3,267.5 L719.3,266.5 L717.3,265.5 L715.3,264.0 L713.6,265.4 L712.1,268.0 L710.8,273.5 L709.3,277.0 L707.8,279.0 L706.3,281.0 L704.8,281.5 L703.2,281.5Z" fill="#4aa84a"/>
<path d="M703.2,255.0 L704.8,259.0 L706.3,262.5 L707.8,264.6 L709.3,263.0 L710.8,256.0 L712.1,248.0 L713.6,242.0 L715.3,237.5 L717.3,236.0 L719.3,235.5 L721.3,234.5 L723.1,234.0 L724.3,235.0 L725.0,236.0 L725.0,273.0 L724.3,273.0 L723.1,267.0 L721.3,267.5 L719.3,266.5 L717.3,265.5 L715.3,264.0 L713.6,265.4 L712.1,268.0 L710.8,273.5 L709.3,277.0 L707.8,279.0 L706.3,281.0 L704.8,281.5 L703.2,281.5Z" fill="#c5402f"/>
<path d="M703.2,255.0 L704.8,259.0 L706.3,262.5 L707.8,264.6 L709.3,263.0 L710.8,256.0 L712.1,255.0 L713.6,255.0 L715.3,255.0 L717.3,255.0 L719.3,255.0 L721.3,255.0 L723.1,255.5 L724.3,256.0 L725.0,256.0 L725.0,273.0 L724.3,273.0 L723.1,267.0 L721.3,267.5 L719.3,266.5 L717.3,265.5 L715.3,264.0 L713.6,265.4 L712.1,268.0 L710.8,273.5 L709.3,277.0 L707.8,279.0 L706.3,281.0 L704.8,281.5 L703.2,281.5Z" fill="#dd5050"/>
<rect x="703.6" y="207.0" width="0.7" height="20" fill="#f08b35"/>
<rect x="702.3" y="206.6" width="1.4" height="85.4" fill="#c23b2c"/>
<path d="M734.4,212.0 L735.7,213.5 L737.2,216.5 L738.7,217.2 L739.5,215.0 L740.2,216.5 L741.7,220.0 L743.2,225.0 L744.7,225.6 L746.2,225.5 L747.7,227.0 L748.7,228.3 L749.5,225.0 L750.4,220.3 L751.7,213.0 L752.9,208.0 L753.4,207.5 L754.5,207.0 L755.2,207.0 L755.2,259.6 L754.5,259.6 L753.4,260.0 L752.9,260.2 L751.7,262.1 L750.4,265.3 L749.5,269.5 L748.7,272.0 L747.7,275.0 L746.2,277.5 L744.7,277.5 L743.2,277.5 L741.7,277.3 L740.2,276.5 L739.5,276.0 L738.7,275.5 L737.2,275.0 L735.7,278.0 L734.4,278.5Z" fill="#3b80bb"/>
<path d="M734.4,216.5 L735.7,218.5 L737.2,221.5 L738.7,222.7 L739.5,221.5 L740.2,224.4 L741.7,225.0 L743.2,229.0 L744.7,235.5 L746.2,235.0 L747.7,233.0 L748.7,228.5 L749.5,225.2 L750.4,220.3 L751.7,213.0 L752.9,208.0 L753.4,207.5 L754.5,207.0 L755.2,207.0 L755.2,259.6 L754.5,259.6 L753.4,260.0 L752.9,260.2 L751.7,262.1 L750.4,265.3 L749.5,269.5 L748.7,272.0 L747.7,275.0 L746.2,277.5 L744.7,277.5 L743.2,277.5 L741.7,277.3 L740.2,276.5 L739.5,276.0 L738.7,275.5 L737.2,275.0 L735.7,278.0 L734.4,278.5Z" fill="#f08b35"/>
<path d="M734.4,232.0 L735.7,234.0 L737.2,237.0 L738.7,241.0 L739.5,243.0 L740.2,244.5 L741.7,245.0 L743.2,245.0 L744.7,246.0 L746.2,246.0 L747.7,244.0 L748.7,238.0 L749.5,228.0 L750.4,222.0 L751.7,214.0 L752.9,208.5 L753.4,207.5 L754.5,207.0 L755.2,207.0 L755.2,259.6 L754.5,259.6 L753.4,260.0 L752.9,260.2 L751.7,262.1 L750.4,265.3 L749.5,269.5 L748.7,272.0 L747.7,275.0 L746.2,277.5 L744.7,277.5 L743.2,277.5 L741.7,277.3 L740.2,276.5 L739.5,276.0 L738.7,275.5 L737.2,275.0 L735.7,278.0 L734.4,278.5Z" fill="#4aa84a"/>
<path d="M734.4,250.0 L735.7,252.0 L737.2,256.0 L738.7,258.0 L739.5,259.5 L740.2,260.0 L741.7,261.0 L743.2,262.0 L744.7,262.5 L746.2,262.5 L747.7,262.0 L748.7,258.0 L749.5,246.0 L750.4,240.0 L751.7,234.0 L752.9,228.0 L753.4,207.5 L754.5,207.0 L755.2,207.0 L755.2,259.6 L754.5,259.6 L753.4,260.0 L752.9,260.2 L751.7,262.1 L750.4,265.3 L749.5,269.5 L748.7,272.0 L747.7,275.0 L746.2,277.5 L744.7,277.5 L743.2,277.5 L741.7,277.3 L740.2,276.5 L739.5,276.0 L738.7,275.5 L737.2,275.0 L735.7,278.0 L734.4,278.5Z" fill="#c5402f"/>
<path d="M734.4,262.0 L735.7,263.0 L737.2,264.0 L738.7,259.0 L739.5,259.5 L740.2,260.0 L741.7,261.0 L743.2,262.0 L744.7,262.5 L746.2,262.5 L747.7,262.0 L748.7,258.0 L749.5,257.0 L750.4,257.0 L751.7,256.0 L752.9,255.0 L753.4,254.0 L754.5,253.0 L755.2,253.0 L755.2,259.6 L754.5,259.6 L753.4,260.0 L752.9,260.2 L751.7,262.1 L750.4,265.3 L749.5,269.5 L748.7,272.0 L747.7,275.0 L746.2,277.5 L744.7,277.5 L743.2,277.5 L741.7,277.3 L740.2,276.5 L739.5,276.0 L738.7,275.5 L737.2,275.0 L735.7,278.0 L734.4,278.5Z" fill="#dd5050"/>
<path d="M732.2,207.1 L734.3,207.1 L734.4,278 L733.5,290 L732.4,291 Z" fill="#c23b2c"/>
<rect x="753.2" y="207.0" width="2.0" height="50" fill="#c23b2c"/>
<rect x="60.1" y="0.6" width="686.3" height="30.1" rx="3.5" ry="3.5" fill="#fff" stroke="#cfcfcf" stroke-width="1.4"/>
<line x1="66.0" y1="15.05" x2="102.60000000000001" y2="15.05" stroke="#3d334a" stroke-width="2.3"/>
<line x1="208.4" y1="15.05" x2="244.6" y2="15.05" stroke="#408bbf" stroke-width="2.3"/>
<line x1="338.6" y1="15.05" x2="374.7" y2="15.05" stroke="#ff9232" stroke-width="2.3"/>
<line x1="480.0" y1="15.05" x2="516.2" y2="15.05" stroke="#4bae4b" stroke-width="2.3"/>
<line x1="621.3" y1="15.05" x2="657.5" y2="15.05" stroke="#dc4748" stroke-width="2.3"/>
<rect x="83.1" y="78.0" width="253.20000000000002" height="214.89999999999998" fill="none" stroke="#000" stroke-width="1.4"/>
<line x1="77.1" y1="78.1" x2="83.1" y2="78.1" stroke="#000" stroke-width="1.4"/>
<line x1="77.1" y1="113.9" x2="83.1" y2="113.9" stroke="#000" stroke-width="1.4"/>
<line x1="77.1" y1="149.7" x2="83.1" y2="149.7" stroke="#000" stroke-width="1.4"/>
<line x1="77.1" y1="185.4" x2="83.1" y2="185.4" stroke="#000" stroke-width="1.4"/>
<line x1="77.1" y1="221.1" x2="83.1" y2="221.1" stroke="#000" stroke-width="1.4"/>
<line x1="77.1" y1="256.9" x2="83.1" y2="256.9" stroke="#000" stroke-width="1.4"/>
<line x1="77.1" y1="292.7" x2="83.1" y2="292.7" stroke="#000" stroke-width="1.4"/>
<line x1="88.0" y1="292.9" x2="88.0" y2="298.9" stroke="#000" stroke-width="1.4"/>
<line x1="183.6" y1="292.9" x2="183.6" y2="298.9" stroke="#000" stroke-width="1.4"/>
<line x1="279.2" y1="292.9" x2="279.2" y2="298.9" stroke="#000" stroke-width="1.4"/>
<polyline points="83.1,263.8 87.8,263.8 87.8,148.0 104.0,148.0 104.0,215.1 120.0,215.1 120.0,210.4 135.7,210.4 135.7,263.8 227.9,263.8 227.9,196.6 243.9,196.6 243.9,155.6 259.4,155.6 259.4,221.0 275.4,221.0 275.4,263.8 336.3,263.8" fill="none" stroke="#000" stroke-width="3.0" stroke-linejoin="round"/>
<line x1="459.8" y1="77.3" x2="459.8" y2="164.29999999999998" stroke="#000" stroke-width="1.4"/>
<line x1="459.1" y1="163.6" x2="756" y2="163.6" stroke="#000" stroke-width="1.4"/>
<line x1="453.8" y1="108.1" x2="459.8" y2="108.1" stroke="#000" stroke-width="1.4"/>
<line x1="453.8" y1="155.3" x2="459.8" y2="155.3" stroke="#000" stroke-width="1.4"/>
<line x1="471.3" y1="163.6" x2="471.3" y2="169.6" stroke="#000" stroke-width="1.4"/>
<line x1="478.34999999999997" y1="168.5" x2="487.55" y2="158.7" stroke="#000" stroke-width="1.4"/>
<line x1="501.57" y1="163.6" x2="501.57" y2="169.6" stroke="#000" stroke-width="1.4"/>
<line x1="485.32" y1="168.5" x2="494.52000000000004" y2="158.7" stroke="#000" stroke-width="1.4"/>
<line x1="508.62" y1="168.5" x2="517.82" y2="158.7" stroke="#000" stroke-width="1.4"/>
<line x1="531.84" y1="163.6" x2="531.84" y2="169.6" stroke="#000" stroke-width="1.4"/>
<line x1="515.59" y1="168.5" x2="524.7900000000001" y2="158.7" stroke="#000" stroke-width="1.4"/>
<line x1="538.89" y1="168.5" x2="548.09" y2="158.7" stroke="#000" stroke-width="1.4"/>
<line x1="562.11" y1="163.6" x2="562.11" y2="169.6" stroke="#000" stroke-width="1.4"/>
<line x1="545.86" y1="168.5" x2="555.0600000000001" y2="158.7" stroke="#000" stroke-width="1.4"/>
<line x1="569.16" y1="168.5" x2="578.36" y2="158.7" stroke="#000" stroke-width="1.4"/>
<line x1="592.38" y1="163.6" x2="592.38" y2="169.6" stroke="#000" stroke-width="1.4"/>
<line x1="576.13" y1="168.5" x2="585.33" y2="158.7" stroke="#000" stroke-width="1.4"/>
<line x1="599.43" y1="168.5" x2="608.63" y2="158.7" stroke="#000" stroke-width="1.4"/>
<line x1="622.65" y1="163.6" x2="622.65" y2="169.6" stroke="#000" stroke-width="1.4"/>
<line x1="606.4" y1="168.5" x2="615.6" y2="158.7" stroke="#000" stroke-width="1.4"/>
<line x1="629.6999999999999" y1="168.5" x2="638.9" y2="158.7" stroke="#000" stroke-width="1.4"/>
<line x1="652.9200000000001" y1="163.6" x2="652.9200000000001" y2="169.6" stroke="#000" stroke-width="1.4"/>
<line x1="636.6700000000001" y1="168.5" x2="645.8700000000001" y2="158.7" stroke="#000" stroke-width="1.4"/>
<line x1="659.97" y1="168.5" x2="669.1700000000001" y2="158.7" stroke="#000" stroke-width="1.4"/>
<line x1="683.19" y1="163.6" x2="683.19" y2="169.6" stroke="#000" stroke-width="1.4"/>
<line x1="666.94" y1="168.5" x2="676.1400000000001" y2="158.7" stroke="#000" stroke-width="1.4"/>
<line x1="690.24" y1="168.5" x2="699.44" y2="158.7" stroke="#000" stroke-width="1.4"/>
<line x1="713.46" y1="163.6" x2="713.46" y2="169.6" stroke="#000" stroke-width="1.4"/>
<line x1="697.21" y1="168.5" x2="706.4100000000001" y2="158.7" stroke="#000" stroke-width="1.4"/>
<line x1="720.51" y1="168.5" x2="729.71" y2="158.7" stroke="#000" stroke-width="1.4"/>
<line x1="743.73" y1="163.6" x2="743.73" y2="169.6" stroke="#000" stroke-width="1.4"/>
<line x1="727.48" y1="168.5" x2="736.6800000000001" y2="158.7" stroke="#000" stroke-width="1.4"/>
<line x1="459.8" y1="207.0" x2="459.8" y2="293.2" stroke="#000" stroke-width="1.4"/>
<line x1="459.1" y1="292.5" x2="756" y2="292.5" stroke="#000" stroke-width="1.4"/>
<line x1="453.8" y1="207.0" x2="459.8" y2="207.0" stroke="#000" stroke-width="1.4"/>
<line x1="453.8" y1="232.23" x2="459.8" y2="232.23" stroke="#000" stroke-width="1.4"/>
<line x1="453.8" y1="257.46" x2="459.8" y2="257.46" stroke="#000" stroke-width="1.4"/>
<line x1="453.8" y1="282.69" x2="459.8" y2="282.69" stroke="#000" stroke-width="1.4"/>
<line x1="471.3" y1="292.5" x2="471.3" y2="298.5" stroke="#000" stroke-width="1.4"/>
<line x1="478.34999999999997" y1="297.4" x2="487.55" y2="287.6" stroke="#000" stroke-width="1.4"/>
<line x1="501.57" y1="292.5" x2="501.57" y2="298.5" stroke="#000" stroke-width="1.4"/>
<line x1="485.32" y1="297.4" x2="494.52000000000004" y2="287.6" stroke="#000" stroke-width="1.4"/>
<line x1="508.62" y1="297.4" x2="517.82" y2="287.6" stroke="#000" stroke-width="1.4"/>
<line x1="531.84" y1="292.5" x2="531.84" y2="298.5" stroke="#000" stroke-width="1.4"/>
<line x1="515.59" y1="297.4" x2="524.7900000000001" y2="287.6" stroke="#000" stroke-width="1.4"/>
<line x1="538.89" y1="297.4" x2="548.09" y2="287.6" stroke="#000" stroke-width="1.4"/>
<line x1="562.11" y1="292.5" x2="562.11" y2="298.5" stroke="#000" stroke-width="1.4"/>
<line x1="545.86" y1="297.4" x2="555.0600000000001" y2="287.6" stroke="#000" stroke-width="1.4"/>
<line x1="569.16" y1="297.4" x2="578.36" y2="287.6" stroke="#000" stroke-width="1.4"/>
<line x1="592.38" y1="292.5" x2="592.38" y2="298.5" stroke="#000" stroke-width="1.4"/>
<line x1="576.13" y1="297.4" x2="585.33" y2="287.6" stroke="#000" stroke-width="1.4"/>
<line x1="599.43" y1="297.4" x2="608.63" y2="287.6" stroke="#000" stroke-width="1.4"/>
<line x1="622.65" y1="292.5" x2="622.65" y2="298.5" stroke="#000" stroke-width="1.4"/>
<line x1="606.4" y1="297.4" x2="615.6" y2="287.6" stroke="#000" stroke-width="1.4"/>
<line x1="629.6999999999999" y1="297.4" x2="638.9" y2="287.6" stroke="#000" stroke-width="1.4"/>
<line x1="652.9200000000001" y1="292.5" x2="652.9200000000001" y2="298.5" stroke="#000" stroke-width="1.4"/>
<line x1="636.6700000000001" y1="297.4" x2="645.8700000000001" y2="287.6" stroke="#000" stroke-width="1.4"/>
<line x1="659.97" y1="297.4" x2="669.1700000000001" y2="287.6" stroke="#000" stroke-width="1.4"/>
<line x1="683.19" y1="292.5" x2="683.19" y2="298.5" stroke="#000" stroke-width="1.4"/>
<line x1="666.94" y1="297.4" x2="676.1400000000001" y2="287.6" stroke="#000" stroke-width="1.4"/>
<line x1="690.24" y1="297.4" x2="699.44" y2="287.6" stroke="#000" stroke-width="1.4"/>
<line x1="713.46" y1="292.5" x2="713.46" y2="298.5" stroke="#000" stroke-width="1.4"/>
<line x1="697.21" y1="297.4" x2="706.4100000000001" y2="287.6" stroke="#000" stroke-width="1.4"/>
<line x1="720.51" y1="297.4" x2="729.71" y2="287.6" stroke="#000" stroke-width="1.4"/>
<line x1="743.73" y1="292.5" x2="743.73" y2="298.5" stroke="#000" stroke-width="1.4"/>
<line x1="727.48" y1="297.4" x2="736.6800000000001" y2="287.6" stroke="#000" stroke-width="1.4"/>
<text transform="translate(115.46,21.20) scale(0.988,1.03)">c</text><text transform="translate(124.94,21.20) scale(1.045,1.03)">o</text><text transform="translate(135.70,21.20) scale(1.063,1.03)">n</text><text transform="translate(146.51,21.20) scale(1.309,1.03)">t</text><text transform="translate(153.25,21.20) scale(1.256,1.03)">r</text><text transform="translate(160.06,21.20) scale(1.045,1.03)">o</text><text transform="translate(170.99,21.20) scale(0.985,1.03)">l</text>
<text transform="translate(258.24,21.20) scale(0.988,1.0)">3</text><text transform="translate(269.07,21.20) scale(1.030,1.0)">0</text><text transform="translate(279.97,21.20) scale(1.063,1.03)">n</text><text transform="translate(290.95,21.20) scale(0.978,1.0)">M</text>
<text transform="translate(388.39,21.20) scale(0.981,1.0)">1</text><text transform="translate(399.24,21.20) scale(1.028,1.0)">0</text><text transform="translate(410.24,21.20) scale(1.028,1.0)">0</text><text transform="translate(421.13,21.20) scale(1.061,1.03)">n</text><text transform="translate(432.07,21.20) scale(0.976,1.0)">M</text>
<text transform="translate(529.64,21.20) scale(0.983,1.0)">3</text><text transform="translate(540.41,21.20) scale(1.024,1.0)">0</text><text transform="translate(551.37,21.20) scale(1.024,1.0)">0</text><text transform="translate(562.21,21.20) scale(1.057,1.03)">n</text><text transform="translate(573.12,21.20) scale(0.972,1.0)">M</text>
<text transform="translate(670.91,21.20) scale(0.971,1.0)">1</text><text transform="translate(681.64,21.20) scale(1.017,1.0)">0</text><text transform="translate(692.53,21.20) scale(1.017,1.0)">0</text><text transform="translate(703.41,21.20) scale(1.017,1.0)">0</text><text transform="translate(714.18,21.20) scale(1.049,1.03)">n</text><text transform="translate(725.01,21.20) scale(0.965,1.0)">M</text>
<text transform="translate(141.22,67.90) scale(0.989,1.0)">V</text><text transform="translate(151.74,67.90) scale(1.034,1.03)">o</text><text transform="translate(162.56,67.90) scale(0.975,1.03)">l</text><text transform="translate(166.99,67.90) scale(1.296,1.03)">t</text><text transform="translate(173.94,67.90) scale(0.873,1.03)">a</text><text transform="translate(184.22,67.90) scale(1.062,1.03)">g</text><text transform="translate(195.12,67.90) scale(1.055,1.03)">e</text><text transform="translate(211.43,67.90) scale(0.861,1.0)">P</text><text transform="translate(221.11,67.90) scale(1.243,1.03)">r</text><text transform="translate(227.85,67.90) scale(1.034,1.03)">o</text><text transform="translate(238.33,67.90) scale(1.296,1.03)">t</text><text transform="translate(245.07,67.90) scale(1.034,1.03)">o</text><text transform="translate(255.61,67.90) scale(0.978,1.03)">c</text><text transform="translate(265.00,67.90) scale(1.034,1.03)">o</text><text transform="translate(275.82,67.90) scale(0.975,1.03)">l</text>
<text transform="translate(557.40,68.00) scale(0.976,1.0)">1</text><text transform="translate(568.19,68.00) scale(1.022,1.0)">0</text><text transform="translate(578.94,68.00) scale(1.089,1.03)">x</text><text transform="translate(594.64,68.00) scale(1.064,1.03)">p</text><text transform="translate(605.49,68.00) scale(1.049,1.03)">u</text><text transform="translate(616.65,68.00) scale(0.978,1.03)">l</text><text transform="translate(621.41,68.00) scale(0.937,1.03)">s</text><text transform="translate(630.05,68.00) scale(1.058,1.03)">e</text><text transform="translate(640.95,68.00) scale(0.937,1.03)">s</text>
<text transform="translate(50.07,85.00) scale(0.975,1.0)">5</text><text transform="translate(60.84,85.00) scale(1.021,1.0)">0</text>
<text transform="translate(50.30,120.80) scale(0.986,1.0)">2</text><text transform="translate(61.41,120.80) scale(0.967,1.0)">5</text>
<text transform="translate(60.82,156.60) scale(1.024,1.0)">0</text>
<text transform="translate(36.15,192.30) scale(1.257,1.0)">−</text><text transform="translate(50.14,192.30) scale(0.994,1.0)">2</text><text transform="translate(61.34,192.30) scale(0.975,1.0)">5</text>
<text transform="translate(35.75,228.00) scale(1.259,1.0)">−</text><text transform="translate(50.03,228.00) scale(0.977,1.0)">5</text><text transform="translate(60.82,228.00) scale(1.023,1.0)">0</text>
<text transform="translate(36.15,263.80) scale(1.257,1.0)">−</text><text transform="translate(50.30,263.80) scale(1.005,1.0)">7</text><text transform="translate(61.34,263.80) scale(0.975,1.0)">5</text>
<text transform="translate(24.85,299.60) scale(1.258,1.0)">−</text><text transform="translate(39.10,299.60) scale(0.976,1.0)">1</text><text transform="translate(49.89,299.60) scale(1.022,1.0)">0</text><text transform="translate(60.83,299.60) scale(1.022,1.0)">0</text>
<text transform="translate(82.97,318.40) scale(1.024,1.0)">0</text>
<text transform="translate(156.54,318.40) scale(0.994,1.0)">2</text><text transform="translate(167.58,318.40) scale(1.021,1.0)">0</text><text transform="translate(178.51,318.40) scale(1.021,1.0)">0</text><text transform="translate(189.45,318.40) scale(1.021,1.0)">0</text><text transform="translate(200.39,318.40) scale(1.021,1.0)">0</text>
<text transform="translate(252.37,318.40) scale(1.024,1.0)">4</text><text transform="translate(263.34,318.40) scale(1.023,1.0)">0</text><text transform="translate(274.30,318.40) scale(1.023,1.0)">0</text><text transform="translate(285.26,318.40) scale(1.023,1.0)">0</text><text transform="translate(296.22,318.40) scale(1.023,1.0)">0</text>
<text transform="translate(166.86,341.10) scale(1.051,1.0)">T</text><text transform="translate(177.70,341.10) scale(0.968,1.03)">i</text><text transform="translate(182.19,341.10) scale(1.097,1.03)">m</text><text transform="translate(198.68,341.10) scale(1.047,1.03)">e</text><text transform="translate(214.97,341.10) scale(0.821,1.0)">(</text><text transform="translate(221.31,341.10) scale(1.097,1.03)">m</text><text transform="translate(238.11,341.10) scale(0.927,1.03)">s</text><text transform="translate(247.73,341.10) scale(0.836,1.0)">)</text>
<g transform="translate(12.70,240.30) rotate(-90)"><text transform="translate(-0.08,0) scale(0.981,1.0)">V</text><text transform="translate(10.36,0) scale(1.026,1.03)">o</text><text transform="translate(21.10,0) scale(0.968,1.03)">l</text><text transform="translate(25.49,0) scale(1.286,1.03)">t</text><text transform="translate(32.39,0) scale(0.867,1.03)">a</text><text transform="translate(42.59,0) scale(1.054,1.03)">g</text><text transform="translate(53.41,0) scale(1.047,1.03)">e</text><text transform="translate(69.70,0) scale(0.821,1.0)">(</text><text transform="translate(76.03,0) scale(1.097,1.03)">m</text><text transform="translate(92.41,0) scale(0.981,1.0)">V</text><text transform="translate(105.23,0) scale(0.836,1.0)">)</text></g>
<text transform="translate(415.57,115.00) scale(0.977,1.0)">5</text><text transform="translate(426.36,115.00) scale(1.023,1.0)">0</text><text transform="translate(437.32,115.00) scale(1.023,1.0)">0</text>
<text transform="translate(437.32,162.20) scale(1.024,1.0)">0</text>
<text transform="translate(421.00,213.90) scale(0.973,1.0)">1</text><text transform="translate(431.57,213.90) scale(1.004,1.0)">.</text><text transform="translate(437.37,213.90) scale(0.972,1.0)">5</text>
<text transform="translate(420.60,239.13) scale(0.975,1.0)">1</text><text transform="translate(431.20,239.13) scale(1.006,1.0)">.</text><text transform="translate(436.84,239.13) scale(1.021,1.0)">0</text>
<text transform="translate(420.82,264.36) scale(1.020,1.0)">0</text><text transform="translate(431.56,264.36) scale(1.005,1.0)">.</text><text transform="translate(437.36,264.36) scale(0.973,1.0)">5</text>
<text transform="translate(420.42,289.59) scale(1.022,1.0)">0</text><text transform="translate(431.18,289.59) scale(1.008,1.0)">.</text><text transform="translate(436.83,289.59) scale(1.022,1.0)">0</text>
<text transform="translate(466.25,318.30) scale(0.978,1.0)">1</text>
<text transform="translate(496.71,318.30) scale(0.987,1.0)">2</text>
<text transform="translate(527.03,318.30) scale(0.986,1.0)">3</text>
<text transform="translate(557.08,318.30) scale(1.032,1.0)">4</text>
<text transform="translate(587.60,318.30) scale(0.972,1.0)">5</text>
<text transform="translate(617.32,318.30) scale(1.065,1.0)">6</text>
<text transform="translate(647.94,318.30) scale(1.012,1.0)">7</text>
<text transform="translate(678.12,318.30) scale(1.032,1.0)">8</text>
<text transform="translate(708.28,318.30) scale(1.053,1.0)">9</text>
<text transform="translate(733.03,318.30) scale(0.973,1.0)">1</text><text transform="translate(743.79,318.30) scale(1.019,1.0)">0</text>
<text transform="translate(580.88,341.50) scale(0.863,1.0)">P</text><text transform="translate(590.73,341.50) scale(1.049,1.03)">u</text><text transform="translate(601.88,341.50) scale(0.977,1.03)">l</text><text transform="translate(606.65,341.50) scale(0.936,1.03)">s</text><text transform="translate(615.28,341.50) scale(1.058,1.03)">e</text>
<g transform="translate(404.40,173.10) rotate(-90)"><text transform="translate(-0.83,0) scale(0.902,1.0)">C</text><text transform="translate(11.22,0) scale(1.042,1.03)">u</text><text transform="translate(21.90,0) scale(1.237,1.03)">r</text><text transform="translate(28.62,0) scale(1.237,1.03)">r</text><text transform="translate(35.31,0) scale(1.050,1.03)">e</text><text transform="translate(45.98,0) scale(1.047,1.03)">n</text><text transform="translate(56.64,0) scale(1.290,1.03)">t</text><text transform="translate(69.17,0) scale(0.823,1.0)">(</text><text transform="translate(75.58,0) scale(1.057,1.03)">p</text><text transform="translate(86.16,0) scale(0.977,1.0)">A</text><text transform="translate(99.02,0) scale(0.838,1.0)">)</text></g>
<g transform="translate(404.20,316.50) rotate(-90)"><text transform="translate(-1.22,0) scale(0.864,1.0)">P</text><text transform="translate(8.50,0) scale(1.248,1.03)">r</text><text transform="translate(15.27,0) scale(1.039,1.03)">o</text><text transform="translate(25.94,0) scale(1.066,1.03)">p</text><text transform="translate(36.74,0) scale(1.039,1.03)">o</text><text transform="translate(47.20,0) scale(1.248,1.03)">r</text><text transform="translate(54.34,0) scale(1.301,1.03)">t</text><text transform="translate(61.44,0) scale(0.979,1.03)">i</text><text transform="translate(65.90,0) scale(1.039,1.03)">o</text><text transform="translate(76.58,0) scale(1.056,1.03)">n</text><text transform="translate(92.83,0) scale(1.039,1.03)">o</text><text transform="translate(103.50,0) scale(1.066,1.03)">p</text><text transform="translate(114.28,0) scale(1.060,1.03)">e</text><text transform="translate(125.04,0) scale(1.056,1.03)">n</text></g>
</svg>
</body></html>
